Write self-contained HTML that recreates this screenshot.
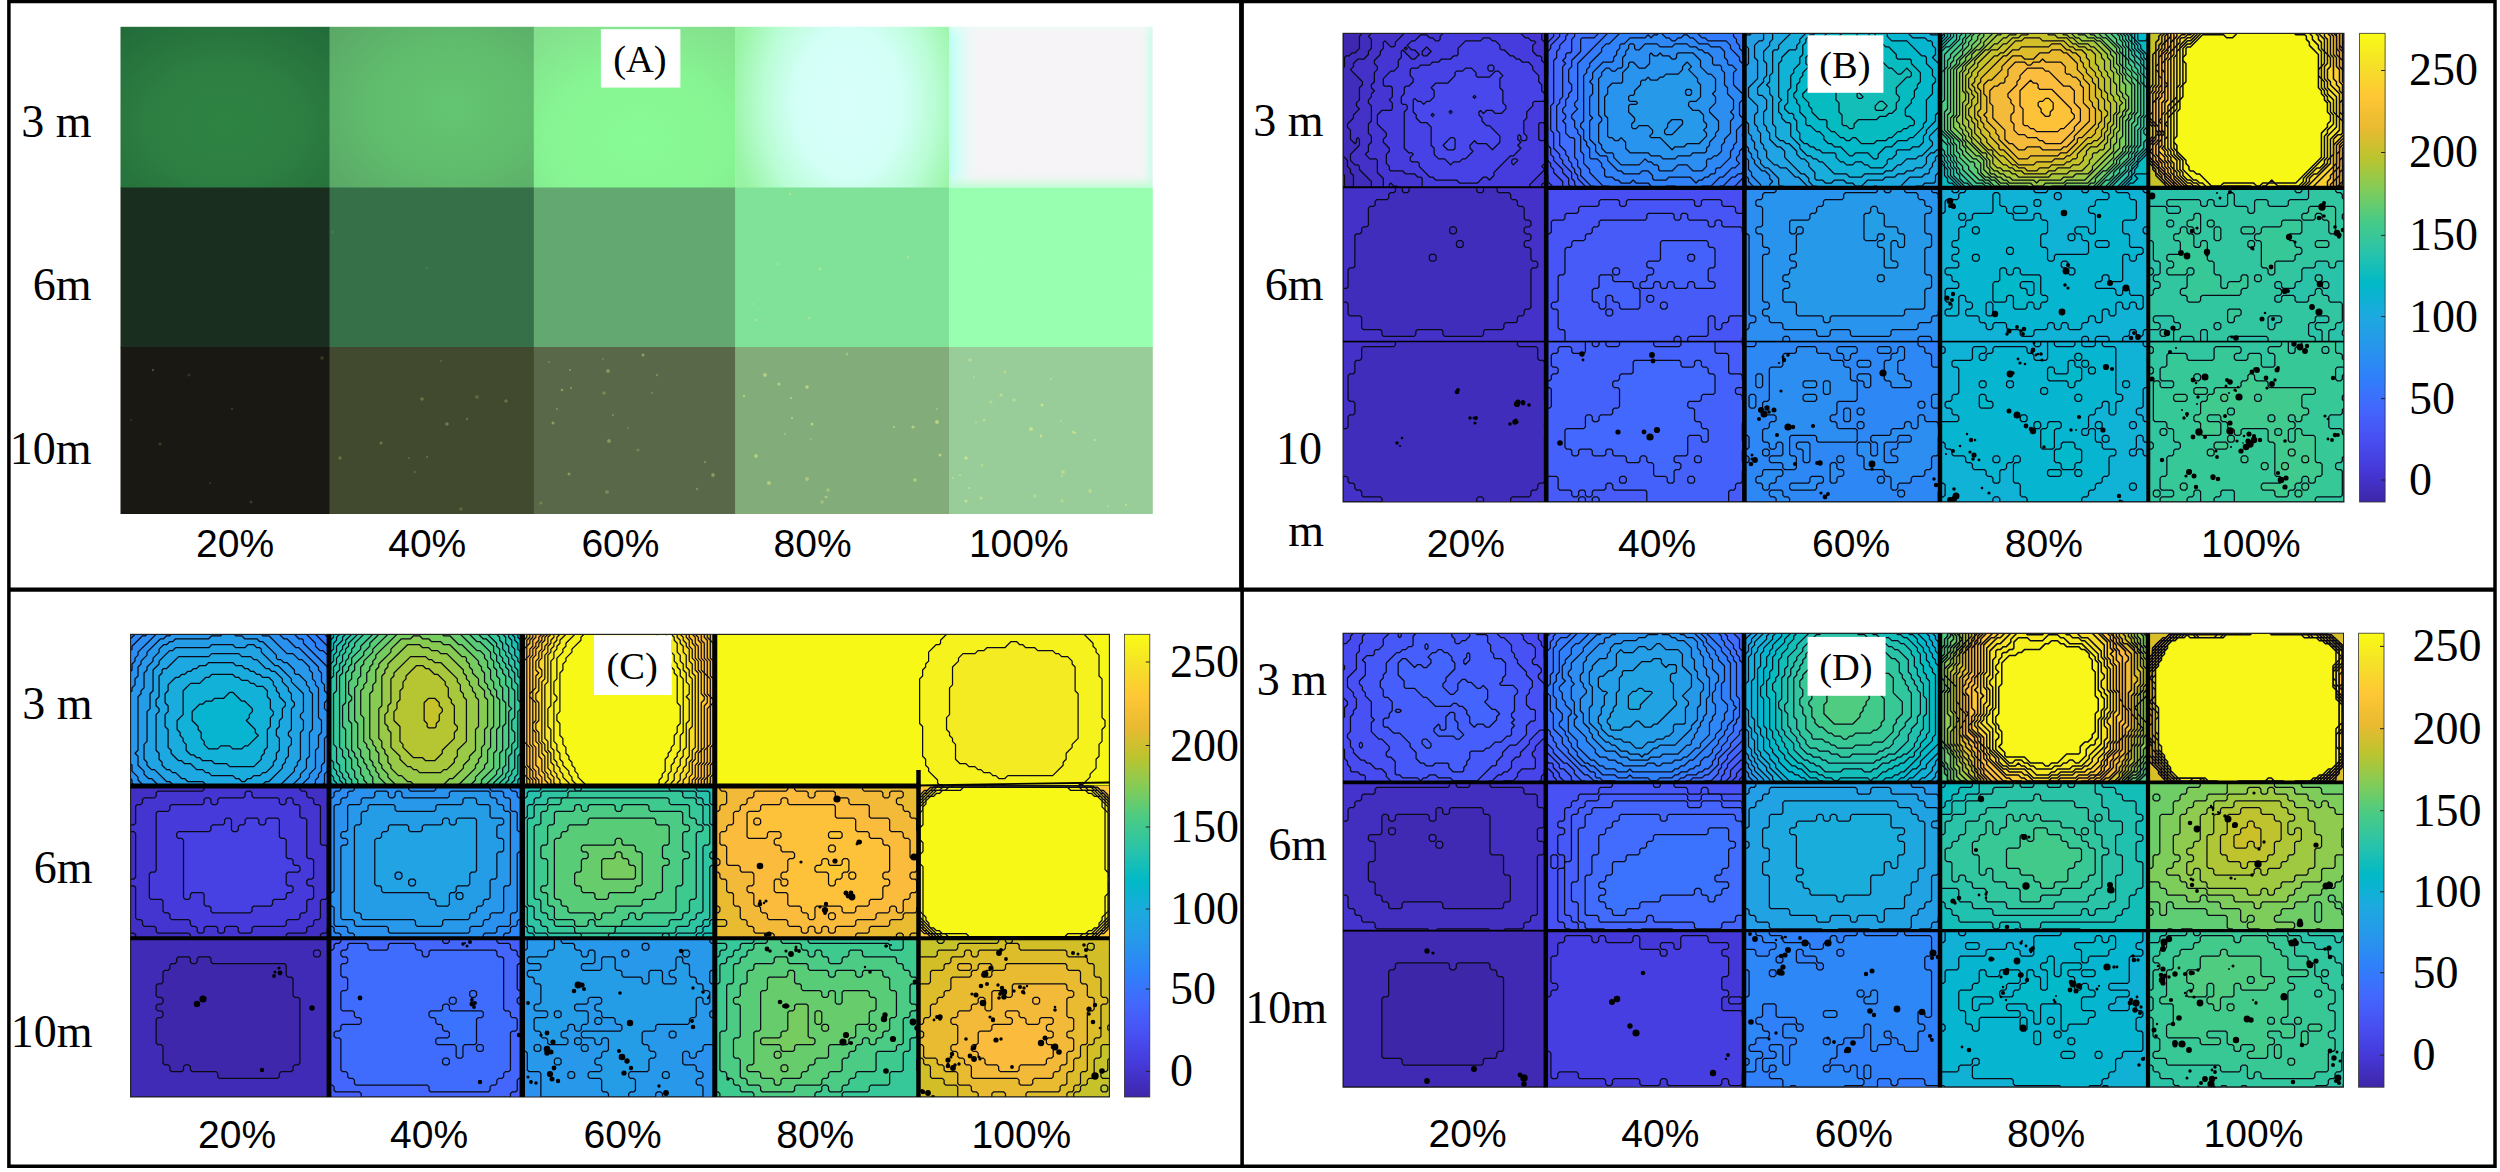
<!DOCTYPE html><html><head><meta charset="utf-8"><title>Figure</title><style>html,body{margin:0;padding:0;background:#fff}svg{display:block}</style></head><body><svg width="2500" height="1172" viewBox="0 0 2500 1172"><style>.se{font-family:"Liberation Serif",serif;font-size:46px;fill:#000}.sa{font-family:"Liberation Sans",sans-serif;font-size:39px;fill:#000}.tg{font-family:"Liberation Serif",serif;font-size:38.5px;fill:#000}path{vector-effect:non-scaling-stroke}</style><rect width="2500" height="1172" fill="#fff"/><defs><radialGradient id="a00" cx="0.5" cy="0.6" r="0.8"><stop offset="0" stop-color="#2e8443"/><stop offset="0.5" stop-color="#2c7d41"/><stop offset="1" stop-color="#216a39"/></radialGradient><radialGradient id="a01" cx="0.6" cy="0.5" r="0.8"><stop offset="0" stop-color="#63c571"/><stop offset="0.5" stop-color="#60bc6d"/><stop offset="1" stop-color="#5aa666"/></radialGradient><radialGradient id="a02" cx="0.52" cy="0.7" r="0.85"><stop offset="0" stop-color="#88fb96"/><stop offset="0.55" stop-color="#86f492"/><stop offset="1" stop-color="#84dd8c"/></radialGradient><radialGradient id="a03" cx="0.53" cy="0.47" r="0.6" gradientTransform="translate(0.53 0.47) scale(0.92 1.7) translate(-0.53 -0.47)"><stop offset="0" stop-color="#d8fffb"/><stop offset="0.45" stop-color="#d3fff7"/><stop offset="0.72" stop-color="#bafdd6"/><stop offset="1" stop-color="#98f4a4"/></radialGradient><linearGradient id="a04l" x1="0" y1="0" x2="1" y2="0"><stop offset="0" stop-color="#bcfff0" stop-opacity="1"/><stop offset="0.05" stop-color="#d0fff8" stop-opacity="0.9"/><stop offset="0.16" stop-color="#f6f4f6" stop-opacity="0"/><stop offset="0.93" stop-color="#f6f4f6" stop-opacity="0"/><stop offset="1" stop-color="#c0ffe8" stop-opacity="0.9"/></linearGradient><linearGradient id="a04b" x1="0" y1="0" x2="0" y2="1"><stop offset="0" stop-color="#e8fff4" stop-opacity="0.5"/><stop offset="0.06" stop-color="#f6f4f6" stop-opacity="0"/><stop offset="0.9" stop-color="#f6f4f6" stop-opacity="0"/><stop offset="1" stop-color="#b8ffd0" stop-opacity="0.9"/></linearGradient><linearGradient id="a14" x1="0" y1="0" x2="0" y2="1"><stop offset="0" stop-color="#98ffb2"/><stop offset="1" stop-color="#96fbac"/></linearGradient></defs><rect x="120.5" y="26.8" width="209.5" height="161.2" fill="url(#a00)"/><rect x="329.5" y="26.8" width="204.8" height="161.2" fill="url(#a01)"/><rect x="533.8" y="26.8" width="201.9" height="161.2" fill="url(#a02)"/><rect x="735.2" y="26.8" width="214.3" height="161.2" fill="url(#a03)"/><rect x="949.0" y="26.8" width="203.8" height="161.2" fill="#f6f4f6"/><rect x="120.5" y="187.5" width="209.5" height="160.0" fill="#1a2e20"/><rect x="329.5" y="187.5" width="204.8" height="160.0" fill="#357048"/><rect x="533.8" y="187.5" width="201.9" height="160.0" fill="#62a870"/><rect x="735.2" y="187.5" width="214.3" height="160.0" fill="#80e298"/><rect x="949.0" y="187.5" width="203.8" height="160.0" fill="#98ffb0"/><rect x="120.5" y="347.0" width="209.5" height="167.0" fill="#1a1812"/><rect x="329.5" y="347.0" width="204.8" height="167.0" fill="#414a2e"/><rect x="533.8" y="347.0" width="201.9" height="167.0" fill="#586848"/><rect x="735.2" y="347.0" width="214.3" height="167.0" fill="#82ac7a"/><rect x="949.0" y="347.0" width="203.8" height="167.0" fill="#98cc98"/><rect x="949.0" y="26.8" width="203.3" height="160.7" fill="url(#a04l)"/><rect x="949.0" y="26.8" width="203.3" height="160.7" fill="url(#a04b)"/><g fill="#e8f28a"><circle cx="189" cy="375" r="1.6" opacity="0.13"/><circle cx="232" cy="409" r="1.0" opacity="0.19"/><circle cx="131" cy="420" r="1.0" opacity="0.14"/><circle cx="210" cy="483" r="1.0" opacity="0.15"/><circle cx="251" cy="502" r="1.5" opacity="0.17"/><circle cx="322" cy="358" r="1.8" opacity="0.16"/><circle cx="153" cy="370" r="1.2" opacity="0.23"/><circle cx="160" cy="444" r="1.6" opacity="0.17"/><circle cx="441" cy="361" r="1.0" opacity="0.18"/><circle cx="467" cy="419" r="1.2" opacity="0.24"/><circle cx="422" cy="399" r="1.8" opacity="0.25"/><circle cx="381" cy="443" r="1.5" opacity="0.28"/><circle cx="477" cy="397" r="2.0" opacity="0.17"/><circle cx="415" cy="472" r="1.1" opacity="0.22"/><circle cx="340" cy="458" r="1.7" opacity="0.24"/><circle cx="506" cy="401" r="1.7" opacity="0.24"/><circle cx="447" cy="424" r="1.8" opacity="0.29"/><circle cx="427" cy="457" r="1.0" opacity="0.26"/><circle cx="461" cy="509" r="1.8" opacity="0.19"/><circle cx="409" cy="458" r="0.9" opacity="0.22"/><circle cx="570" cy="370" r="1.0" opacity="0.35"/><circle cx="562" cy="390" r="1.3" opacity="0.37"/><circle cx="553" cy="423" r="1.5" opacity="0.38"/><circle cx="697" cy="489" r="1.2" opacity="0.28"/><circle cx="607" cy="492" r="2.0" opacity="0.23"/><circle cx="571" cy="388" r="1.2" opacity="0.30"/><circle cx="652" cy="393" r="0.9" opacity="0.28"/><circle cx="609" cy="441" r="1.9" opacity="0.34"/><circle cx="638" cy="450" r="1.6" opacity="0.21"/><circle cx="713" cy="475" r="1.9" opacity="0.36"/><circle cx="613" cy="415" r="1.0" opacity="0.33"/><circle cx="549" cy="362" r="1.1" opacity="0.23"/><circle cx="603" cy="359" r="0.9" opacity="0.23"/><circle cx="557" cy="409" r="0.9" opacity="0.37"/><circle cx="657" cy="375" r="1.2" opacity="0.27"/><circle cx="608" cy="371" r="1.8" opacity="0.40"/><circle cx="628" cy="428" r="1.0" opacity="0.22"/><circle cx="604" cy="393" r="1.8" opacity="0.23"/><circle cx="541" cy="503" r="1.5" opacity="0.23"/><circle cx="643" cy="355" r="1.5" opacity="0.40"/><circle cx="705" cy="462" r="1.2" opacity="0.27"/><circle cx="569" cy="474" r="1.5" opacity="0.36"/><circle cx="807" cy="387" r="1.8" opacity="0.55"/><circle cx="915" cy="480" r="1.8" opacity="0.48"/><circle cx="785" cy="434" r="1.3" opacity="0.28"/><circle cx="744" cy="396" r="1.2" opacity="0.47"/><circle cx="937" cy="422" r="1.9" opacity="0.55"/><circle cx="937" cy="409" r="1.1" opacity="0.34"/><circle cx="779" cy="384" r="1.6" opacity="0.52"/><circle cx="913" cy="427" r="1.6" opacity="0.49"/><circle cx="756" cy="456" r="1.9" opacity="0.49"/><circle cx="894" cy="427" r="1.1" opacity="0.49"/><circle cx="807" cy="479" r="2.0" opacity="0.38"/><circle cx="822" cy="502" r="1.7" opacity="0.32"/><circle cx="765" cy="375" r="1.9" opacity="0.50"/><circle cx="769" cy="483" r="2.0" opacity="0.46"/><circle cx="811" cy="439" r="1.0" opacity="0.28"/><circle cx="940" cy="455" r="1.5" opacity="0.53"/><circle cx="828" cy="490" r="1.8" opacity="0.33"/><circle cx="791" cy="398" r="1.2" opacity="0.44"/><circle cx="792" cy="418" r="1.0" opacity="0.53"/><circle cx="812" cy="424" r="1.5" opacity="0.52"/><circle cx="826" cy="497" r="1.5" opacity="0.42"/><circle cx="847" cy="354" r="1.4" opacity="0.33"/><circle cx="953" cy="478" r="1.1" opacity="0.44"/><circle cx="1095" cy="440" r="1.3" opacity="0.46"/><circle cx="1062" cy="476" r="1.0" opacity="0.47"/><circle cx="1001" cy="395" r="1.7" opacity="0.45"/><circle cx="1063" cy="472" r="1.9" opacity="0.43"/><circle cx="1073" cy="432" r="1.5" opacity="0.51"/><circle cx="1041" cy="436" r="1.4" opacity="0.58"/><circle cx="1090" cy="491" r="1.9" opacity="0.38"/><circle cx="1062" cy="501" r="1.8" opacity="0.34"/><circle cx="976" cy="422" r="1.0" opacity="0.37"/><circle cx="966" cy="458" r="1.8" opacity="0.57"/><circle cx="982" cy="465" r="1.6" opacity="0.34"/><circle cx="1126" cy="505" r="1.1" opacity="0.59"/><circle cx="1031" cy="429" r="2.0" opacity="0.55"/><circle cx="984" cy="420" r="1.5" opacity="0.40"/><circle cx="991" cy="402" r="1.7" opacity="0.31"/><circle cx="1061" cy="421" r="0.9" opacity="0.40"/><circle cx="1075" cy="433" r="1.0" opacity="0.60"/><circle cx="1108" cy="506" r="1.0" opacity="0.38"/><circle cx="960" cy="475" r="1.2" opacity="0.34"/><circle cx="1035" cy="496" r="1.8" opacity="0.38"/><circle cx="981" cy="498" r="1.5" opacity="0.51"/><circle cx="970" cy="360" r="1.7" opacity="0.43"/><circle cx="966" cy="501" r="1.6" opacity="0.54"/><circle cx="969" cy="488" r="1.0" opacity="0.56"/><circle cx="1042" cy="405" r="1.5" opacity="0.58"/><circle cx="1005" cy="372" r="1.5" opacity="0.37"/><circle cx="974" cy="377" r="1.0" opacity="0.36"/><circle cx="1014" cy="400" r="1.7" opacity="0.39"/><circle cx="1051" cy="379" r="1.3" opacity="0.31"/><circle cx="790" cy="194" r="1.4" opacity="0.31"/><circle cx="778" cy="264" r="1.5" opacity="0.22"/><circle cx="908" cy="257" r="1.2" opacity="0.37"/><circle cx="820" cy="269" r="1.4" opacity="0.40"/><circle cx="809" cy="318" r="1.4" opacity="0.33"/><circle cx="822" cy="245" r="0.8" opacity="0.23"/><circle cx="753" cy="304" r="1.0" opacity="0.23"/><circle cx="756" cy="320" r="1.5" opacity="0.33"/><circle cx="1008" cy="228" r="1.0" opacity="0.22"/><circle cx="983" cy="259" r="1.0" opacity="0.29"/><circle cx="1144" cy="275" r="1.0" opacity="0.29"/><circle cx="1013" cy="246" r="0.8" opacity="0.21"/><circle cx="427" cy="268" r="1.0" opacity="0.15"/><circle cx="333" cy="232" r="0.9" opacity="0.14"/></g>
<clipPath id="cpB"><rect x="1343.0" y="33.3" width="1001.0" height="468.7"/></clipPath>
<g clip-path="url(#cpB)" stroke="#0a0a18" stroke-width="1.25" stroke-linejoin="round" vector-effect="non-scaling-stroke" fill-rule="evenodd">
<g transform="translate(1343.0 33.3) scale(1.4941 1.5127)"><rect width="136" height="102" fill="#3f28af" stroke="none"/><path fill="#3f28af" d="M0 0h136v102h-135v-8l-1-1z"/><path fill="#412dbc" d="M11 2l2-2h123v102h-129v-8l-2-2v-2l-2-2v-4l-3-3v-58l1-1v-6l1-1h2l2-2h2l3-3z"/><path fill="#4331c8" d="M17 2l2-2h117v102h-117v-4l-8-8v-2l-1-1h-2l-3-3v-4l6-6v-4l-1-1l-1 1v2l-1 1l-3-3v-6l-2-2v-2l4-4v-2l4-4l-2-2v-2l2-2v-8l2-2v-2l-8-8l2-2v-2l3-3h4l3-3v-2l2-2v-6z"/><path fill="#4536d4" d="M41 0h92v4l3 3v92h-2l-1 1v2h-96l-1-1h-2l-2-2l-1 1v2h-4v-6l-4-4v-8l-1-1h-4l-3-3l2-2v-4l2-2v-4l-2-2v-6l2-2v-10l-2-2v-2l2-2v-2l2-2l-2-2v-2l2-2v-6l2-2v-2l-2-2v-2l4-4v-2l2-2v-4l1-1l4 4h2l1-1v-2z"/><path fill="#463cde" d="M52 1h4l2 2h2l2 2h2l1-1v-2l2-2h52l3 3h2l2 2h2l1 1l-2 2v4l3 3h2l1 1v2l2 2v6l1 1v34l-2-2h-2l-1 1v10l1 1h4v10l-1 1v4l-2 2l2 2l-10 10v2h-72v-6l-1-1h-2l-2-2h-6l-2-2h-8l-1-1v-2l-2-2v-6l2-2v-2l-4-4v-2l2-2v-2l-6-6v-6l3-3h6l1-1v-4l-2-2l2-2v-6l-1-1h-4l-1-1v-4l5-5h2l3-3v-4l2-2v-4l1-1l6 6h2l3-3l-3-3h-2l-3-3l3-3h2zM56 9l-3 3v2l1 1h2l3-3zM41 10l1-1l1 1l-1 1z"/><path fill="#4742e6" d="M94 3h4l2 2h2l3 3v2l1 1h2l4 4h2l2 2h2l2 2h4l3 3v2l4 4v4l2 2v4l2 2v4l-1 1h-6l-1 1v2l-4 4v4l-2 2v8l2 2v2l-1 1h-2l-1-1v-2l-1-1l-1 1v2l2 2l-2 2l2 2l-5 5h-2l-11 11v2l-3 3l-2-2h-2l-4 4h-12l-2-2h-14l-2-2h-2l-7-7v-2l-1-1h-4l-1-1v-2l2-2l-1-1h-2l-3-3v-24l2-2v-2l-1-1h-2l-1-1v-4l2-2v-4l1-1h2l3-3v-2l-2-2v-4l1-1h4l2-2h6l2-2h4l2-2h6l2-2h2l1-1v-4l5-5h10zM135 48l1-1v4l-1-1zM113 84l1-1h2l1 1l-3 3l-1-1z"/><path fill="#4848ec" d="M97 22l1-1h2l1 1v2l-1 1h-2l-1-1zM82 23h4l3 3v2l1 1h8l4-4h2l3 3l-2 2v6l2 2v8l2 2v2l-3 3h-4l-2-2h-4l-2 2l-2-2l-1 1v2l2 2v2l3 3h2l7 7v4l-5 5l-4-4h-6l-2-2l-3 3v2l2 2l-5 5h-2l-2 2h-4l-2 2l-4-4h-4l-3-3v-4l-2-2v-12l-3-3h-4l-3-3v-2l-2-2v-8l1-1l2 2h2l2 2l2-2h2l3-3v-4l-2-2l3-3h8l5-5v-2l1-1h4z"/><path fill="#484ef1" d="M87 42l1-1l1 1l-1 1zM71 52l1-1l1 1l-1 1zM59 54l1-1l1 1l-1 1zM72 69h2l1 1v6l-1 1h-4l-3-3z"/></g>
<g transform="translate(1546.2 33.3) scale(1.4985 1.5127)"><rect width="132" height="102" fill="#484ef1" stroke="none"/><path fill="#4755f6" d="M1 0h131v102h-127l-4-4v-4l-1-1v-92z"/><path fill="#475bf9" d="M5 0h127v102h-121v-4l-6-6v-2l-2-2v-2l-3-3v-76l5-5z"/><path fill="#4561fc" d="M9 0h123v102h-115l-2-2v-4l-4-4v-2l-6-6v-2l-2-2v-4l-2-2v-2l-1-1v-6l1-1v-2l-1-1v-14l1-1v-2l-1-1v-14l1-1v-16l2-2v-2l6-6z"/><path fill="#4368fd" d="M13 2l2-2h117v102h-111l-2-2v-2l-2-2v-4l-6-6v-2l-2-2v-2l-4-4v-10l-2-2v-16l2-2v-28l2-2v-4l2-2v-2l4-4z"/><path fill="#3f6eff" d="M19 0h113v101l-1 1h-104l-6-6v-2l-2-2v-2l-2-2v-2l-2-2v-2l-2-2v-2l-4-4v-8l-2-2v-16l2-2v-2l2-2v-20l2-2l-2-2l2-2v-2l1-1h2l1-1v-8l2-2z"/><path fill="#3975fe" d="M35 0h96l1 1v94l-7 7h-92l-1-1h-2l-7-7v-4l-2-2v-4l-2-2v-12l-1-1h-2l-3-3v-6l-2-2l2-2v-2l-2-2v-2l2-2v-4l2-2v-2l2-2v-4l-2-2v-8l2-2v-4l6-6v-8l1-1h8z"/><path fill="#327cfc" d="M41 0h84v2l2 2v2l2 2v2l2 2v2l1 1v76l-2 2h-2l-2 2h-2l-6 6h-2l-1 1h-72l-1-1h-4l-9-9v-2l-4-4v-6l-2-2v-10l-2-2v-2l-2-2v-4l-2-2v-2l4-4l-2-2v-2l2-2v-24z"/><path fill="#2f82f9" d="M49 0h52l3 3h2l2 2h12l3 3v2l6 6v2l3 3v44l-1 1v2l1 1v6l-3 3v2l-2 2v2l2 2l-3 3h-2l-6 6h-2l-6 6h-6l-1 1h-16l-1-1h-6l-1 1h-8l-3-3h-8l-2-2l-2 2h-6l-2-2h-2l-2-2h-4l-1-1v-4l-2-2v-2l-3-3h-4l-1-1v-6l-2-2v-2l-2-2v-6l-2-2v-2l2-2v-30l2-2v-2l2-2v-2l8-8v-2l3-3h2z"/><path fill="#2d88f6" d="M68 1l2 2l2-2h2l1-1h2l3 3h2l2 2h2l2-2h2l2-2h2l2 2h2l4 4h6l2 2h6l3 3v4l2 2v2l1 1h2l3 3l-2 2v8l6 6v4l-2 2v8l2 2v4l-4 4v8l-2 2v2l-2 2v4l-7 7h-2l-1 1v2l-1 1h-2l-2 2h-2l-2 2h-2l-2 2l-4-4h-14l-2 2h-8l-1-1v-2l-3-3h-4l-2 2h-10l-2-2h-2l-7-7v-2l-1-1h-4l-3-3v-4l-4-4v-12l2-2l-2-2v-12l2-2v-6l-2-2l2-2v-4l7-7h6l1-1v-2l2-2v-2l2-2v-2l1-1h2l4-4h10z"/><path fill="#2c8ef1" d="M55 8l1-1h2l1 1v2l1 1h2l4-4h8l2 2h8l2-2h8l2 2h4l2 2h2l2 2h2l3 3v4l1 1h4l1 1v2l2 2v8l2 2v4l4 4v6l-2 2l2 2v2l-2 2v8l-4 4v2l-2 2v4l-3 3h-2l-2 2h-2l-1 1v4l-3 3h-6l-4-4h-6l-4 4h-8l-1-1v-2l-1-1h-2l-2-2h-2l-2-2l-4 4h-12l-5-5v-2l-1-1h-4l-3-3v-2l-2-2v-12l2-2v-2l-2-2v-24l2-2v-2l3-3h2l2 2h2l2-2h2l1-1v-6l2-2v-2l2-2z"/><path fill="#2994ed" d="M69 14l1-1l2 2h2l2-2l2 2h4l2 2h2l1-1v-2l1-1h10l5 5v4l5 5h2l3 3v8l-2 2l2 2v4l-4 4v2l6 6v6l-2 2v2l-4 4v2l-2 2v2l-1 1h-8l-2 2h-8l-2 2h-8l-2-2h-6l-2-2h-12l-3-3v-4l-3-3l-2 2h-2l-2-2h-2l-1-1v-12l-2-2v-12l2-2v-4l3-3h6l1-1v-6l4-4v-2l1-1h2l4 4h4l3-3z"/><path fill="#2699e9" d="M94 19l3 3l-2 2l6 6v2l2 2v8l-3 3h-4l-1 1v2l3 3h4l3 3v4l2 2v2l-2 2l2 2v2l-5 5h-8l-2 2h-6l-2 2l-8-8h-6l-1-1l2-2v-2l-3-3h-6l-2 2h-2l-1-1v-2l2-2v-2l-4-4v-4l1-1h4l1-1l-1-1h-4l-1-1v-2l1-1h2l1-1v-2l4-4v-2l1-1h2l2-2l2 2h4l2-2h2l2-2h8l3-3v-2zM94 37l-1 1v2l1 1h2l1-1v-2l-1-1zM84 57l-3 3v2l-2 2v2l1 1h4l7-7v-2l-1-1z"/></g>
<g transform="translate(1744.0 33.3) scale(1.5077 1.5127)"><rect width="130" height="102" fill="#2f82f9" stroke="none"/><path fill="#2d88f6" d="M0 0h130v102h-127l-3-3z"/><path fill="#2c8ef1" d="M0 0h130v102h-123l-4-4v-2l-2-2v-2l-1-1z"/><path fill="#2994ed" d="M0 0h130v102h-119v-2l-6-6v-2l-2-2v-6l-2-2v-2l-1-1z"/><path fill="#2699e9" d="M0 0h130v102h-113v-2l2-2l-2-2v-2l-3-3h-2l-5-5v-2l-2-2v-2l-2-2v-2l-2-2v-4l-1-1z"/><path fill="#249fe6" d="M1 2l1-1h2l1-1h125v101l-1 1h-102l-1-1h-2l-1-1v-4l-7-7h-2l-3-3v-2l-2-2v-4l-2-2v-4l-2-2v-2l-2-2v-6l-2-2v-8l-1-1v-2l1-1v-2l-1-1v-8l1-1v-8l-1-1v-4h2l1-1v-10l-2-2z"/><path fill="#20a4e3" d="M13 0h117v91l-3 3v4l-1 1h-6l-2 2h-4l-1 1h-70l-7-7h-2l-6-6h-4l-2-2h-2l-5-5v-4l-2-2v-2l-2-2v-6l-2-2v-2l-2-2v-6l2-2v-4l-6-6v-6l6-6v-12l-2-2v-8l3-3h2l1-1z"/><path fill="#1da9e0" d="M19 0h111v81h-2l-1 1v2l-2 2v2l-2 2v2l-1 1h-2l-2 2h-8l-7 7h-14l-1-1h-2l-1 1h-36l-1-1h-2l-3-3v-2l-3-3h-2l-11-11v-4l-3-3h-2l-5-5v-4l-2-2v-2l-2-2v-8l2-2v-6l-3-3h-2l-1-1v-4l4-4v-2l2-2v-8l-2-2v-6l4-4v-2l2-2z"/><path fill="#18addb" d="M31 0h99v65l-1 1v2l1 1v8h-2l-2 2h-2l-3 3v4l-3 3h-4l-2 2h-4l-2 2h-4l-2 2h-6l-2 2h-10l-4 4h-4l-2-2h-4l-2-2h-6l-2 2h-4l-2-2h-4l-1-1v-4l-4-4v-2l-3-3h-2l-3-3v-2l-5-5h-2l-2-2h-2l-3-3v-6l-2-2v-18l-2-2v-4l-2-2l2-2v-4l2-2v-14l1-1h2l1-1v-2z"/><path fill="#10b2d5" d="M41 0h82l1 1h6v60l-7 7v2l2 2v2l-7 7h-2l-2 2h-6l-4 4h-2l-4 4h-4l-2 2h-12l-2 2h-8l-2-2h-8l-8-8h-2l-2-2h-2l-2-2h-2l-5-5v-2l-6-6v-8l-1-1h-2l-3-3v-2l-2-2v-6l2-2l-2-2v-22l2-2v-2l5-5h4l1-1v-2l2-2v-2z"/><path fill="#06b5cf" d="M44 1h2l1-1h62l3 3h8l2 2h2l1 1v2l2 2v4l-2 2l5 5v14l-1 1v16l-2 2v4l-6 6v2l-2 2v4l-3 3h-4l-2 2h-8l-1 1v2l-3 3h-2l-1 1v2l-3 3h-8l-2-2h-2l-2-2h-4l-2 2h-4l-2-2h-2l-3-3v-2l-1-1h-8l-2-2h-2l-2-2h-2l-2-2h-2l-3-3v-4l-2-2v-6l-2-2v-2l-1-1h-2l-3-3v-2l2-2v-8l2-2v-8l2-2v-2l4-4v-4l2-2v-6l2-2v-2z"/><path fill="#01b9c8" d="M55 0h40v2l3 3h10l10 10h2l1 1v4l4 4v4l2 2v2l-2 2v6l-4 4v14l-2 2v2l-7 7h-2l-2 2h-6l-4 4h-4l-5 5v2l-1 1h-2l-4-4h-8l-2 2h-2l-6-6h-4l-2-2h-2l-3-3v-2l-3-3h-2l-4-4h-2l-1-1v-4l-4-4v-4l-2-2v-2l-2-2v-2l2-2v-4l2-2v-2l2-2v-2l4-4l-2-2v-4l2-2v-6l3-3h4z"/><path fill="#06bcc0" d="M65 0h10v2l1 1h2l2 2h2l1-1v-4h4v4l3 3h2l2 2h2l5 5v2l1 1h8l1 1v2l6 6v6l-2 2v2l-2 2v4l-2 2v2l-4 4v4l1 1h2l3 3v2l-1 1h-2l-2 2h-2l-2 2h-2l-4 4h-2l-2 2h-6l-2 2h-8l-4-4h-2l-2 2h-2l-2-2h-2l-4-4h-2l-3-3v-4l-1-1h-4l-5-5v-2l-2-2v-2l-4-4v-2l4-4v-4l2-2v-6l2-2v-4l-2-2l2-2v-2l7-7h6z"/><path fill="#13beb9" d="M59 14l1-1l1 1v4l-1 1l-1-1zM78 13h8l2 2h2l1 1v2l5 5h2l4 4h2l4-4l3 3v2l-1 1h-2l-7 7v4l2 2v2l-2 2v4l-3 3h-2l-2 2h-4l-2 2h-12l-3 3v2l-1 1h-2l-2-2h-2l-1-1v-6l-2-2v-6l-2-2v-6l-2-2v-10l4-4v-2l1-1h6l2-2h2z"/><path fill="#20c1b1" d="M70 23h6l1 1v2l-2 2v2l-2 2v2l-1 1h-4l-3-3v-4zM75 40l1-1l3 3l-1 1h-2l-1-1zM90 45h2l3 3l-3 3h-4l-1-1v-2z"/></g>
<g transform="translate(1940.0 33.3) scale(1.5094 1.5127)"><rect width="138" height="102" fill="#01b9c8" stroke="none"/><path fill="#06bcc0" d="M3 0h128v4l1 1h4l2-2v90h-8l-1 1l2 2l-3 3h-2l-3 3h-123v-5l1-1v-8l-1-1v-84z"/><path fill="#13beb9" d="M3 0h126v4l4 4v2l4 4v4l1 1v60l-7 7v2l-2 2v2l-2 2v2l-6 6h-110l-3-3h-2l-1-1v-2l-2-2v-6l-3-3v-80l3-3z"/><path fill="#20c1b1" d="M5 0h122v2l2 2v2l2 2v2l4 4v2l2 2v6l1 1v50l-1 1v2l-6 6v2l-4 4v4l-8 8h-106l-8-8v-4l-2-2v-2l-2-2v-2l-1-1v-74l5-5z"/><path fill="#2ac3a9" d="M7 0h118l2 2v4l2 2v2l4 4v2l2 2v4l2 2v4l1 1v32l-1 1v6l1 1v2l-1 1v4l-6 6v2l-4 4v2l-2 2v2l-8 8h-102l-8-8v-4l-2-2v-2l-2-2v-2l-3-3v-70l7-7z"/><path fill="#31c6a0" d="M9 0h114l2 2v2l2 2v4l2 2v2l4 4v2l2 2v6l2 2v12l1 1v12l-1 1v6l-2 2v2l2 2v2l-2 2v4l-6 6v2l-4 4v2l-12 12h-96l-8-8v-4l-2-2v-2l-2-2v-2l-2-2v-2l-2-2v-4l-1-1v-60l9-9z"/><path fill="#37c897" d="M11 0h110l2 2v2l2 2v4l2 2v2l2 2v2l4 4v4l2 2v6l2 2v18l-2 2v6l-2 2v10l-2 2v2l-2 2v2l-6 6v2l-12 12h-90l-3-3h-2l-3-3v-2l-2-2v-2l-2-2v-2l-2-2v-2l-2-2v-6l-4-4v-2l-1-1v-38l1-1v-16l3-3h2l5-5z"/><path fill="#40ca8d" d="M13 2l2-2h104l2 2v2l2 2v2l2 2v6l4 4v2l2 2v2l2 2v4l2 2v20l-2 2v6l-2 2v10l-2 2v2l-2 2v2l-8 8v2l-10 10h-80l-1-1h-6l-9-9v-2l-2-2v-2l-2-2v-2l-2-2v-6l-2-2v-2l-4-4v-2l-1-1v-20l1-1v-16l2-2v-10l10-10z"/><path fill="#4dcb82" d="M17 0h100l2 2v2l2 2v2l2 2v6l2 2v2l2 2v2l4 4v4l2 2v20l-2 2v4l-2 2v12l-2 2v2l-2 2v2l-10 10v2l-3 3h-2l-5 5h-72l-1-1h-2l-2-2h-4l-9-9v-2l-4-4v-2l-2-2v-6l-2-2v-2l-6-6v-18l2-2v-20l2-2v-4l2-2v-2l8-8v-2l2-2z"/><path fill="#5bcc77" d="M21 0h92l4 4v2l4 4v4l2 2v6l4 4v2l4 4v20l-2 2v4l-2 2v14l-2 2v2l-6 6v2l-16 16h-68l-3-3h-2l-2-2h-2l-7-7v-2l-6-6v-2l-2-2v-4l-2-2v-2l-6-6v-12l2-2v-26l2-2v-2l2-2v-2l6-6v-2l2-2v-2z"/><path fill="#69cd6a" d="M21 2l2-2h86l10 10v2l2 2v8l2 2v2l4 4v2l2 2v18l-2 2v2l-2 2v16l-2 2v2l-6 6v2l-16 16h-62l-1-1h-2l-4-4h-2l-5-5v-2l-2-2v-2l-1-1h-2l-5-5v-2l-2-2v-4l-8-8v-10l2-2v-28l4-4v-2l4-4v-2l4-4v-2l2-2z"/><path fill="#79cc5e" d="M25 2l2-2h78l3 3h2l7 7v2l2 2v6l2 2v4l2 2v2l4 4v18l-2 2v2l-2 2v16l-2 2v2l-6 6v2l-5 5h-2l-5 5v2l-1 1h-2l-2 2h-16l-1 1h-36l-1-1h-4l-4-4h-2l-2-2h-2l-3-3v-6l-3-3h-2l-5-5v-2l-2-2v-2l-8-8v-8l2-2v-30l4-4v-2l8-8v-2l4-4z"/><path fill="#8acb52" d="M29 0h70l1 1h2l2 2h2l11 11v6l2 2v4l2 2v4l2 2v6l2 2v8l-2 2v2l-2 2v12l-2 2v6l-4 4v2l-17 17h-14l-2 2h-8l-1 1h-14l-1-1h-12l-2-2h-4l-4-4h-2l-5-5v-6l-3-3h-2l-7-7v-2l-2-2v-2l-6-6v-6l2-2v-30l6-6v-2l10-10v-2l2-2z"/><path fill="#9ac946" d="M35 0h56l1 1h4l2 2h4l2 2h2l7 7v2l2 2v6l2 2v2l2 2v10l2 2v2l2 2v6l-2 2v2l-2 2v8l-2 2v6l-2 2v4l-19 19h-12l-2 2h-12l-2 2h-6l-2-2h-14l-2-2h-2l-2-2h-2l-2-2h-2l-1-1v-2l-2-2v-4l-14-14v-2l-2-2v-2l-2-2v-2l-2-2v-2l2-2v-28l2-2v-2l6-6v-2l3-3h2l3-3v-2z"/><path fill="#a9c73a" d="M38 1h2l1-1h46l3 3h2l2 2h8l9 9v2l2 2v6l2 2v6l2 2v6l2 2v2l2 2l-2 2v4l-2 2v8l-2 2v4l-2 2v6l-12 12v2l-3 3h-8l-2 2h-6l-2 2h-14l-2 2l-2-2h-14l-2-2h-2l-2-2h-2l-2-2h-2l-3-3v-4l-2-2v-2l-1-1h-2l-7-7v-2l-2-2v-2l-2-2v-2l-2-2v-14l2-2v-4l-2-2v-12l2-2v-2z"/><path fill="#b8c431" d="M46 1h4l1-1h30l1 1h2l2 2h2l4 4h6l2 2h2l5 5v2l2 2v6l2 2v2l2 2v10l2 2v2l2 2v6l-2 2v6l-2 2v4l-2 2v4l-2 2v2l-1 1h-2l-2 2h-2l-1 1v2l-2 2v2l-5 5h-8l-2 2h-10l-2 2h-20l-2-2h-2l-2-2h-4l-2-2h-2l-3-3v-4l-14-14v-4l-2-2v-4l-2-2v-8l2-2v-6l-2-2v-10l2-2v-2l4-4v-2l7-7h2l4-4h2l4-4h2z"/><path fill="#c6c22a" d="M54 1h4l1-1h12l1 1h4l2 2h6l4 4h2l2 2h4l2 2h2l3 3v6l2 2v2l2 2v2l2 2v8l2 2v4l2 2v12l-2 2v4l-2 2v4l-5 5h-4l-3 3v2l-2 2v2l-3 3h-4l-2 2h-8l-2 2h-4l-2 2h-14l-2-2h-4l-2-2h-2l-2-2h-2l-7-7v-2l-1-1h-2l-5-5v-2l-4-4v-6l-2-2v-2l-2-2v-4l2-2v-4l2-2l-2-2v-2l-2-2v-6l2-2v-2l4-4v-2l9-9h4l4-4h2l4-4h4z"/><path fill="#d3bf27" d="M56 3h10l2 2h14l4 4h2l2 2h4l3 3v2l2 2v4l4 4v2l2 2v6l2 2v4l2 2v6l2 2v2l-2 2v6l-2 2v4l-3 3h-2l-2 2h-2l-7 7v2l-1 1h-2l-2 2h-2l-2 2h-8l-2 2h-6l-2 2h-6l-2-2h-4l-2-2h-2l-6-6h-2l-9-9v-2l-4-4v-2l-2-2v-4l-2-2v-8l2-2v-6l-2-2v-2l-2-2l2-2v-2l2-2v-2l11-11h2l2-2h2l8-8h4z"/><path fill="#dfbc2a" d="M74 7h6l4 4h2l2 2h2l3 3v2l2 2v2l2 2v2l4 4v2l2 2v8l2 2v6l2 2v6l-2 2v2l-2 2v2l-3 3h-2l-12 12h-2l-2 2h-6l-2 2h-10l-2 2h-10l-10-10h-2l-1-1v-2l-6-6v-2l-4-4v-2l-2-2v-2l-2-2v-2l2-2v-12l-2-2v-2l2-2v-2l15-15h2l4-4h4l2-2h18z"/><path fill="#eabb30" d="M74 11h6l2 2h2l7 7v4l4 4v2l4 4v10l2 2v2l2 2v10l-9 9h-2l-1 1v2l-7 7h-4l-2 2h-18l-2 2h-6l-13-13v-2l-2-2v-2l-6-6v-2l-2-2l2-2v-10l-2-2v-6l3-3h2l7-7v-2l7-7h6l2 2h6l4-4h6z"/><path fill="#f4ba39" d="M68 17l2 2h10l3 3v4l1 1h2l2 2h2l3 3v2l2 2v10l4 4v8l-10 10v2l-5 5h-2l-2 2h-12l-2-2h-8l-2 2h-4l-4-4h-2l-3-3v-6l-8-8v-8l-2-2v-8l3-3h2l2-2h2l1-1v-2l2-2v-4l5-5h6l2 2h2l2-2h4z"/><path fill="#fcbc3d" d="M58 23h10l2 2h2l10 10h4l3 3v8l4 4v8l-4 4v2l-9 9h-10l-2-2h-2l-2-2h-6l-2-2h-4l-3-3v-4l-2-2v-4l2-2v-4l-2-2v-2l-2-2v-2l6-6v-2l2-2v-2z"/><path fill="#fec239" d="M60 31l2 2h2l1 1v2l1 1h8l13 13v2l2 2v2l-7 7h-2l-2 2h-14l-2-2h-2l-2-2h-2l-1-1v-10l-2-2v-10z"/><path fill="#fec835" d="M70 43h2l3 3v4l-2 2v2l-1 1h-2l-3-3v-2l-2-2v-2l1-1h2z"/></g>
<g transform="translate(2148.3 33.3) scale(1.5054 1.5127)" stroke-width="1.50"><rect width="130" height="102" fill="#c6c22a" stroke="none"/><path fill="#d3bf27" d="M7 2l2-2h121v101l-1 1h-116l-8-8v-2l-2-2v-2l-3-3v-12l1-1v-2l2-2v-6l-3-3v-20l1-1v-2l2-2v-20l2-2v-6l2-2z"/><path fill="#dfbc2a" d="M9 2l2-2h118v6l1 1v90l-1 1v2l-2 2h-114l-2-2v-2l-6-6v-2l-2-2v-2l-2-2v-2l-1-1v-6l1-1v-2l2-2v-10l-2-2v-18l2-2v-2l2-2v-22l2-2v-2l2-2z"/><path fill="#eabb30" d="M11 2l2-2h116v10l1 1v76l-1 1v10l-2 2v2h-112l-6-6v-2l-2-2v-2l-4-4v-2l-2-2v-8l2-2v-2l2-2v-6l-2-2v-2l-2-2v-2l2-2v-12l2-2v-2l2-2v-8l-2-2v-2l2-2v-8l2-2v-2l2-2z"/><path fill="#f4ba39" d="M13 0h114v8l2 2v2l1 1v66l-1 1v10l-2 2v8l-2 2h-108l-6-6v-2l-4-4v-2l-4-4v-4l-2-2l2-2v-4l2-2v-2l2-2l-2-2v-4l-2-2v-12l2-2v-4l2-2v-2l2-2v-4l-2-2v-12l2-2v-2l2-2v-4l2-2z"/><path fill="#fcbc3d" d="M15 0h112v10l2 2v8l1 1v54l-1 1v6l-2 2v10l-2 2v6h-108v-2l-6-6v-2l-4-4v-2l-2-2v-2l-2-2v-6l4-4v-8l-2-2v-16l2-2v-2l2-2v-24l4-4v-6l2-2z"/><path fill="#fec239" d="M15 0h110v10l2 2v4l2 2v6l1 1v48l-3 3v12l-2 2v6l-2 2v4h-104l-2-2v-2l-6-6v-2l-2-2v-2l-2-2v-2l-2-2v-6l2-2v-4l2-2l-2-2v-20l2-2v-2l2-2v-12l-2-2v-4l2-2v-4l2-2v-2l2-2z"/><path fill="#fec835" d="M17 0h106l2 2v12l2 2v6l2 2v8l1 1v14l-1 1v4l1 1v18l-3 3v4l-2 2v10l-2 2v6l-2 2v2h-100l-6-6v-2l-2-2v-2l-2-2v-2l-4-4v-10l2-2v-10l-2-2l2-2v-10l2-2v-8l2-2l-2-2v-14l2-2v-2l2-2v-6l2-2z"/><path fill="#fccf30" d="M19 0h102l2 2v12l2 2v6l2 2v8l2 2v20l1 1v14l-5 5v12l-2 2v4l-2 2v2l-2 2v4h-96l-6-6v-2l-2-2v-2l-2-2v-2l-2-2v-2l-4-4v-2l2-2v-6l2-2l-2-2v-10l2-2v-6l2-2v-26l2-2v-4l2-2v-6l2-2z"/><path fill="#f9d62d" d="M22 1h2l1-1h94l2 2v12l2 2v14l2 2v2l2 2v2l2 2v4l-2 2v6l2 2v4l1 1v8l-7 7v14l-14 14h-82l-1-1h-2l-7-7v-4l-2-2v-2l-2-2v-2l-2-2v-2l-2-2l2-2v-20l2-2v-4l2-2v-30l2-2v-4l2-2v-4z"/><path fill="#f7dd2a" d="M26 1h2l1-1h88v2l2 2v10l2 2v6l-2 2v6l2 2v2l6 6v16l2 2v8l-1 1h-2l-3 3v10l-2 2v4l-16 16h-76l-1-1h-2l-7-7v-2l-2-2v-4l-2-2v-2l-2-2v-2l-2-2v-6l2-2v-6l-2-2l2-2v-6l2-2v-4l2-2v-28l2-2v-6l2-2v-2l1-1h2z"/><path fill="#f5e427" d="M31 0h82l4 4v8l2 2v6l-2 2v8l2 2v4l6 6v12l2 2v8l-6 6v12l-2 2v2l-7 7h-2l-3 3v2l-4 4h-70l-1-1h-2l-2-2h-2l-5-5v-2l-2-2v-6l-4-4v-2l-2-2v-20l2-2v-4l2-2v-4l2-2v-30l2-2v-2l5-5h2z"/><path fill="#f5eb23" d="M33 0h78l2 2v2l2 2v4l2 2v8l-2 2v8l2 2v4l2 2v2l4 4v8l2 2v8l-6 6v14l-2 2v2l-3 3h-2l-7 7v2l-4 4h-66l-3-3h-2l-2-2h-2l-3-3v-2l-2-2v-6l-4-4v-2l-2-2v-22l2-2v-4l2-2v-10l2-2v-24l5-5h2z"/><path fill="#f6f21e" d="M35 0h72l2 2v2l4 4v2l2 2v10l-2 2v4l2 2v6l2 2v2l2 2v2l2 2v6l2 2v6l-4 4v2l-2 2v14l-14 14v2l-3 3h-14l-2-2h-4l-2 2h-2l-1 1h-6l-1-1h-18l-1 1h-10l-3-3h-2l-2-2h-2l-7-7v-6l-4-4v-2l-2-2v-24l2-2v-4l2-2v-8l2-2v-24l3-3h2z"/><path fill="#f8f817" d="M36 1h14l2 2h4l3-3h38l1 1h6l1 1v2l2 2v2l6 6v22l2 2v2l2 2v2l2 2v6l2 2v4l-2 2v2l-4 4v16l-17 17h-14l-2-2l-2 2h-4l-2 2h-2l-2-2h-20l-2 2h-6l-8-8h-2l-2-2h-2l-1-1v-2l-2-2v-2l-6-6v-4l-2-2v-2l2-2v-16l2-2v-6l2-2v-8l2-2v-12l-2-2v-2l2-2v-4l1-1h2z"/></g>
<g transform="translate(1343.0 187.6) scale(1.6933 1.7100)"><rect width="120" height="90" fill="#412dbc" stroke="none"/><path fill="#412dbc" d="M0 0h120v90h-120zM52 39l-1 1v2l1 1h2l1-1v-2l-1-1zM64 23l-1 1v2l1 1h2l1-1v-2l-1-1zM68 31l-1 1v2l1 1h2l1-1v-2l-1-1z"/><path fill="#4331c8" d="M0 0h31v2l-1 1h-2l-1 1v2l-1 1h-6l-1 1v2l-1 1h-2l-1 1v10l-1 1h-2l-1 1v2l-1 1h-2l-1 1v18l-1 1h-2l-1 1v10l-1 1h-2zM35 0h4v2l-1 1h-2l-1-1zM79 0h4v2l-1 1h-2l-1-1zM91 0h29v90h-120v-23h2l1 1v6l1 1h6l1 1v6l1 1h10l1 1v2l1 1h18l1-1v-2l1-1h14l1 1v2l1 1h22l1-1v-2l1-1h10l1-1v-2l1-1h6l1-1v-2l1-1h2l1-1v-2l1-1h2l1-1v-22l1-1h2l1-1v-2l-1-1h-2l-1-1v-6l-1-1h-2l-1-1v-2l1-1h2l1-1v-2l-1-1h-2l-1-1v-2l1-1h2l1-1v-2l-1-1h-2l-1-1v-6l-1-1h-2l-1-1v-2l-1-1h-2l-1-1v-2l-1-1h-6l-1-1z"/></g>
<g transform="translate(1546.2 187.6) scale(1.7052 1.7100)"><rect width="116" height="90" fill="#484ef1" stroke="none"/><path fill="#4755f6" d="M31 8l1-1h10l1 1v2l1 1h2l1-1v-2l1-1h38l1 1v2l1 1h2l1-1v-2l1-1h10l1 1v2l1 1h6l1 1v2l1 1h4v72l-1 1v2h-115v-63h2l1-1v-6l1-1h6l1-1v-2l1-1h6l1-1v-2l1-1h10l1-1z"/><path fill="#475bf9" d="M59 16l1-1h14l1 1v2l1 1h2l1-1v-2l1-1h2l1 1v2l1 1h10l1 1v2l1 1h2l1-1v-2l1-1h2l1 1v2l1 1h10l1 1v2l1 1v48h-8l-1 1v2l-1 1h-2l-1 1v2l-1 1h-2l-1-1v-6l-1-1h-2l-1 1v10l-1 1h-10l-1 1v2h-4v-2l-1-1h-2l-1 1v2h-64v-6l-1-1h-2l-1-1v-10l-1-1h-2l-1-1v-2l1-1h2l1-1v-14l1-1h2l1-1v-14l1-1h2l1-1v-2l1-1h6l1-1v-2l1-1h2l1-1v-2l1-1h2l1-1v-2l1-1h26l1-1z"/><path fill="#4561fc" d="M67 32l1-1h26l1 1v2l1 1h2l1 1v10l-1 1h-2l-1 1v6l1 1h2l1 1v2l-1 1h-10l-1-1v-2l-1-1h-2l-1 1v2l-1 1h-6l-1-1v-2l-1-1h-2l-1 1v2l-1 1h-2l-1-1v-2l-1-1h-2l-1 1v2l-1 1h-6l-1-1v-2l1-1h2l1-1v-2l1-1h2l1-1v-2l-1-1h-2l-1-1v-2l1-1h6l1-1zM84 39l-1 1v2l1 1h2l1-1v-2l-1-1zM39 48l1-1h2l1 1v2l-1 1h-2l-1-1zM31 52l1-1h6l1 1v2l1 1h10l1 1v2l1 1h2l1 1v10l-1 1h-10l-1-1v-2l-1-1h-2l-1-1v-2l-1-1h-2l-1 1v6l-1 1h-2l-1-1v-2l-1-1h-2l-1-1v-6l1-1h2l1-1zM59 64l1-1h2l1 1v2l-1 1h-2l-1-1zM67 68l1-1h2l1 1v2l-1 1h-2l-1-1zM35 72l1-1h2l1 1v2l-1 1h-2l-1-1z"/></g>
<g transform="translate(1744.0 187.6) scale(1.6897 1.7100)"><rect width="116" height="90" fill="#2d88f6" stroke="none"/><path fill="#2c8ef1" d="M0 0h116v90h-5v-2l-1-1h-6l-1 1v2h-76v-2l-1-1h-2l-1 1v2h-23v-7h2l1-1v-2l1-1h2l1-1v-2l-1-1h-2l-1-1v-46l-1-1h-2z"/><path fill="#2994ed" d="M19 0h92v2l1 1h2l1 1v2l1 1v64l-1 1v2l-1 1h-2l-1 1v2l-1 1h-6l-1 1v2l-1 1h-14l-1 1v2l-1 1h-22l-1-1v-2l-1-1h-10l-1 1v2l-1 1h-6l-1-1v-2l-1-1h-18l-1-1v-2l-1-1h-6l-1-1v-2l-1-1h-2l-1-1v-2l1-1h2l1-1v-2l-1-1h-2l-1-1v-26l1-1h2l1-1v-2l-1-1h-2l-1-1v-6l-1-1h-2l-1-1v-2l1-1h2l1-1v-10l-1-1h-2l-1-1v-2l1-1h2l1-1v-2l1-1h6l1-1z"/><path fill="#2699e9" d="M79 0h4v2l1 1h2l1-1v-2h8v2l1 1h6l1 1v2l1 1h2l1 1v2l1 1h2l1 1v2l-1 1h-2l-1 1v10l1 1h2l1 1v6l-1 1h-2l-1 1v14l1 1h2l1 1v6l-1 1h-2l-1 1v10l-1 1h-10l-1 1v2l-1 1h-42l-1 1v2l-1 1h-2l-1-1v-2l-1-1h-14l-1-1v-6l-1-1h-6l-1-1v-6l1-1h2l1-1v-2l-1-1h-2l-1-1v-2l1-1h2l1-1v-2l1-1h2l1-1v-2l-1-1h-2l-1-1v-2l1-1h2l1-1v-10l1-1h2l1-1v-2l-1-1h-2l-1 1v2l-1 1h-2l-1-1v-6l1-1h10l1-1v-2l1-1h2l1-1v-2l1-1h2l1-1v-2l1-1h10l1-1v-2l1-1h18l1-1z"/><path fill="#249fe6" d="M75 12l1-1h2l1 1v2l1 1h2l1 1v6l1 1h6l1 1v2l1 1h2l1 1v6l-1 1h-2l-1-1v-2l-1-1h-2l-1 1v10l1 1h2l1 1v2l-1 1h-6l-1-1v-10l-1-1h-2l-1-1v-2l1-1h2l1-1v-2l-1-1h-2l-1 1v2l-1 1h-6l-1-1v-14l1-1h2l1-1zM79 52l1-1h2l1 1v2l-1 1h-2l-1-1z"/></g>
<g transform="translate(1940.0 187.6) scale(1.7074 1.7100)"><rect width="122" height="90" fill="#18addb" stroke="none"/><path fill="#10b2d5" d="M7 0h4v2l-1 1h-2l-1-1zM15 0h40v2l1 1h6l1-1v-2h20v2l1 1h2l1-1v-2h32v2l1 1h2v20h-2l-1 1v2l1 1h2v56h-2l-1 1v2l-1 1h-2l-1-1v-2l-1-1h-2l-1 1v2l-1 1h-2l-1 1v2h-8v-2l-1-1h-6l-1 1v2h-4v-2l-1-1h-2l-1 1v2h-83v-75h2l1-1v-6l1-1h6l1-1v-2l1-1h2l1-1zM68 3l-1 1v2l1 1h2l1-1v-2l-1-1z"/><path fill="#06b5cf" d="M95 0h8v2l1 1h6l1 1v2l1 1h2l1 1v10l-1 1h-6l-1 1v6l1 1h2l1 1v6l1 1h6l1 1v2l-1 1h-2l-1 1v2l-1 1h-2l-1-1v-2l-1-1h-2l-1 1v14l-1 1h-6l-1-1v-2l-1-1h-2l-1 1v2l-1 1h-2l-1 1v2l1 1h10l1 1v2l1 1h2l1-1v-2l1-1h2l1 1v2l1 1h6l1 1v6l-1 1h-2l-1-1v-2l-1-1h-2l-1 1v2l-1 1h-2l-1-1v-2l-1-1h-2l-1 1v6l-1 1h-2l-1-1v-2l-1-1h-2l-1 1v6l-1 1h-2l-1-1v-2l-1-1h-2l-1 1v2l-1 1h-2l-1 1v2l-1 1h-6l-1-1v-2l-1-1h-2l-1 1v2l-1 1h-2l-1-1v-2l-1-1h-2l-1 1v2l-1 1h-6l-1 1v2l-1 1h-6l-1-1v-2l-1-1h-6l-1-1v-2l-1-1h-6l-1 1v2l-1 1h-2l-1-1v-2l-1-1h-2l-1-1v-2l-1-1h-6l-1-1v-2l1-1h2l1-1v-2l-1-1h-2l-1-1v-2l-1-1h-2l-1 1v10l-1 1h-6l-1-1v-2l1-1h2l1-1v-2l-1-1h-2l-1-1v-6l1-1h6l1-1v-2l-1-1h-2l-1-1v-2l-1-1h-2l-1-1v-2l1-1h6l1-1v-2l-1-1h-2l-1-1v-2l1-1h2l1-1v-2l-1-1h-2l-1-1v-2l1-1h2l1-1v-6l1-1h2l1-1v-2l1-1h2l1-1v-2l1-1h10l1-1v-10l1-1h2l1 1v6l1 1h2l1 1v2l1 1h2l1 1v2l1 1h10l1-1v-2l1-1h2l1 1v2l1 1h2l1 1v6l-1 1h-2l-1 1v6l1 1h2l1 1v6l1 1h2l1-1v-2l1-1h18l1-1v-6l-1-1h-2l-1-1v-2l-1-1h-2l-1-1v-2l1-1h6l1 1v2l1 1h2l1-1v-10l-1-1h-2l-1-1v-2l1-1h2l1-1v-2l1-1h6l1-1v-2l-1-1h-2l-1-1zM28 67l-1 1v6l1 1h2l1-1v-6l-1-1zM72 43l-1 1v2l1 1h2l1 1v2l1 1h2l1-1v-2l-1-1h-2l-1-1v-2l-1-1zM92 31l-1 1v2l1 1h6l1-1v-2l-1-1zM55 8l1-1h2l1 1v2l-1 1h-2l-1-1zM43 12l1-1h6l1 1v2l-1 1h-6l-1-1zM11 16l1-1h2l1 1v2l-1 1h-2l-1-1zM75 28l1-1h2l1 1v2l-1 1h-2l-1-1z"/><path fill="#01b9c8" d="M19 24l1-1h2l1 1v2l-1 1h-2l-1-1zM39 36l1-1h2l1 1v2l-1 1h-2l-1-1zM19 40l1-1h2l1 1v2l-1 1h-2l-1-1zM35 48l1-1h2l1 1v2l1 1h2l1-1v-2l1-1h2l1 1v2l1 1h10l1 1v10l1 1h2l1 1v2l-1 1h-2l-1 1v2l-1 1h-2l-1-1v-2l-1-1h-2l-1 1v2l-1 1h-6l-1-1v-6l-1-1h-2l-1 1v2l-1 1h-6l-1-1v-10l1-1h2l1-1zM48 55l-1 1v2l1 1h2l1 1v2l1 1h2l1-1v-6l-1-1z"/></g><g fill="#000" stroke="none"><circle cx="1995" cy="314" r="3.2"/><circle cx="2024" cy="329" r="2.3"/><circle cx="2017" cy="327" r="1.9"/><circle cx="2021" cy="331" r="1.7"/><circle cx="2023" cy="334" r="1.9"/><circle cx="2064" cy="213" r="3.3"/><circle cx="2110" cy="283" r="3.0"/><circle cx="2138" cy="337" r="2.9"/><circle cx="2131" cy="338" r="2.3"/><circle cx="2134" cy="333" r="1.9"/><circle cx="1947" cy="298" r="2.6"/><circle cx="1953" cy="294" r="2.2"/><circle cx="1950" cy="304" r="1.8"/><circle cx="2009" cy="331" r="2.5"/><circle cx="2007" cy="334" r="1.7"/><circle cx="2066" cy="271" r="3.5"/><circle cx="2068" cy="265" r="2.0"/><circle cx="2126" cy="288" r="3.6"/><circle cx="2065" cy="285" r="1.8"/><circle cx="2068" cy="288" r="1.6"/><circle cx="1950" cy="201" r="3.3"/><circle cx="1954" cy="207" r="1.9"/><circle cx="1953" cy="206" r="2.7"/><circle cx="1950" cy="206" r="2.0"/><circle cx="2099" cy="216" r="2.3"/><circle cx="2062" cy="312" r="3.4"/><circle cx="1952" cy="300" r="2.0"/></g>
<g transform="translate(2148.3 187.6) scale(1.6871 1.7100)"><rect width="116" height="90" fill="#2ac3a9" stroke="none"/><path fill="#2ac3a9" d="M0 0h116v83l-1 1v2l1 1v3h-116z"/><path fill="#31c6a0" d="M87 0h4v2l-1 1h-2l-1-1zM95 0h16v2l1 1h2l1 1v2l1 1v8l-1 1v2l1 1v24h-4l-1 1v2l-1 1h-2l-1-1v-2l-1-1h-6l-1 1v2l-1 1h-6l-1 1v6l-1 1h-2l-1 1v2l-1 1h-6l-1-1v-2l-1-1h-2l-1 1v2l1 1h2l1 1v2l-1 1h-2l-1 1v2l1 1h2l1-1v-2l1-1h6l1 1v2l1 1h6l1-1v-2l1-1h2l1-1v-2l1-1h2l1 1v2l1 1h2l1 1v2l1 1h6l1 1v10l-1 1h-2l-1 1v2l-1 1h-2l-1 1v6h-4v-6l-1-1h-2l-1-1v-2l1-1h6l1-1v-2l-1-1h-6l-1 1v2l-1 1h-2l-1 1v6l1 1h2l1 1v2h-28v-2l-1-1h-22l-1 1v2h-12v-6l-1-1h-2l-1 1v6h-4v-2l-1-1h-6l-1 1v2h-4v-6l1-1h2l1-1v-2l-1-1h-2l-1-1v-2l-1-1h-10l-1 1v2l1 1h2l1 1v2l-1 1h-6v-20h2l1-1v-2l1-1h2l1-1v-2l-1-1h-2l-1-1v-2l1-1h2l1-1v-6l-1-1h-2l-1-1v-10l-1-1h-2v-20h10l1 1v2l1 1h6l1-1v-2l-1-1h-6l-1-1v-2l1-1h18l1 1v2l1 1h2l1-1v-2l1-1h2l1 1v2l1 1h6l1-1v-6l1-1h2l1 1v6l1 1h6l1 1v2l1 1h2l1-1v-6l1-1h6l1 1v2l1 1h10l1-1v-2l1-1h10l1-1zM12 19l-1 1v2l1 1h2l1-1v-2l-1-1zM40 79l-1 1v2l1 1h2l1-1v-2l-1-1zM72 75l-1 1v6l1 1h2l1-1v-2l1-1h2l1-1v-2l-1-1zM0 47h2l1 1v2l-1 1h-2zM99 52l1-1h2l1 1v2l-1 1h-2l-1-1zM103 56l1-1h2l1 1v2l-1 1h-2l-1-1zM7 84l1-1h2l1 1v2l-1 1h-2l-1-1z"/><path fill="#37c897" d="M95 12l1-1h14l1 1v14l-1 1h-2l-1-1v-6l-1-1h-2l-1-1v-2l-1-1h-2l-1 1v2l-1 1h-6l-1-1v-2l1-1h2l1-1zM27 16l1-1h2l1 1v10l-1 1h-2l-1-1v-2l-1-1h-2l-1-1v-2l1-1h2l1-1zM35 20l1-1h2l1 1v2l-1 1h-2l-1-1zM79 20l1-1h10l1 1v6l-1 1h-6l-1 1v2l1 1h2l1 1v2l1 1h2l1 1v2l-1 1h-2l-1 1v2l-1 1h-10l-1 1v6l-1 1h-2l-1-1v-2l-1-1h-2l-1-1v-14l-1-1h-2l-1-1v-2l1-1h2l1-1v-2l1-1h10l1-1zM19 24l1-1h2l1 1v2l1 1h2l1 1v6l1 1h2l1-1v-2l1-1h2l1 1v10l1 1h2l1 1v6l1 1h2l1 1v6l1 1h2l1-1v-2l1-1h6l1-1v-2l1-1h2l1 1v6l-1 1h-2l-1 1v2l-1 1h-22l-1 1v2l-1 1h-6l-1-1v-2l-1-1h-2l-1-1v-2l1-1h2l1-1v-6l1-1h2l1-1v-2l-1-1h-2l-1 1v2l-1 1h-10l-1-1v-2l1-1h2l1-1v-2l-1-1h-2l-1-1v-2l1-1h6l1-1v-6l-1-1h-2l-1-1v-2l1-1h2l1-1zM39 24l1-1h2l1 1v6l-1 1h-2l-1-1zM55 24l1-1h6l1 1v2l-1 1h-6l-1-1zM59 32l1-1h2l1 1v2l-1 1h-2l-1-1zM99 32l1-1h6l1 1v2l-1 1h-6l-1-1zM63 52l1-1h2l1 1v2l-1 1h-2l-1-1zM47 72l1-1h6l1 1v2l-1 1h-2l-1 1v2l-1 1h-2l-1-1z"/></g><g fill="#000" stroke="none"><circle cx="2271" cy="267" r="2.4"/><circle cx="2285" cy="291" r="3.1"/><circle cx="2288" cy="291" r="2.0"/><circle cx="2230" cy="192" r="2.0"/><circle cx="2234" cy="189" r="1.3"/><circle cx="2220" cy="198" r="1.5"/><circle cx="2217" cy="193" r="1.0"/><circle cx="2273" cy="319" r="2.0"/><circle cx="2207" cy="252" r="3.2"/><circle cx="2207" cy="255" r="1.6"/><circle cx="2192" cy="231" r="2.3"/><circle cx="2197" cy="228" r="1.6"/><circle cx="2252" cy="248" r="1.9"/><circle cx="2253" cy="249" r="1.5"/><circle cx="2289" cy="237" r="3.2"/><circle cx="2295" cy="242" r="1.6"/><circle cx="2322" cy="207" r="3.7"/><circle cx="2324" cy="203" r="2.0"/><circle cx="2319" cy="312" r="3.6"/><circle cx="2312" cy="307" r="2.9"/><circle cx="2152" cy="196" r="3.4"/><circle cx="2167" cy="333" r="3.2"/><circle cx="2173" cy="328" r="2.6"/><circle cx="2187" cy="256" r="3.4"/><circle cx="2181" cy="253" r="2.9"/><circle cx="2319" cy="218" r="2.3"/><circle cx="2320" cy="218" r="1.4"/><circle cx="2324" cy="216" r="1.7"/><circle cx="2236" cy="338" r="2.8"/><circle cx="2232" cy="337" r="1.6"/><circle cx="2337" cy="233" r="3.2"/><circle cx="2339" cy="235" r="2.6"/><circle cx="2335" cy="227" r="1.8"/><circle cx="2343" cy="230" r="2.3"/><circle cx="2339" cy="237" r="1.8"/><circle cx="2262" cy="319" r="2.5"/><circle cx="2265" cy="313" r="1.3"/><circle cx="2262" cy="319" r="2.1"/><circle cx="2320" cy="284" r="3.3"/></g>
<g transform="translate(1343.0 341.5) scale(1.6933 1.7074)"><rect width="120" height="94" fill="#412dbc" stroke="none"/><path fill="#4331c8" d="M0 0h31v2l-1 1h-18l-1 1v6l-1 1h-2l-1 1v6l-1 1h-2l-1 1v14l1 1h2l1 1v6l-1 1h-2l-1 1v6l-1 1h-2zM103 0h17v35l-1-1v-22l-1-1h-2l-1-1v-6l-1-1h-10l-1-1zM119 48l1-1v4l-1-1zM119 56l1-1v39h-21v-2l1-1h10l1-1v-2l1-1h2l1-1v-2l1-1h2l1-1zM0 79h2l1 1v2l1 1h2l1 1v2l1 1h2l1 1v2l1 1h10l1 1v2h-23zM79 92l1-1h2l1 1v2h-4z"/></g><g fill="#000" stroke="none"><circle cx="1397" cy="443" r="1.7"/><circle cx="1400" cy="446" r="1.0"/><circle cx="1402" cy="438" r="1.3"/><circle cx="1523" cy="403" r="2.4"/><circle cx="1523" cy="402" r="2.0"/><circle cx="1519" cy="402" r="1.6"/><circle cx="1529" cy="405" r="1.8"/><circle cx="1517" cy="404" r="3.1"/><circle cx="1518" cy="402" r="2.5"/><circle cx="1457" cy="392" r="2.3"/><circle cx="1458" cy="390" r="1.9"/><circle cx="1476" cy="418" r="1.9"/><circle cx="1475" cy="423" r="1.5"/><circle cx="1470" cy="418" r="1.7"/><circle cx="1474" cy="418" r="1.5"/><circle cx="1515" cy="422" r="2.7"/><circle cx="1510" cy="424" r="1.8"/><circle cx="1517" cy="422" r="1.7"/><circle cx="1516" cy="420" r="1.4"/></g>
<g transform="translate(1546.2 341.5) scale(1.7052 1.7074)"><rect width="116" height="94" fill="#475bf9" stroke="none"/><path fill="#475bf9" d="M0 0h115v2l1 1v91h-116z"/><path fill="#4561fc" d="M23 0h4v2l1 1h2l1-1v-2h4v2l1 1h6l1-1v-2h20v2l1 1h14l1-1v-2h20v6l1 1h6l1 1v10l1 1h6l1 1v2l1 1v4h-4l-1 1v2l1 1h2l1 1v2l1 1v12l-1 1v10l1 1v4l-1 1v6l1 1v4l-1 1v6l-1 1h-2l-1 1v2l-1 1h-2l-1 1v6h-48v-6l-1-1h-18l-1-1v-2l-1-1h-2l-1 1v2l-1 1h-6l-1 1v2l-1 1h-2l-1-1v-2l-1-1h-2l-1 1v2l-1 1h-2l-1-1v-2l-1-1h-6l-1-1v-6l-1-1h-6v-40h2l1-1v-10l-1-1h-2v-4h2l1-1v-2l1-1h2l1-1v-2l-1-1h-2l-1-1v-6l1-1h2l1-1v-2l1-1h6l1 1v2l1 1h6l1-1zM44 79l-1 1v2l1 1h2l1-1v-2l-1-1zM19 92l1-1h2l1 1v2h-4zM27 92l1-1h2l1 1v2h-4z"/><path fill="#4368fd" d="M51 12l1-1h26l1 1v2l1 1h6l1-1v-2l1-1h2l1 1v2l1 1h2l1 1v2l1 1h2l1 1v10l-1 1h-6l-1 1v2l-1 1h-6l-1 1v2l1 1h2l1 1v6l1 1h2l1 1v2l1 1h2l1 1v6l-1 1h-2l-1-1v-2l-1-1h-6l-1 1v10l-1 1h-6l-1 1v2l1 1h2l1 1v2l-1 1h-2l-1 1v6l-1 1h-2l-1-1v-2l-1-1h-6l-1-1v-6l-1-1h-2l-1-1v-2l-1-1h-2l-1 1v2l-1 1h-6l-1-1v-2l-1-1h-6l-1-1v-2l-1-1h-2l-1 1v2l-1 1h-6l-1-1v-2l-1-1h-6l-1 1v2l-1 1h-2l-1-1v-2l-1-1h-2l-1-1v-10l1-1h10l1-1v-6l1-1h2l1 1v2l1 1h2l1-1v-2l1-1h6l1-1v-2l1-1h2l1-1v-10l-1-1h-2l-1-1v-2l1-1h2l1-1v-2l1-1h6l1-1zM87 68l1-1h2l1 1v2l-1 1h-2l-1-1zM83 80l1-1h2l1 1v2l-1 1h-2l-1-1z"/></g><g fill="#000" stroke="none"><circle cx="1582" cy="354" r="2.7"/><circle cx="1583" cy="360" r="1.4"/><circle cx="1560" cy="443" r="2.8"/><circle cx="1652" cy="355" r="2.9"/><circle cx="1653" cy="361" r="2.4"/><circle cx="1618" cy="432" r="2.6"/><circle cx="1650" cy="437" r="3.6"/><circle cx="1644" cy="432" r="2.4"/><circle cx="1657" cy="430" r="3.1"/></g>
<g transform="translate(1744.0 341.5) scale(1.6897 1.7074)"><rect width="116" height="94" fill="#2f82f9" stroke="none"/><path fill="#2d88f6" d="M7 0h96v2l1 1h2l1 1v2l1 1h2l1 1v6l1 1h4v72l-1 1v6h-115v-23h2l1-1v-2l-1-1h-2v-4h2l1-1v-6l-1-1h-2v-52h6l1-1z"/><path fill="#2c8ef1" d="M31 4l1-1h10l1 1v2l1 1h6l1 1v2l1 1h6l1 1v2l1 1h2l1 1v6l1 1h2l1 1v10l-1 1h-10l-1 1v6l-1 1h-2l-1 1v2l1 1h2l1 1v2l1 1h10l1 1v6l-1 1h-22l-1-1v-2l-1-1h-14l-1 1v10l1 1h2l1 1v6l-1 1h-6l-1-1v-2l-1-1h-6l-1-1v-2l1-1h6l1-1v-6l-1-1h-2l-1 1v2l-1 1h-2l-1-1v-2l-1-1h-2l-1-1v-6l1-1h2l1-1v-2l1-1h2l1-1v-2l-1-1h-6l-1-1v-6l1-1h2l1-1v-18l1-1h6l1-1v-6l1-1h6l1-1zM55 4l1-1h10l1 1v2l-1 1h-2l-1 1v2l-1 1h-2l-1-1v-2l-1-1h-2l-1-1zM79 4l1-1h6l1 1v2l-1 1h-6l-1-1zM91 4l1-1h2l1 1v6l-1 1h-2l-1 1v6l1 1h2l1 1v2l1 1h2l1 1v2l-1 1h-10l-1-1v-2l-1-1h-2l-1-1v-10l1-1h2l1-1v-2l1-1h2l1-1zM67 12l1-1h6l1 1v2l-1 1h-6l-1-1zM7 20l1-1h2l1 1v6l-1 1h-2l-1-1zM67 20l1-1h6l1 1v6l-1 1h-2l-1-1v-2l-1-1h-2l-1-1zM3 32l1-1h2l1 1v6l-1 1h-2l-1-1zM111 32l1-1h4v8h-4l-1-1zM103 36l1-1h2l1 1v2l-1 1h-2l-1-1zM59 40l1-1h2l1 1v6l-1 1h-2l-1-1zM67 40l1-1h2l1 1v2l-1 1h-2l-1-1zM103 44l1-1h2l1 1v2l1 1h6l1 1v2l1 1v4l-1 1v10l-1 1h-2l-1 1v6l-1 1h-2l-1 1v2l-1 1h-6l-1 1v2l-1 1h-6l-1 1v2l-1 1h-2l-1-1v-6l-1-1h-2l-1-1v-2l-1-1h-10l-1-1v-6l-1-1h-2l-1-1v-6l1-1h6l1 1v6l1 1h2l1-1v-6l-1-1h-2l-1-1v-2l1-1h10l1-1v-2l1-1h6l1-1v-2l1-1h2l1 1v2l1 1h2l1-1zM92 55l-1 1v2l-1 1h-6l-1 1v10l1 1h6l1-1v-2l-1-1h-2l-1-1v-2l1-1h2l1-1v-2l1-1h6l1-1v-2l-1-1zM67 48l1-1h2l1 1v2l-1 1h-2l-1-1zM31 60l1-1h6l1 1v10l-1 1h-2l-1-1v-6l-1-1h-2l-1-1zM11 64l1-1h2l1 1v2l-1 1h-2l-1-1zM55 68l1-1h2l1 1v2l-1 1h-2l-1-1zM51 72l1-1h2l1 1v2l1 1h2l1 1v2l-1 1h-2l-1 1v2l-1 1h-2l-1-1zM11 76l1-1h10l1 1v2l-1 1h-2l-1 1v2l-1 1h-2l-1 1v2l-1 1h-2l-1-1v-2l-1-1h-2l-1-1v-2l1-1h2l1-1zM39 80l1-1h6l1 1v2l-1 1h-2l-1 1v2l-1 1h-14l-1-1v-2l1-1h10l1-1zM79 80l1-1h2l1 1v2l-1 1h-2l-1-1zM15 88l1-1h6l1 1v2l1 1h2l1 1v2h-8v-2l-1-1h-2l-1-1zM91 88l1-1h2l1 1v2l-1 1h-2l-1-1z"/><path fill="#2994ed" d="M35 24l1-1h6l1 1v2l-1 1h-6l-1-1zM47 24l1-1h2l1 1v6l-1 1h-2l-1-1zM35 32l1-1h6l1 1v2l-1 1h-6l-1-1z"/></g><g fill="#000" stroke="none"><circle cx="1774" cy="410" r="2.5"/><circle cx="1769" cy="412" r="1.8"/><circle cx="1788" cy="427" r="3.6"/><circle cx="1793" cy="427" r="2.2"/><circle cx="1883" cy="373" r="3.6"/><circle cx="1777" cy="435" r="2.0"/><circle cx="1825" cy="497" r="2.4"/><circle cx="1821" cy="493" r="1.6"/><circle cx="1828" cy="494" r="1.9"/><circle cx="1820" cy="463" r="2.7"/><circle cx="1817" cy="463" r="1.9"/><circle cx="1764" cy="414" r="3.5"/><circle cx="1767" cy="408" r="2.7"/><circle cx="1759" cy="419" r="2.0"/><circle cx="1761" cy="410" r="3.0"/><circle cx="1784" cy="360" r="2.2"/><circle cx="1783" cy="357" r="1.5"/><circle cx="1788" cy="355" r="1.8"/><circle cx="1779" cy="363" r="1.1"/><circle cx="1936" cy="485" r="2.2"/><circle cx="1934" cy="479" r="1.7"/><circle cx="1939" cy="486" r="1.6"/><circle cx="1795" cy="464" r="2.0"/><circle cx="1755" cy="460" r="2.9"/><circle cx="1752" cy="455" r="1.5"/><circle cx="1751" cy="464" r="2.3"/><circle cx="1752" cy="459" r="1.6"/><circle cx="1813" cy="426" r="2.1"/><circle cx="1781" cy="391" r="1.6"/><circle cx="1872" cy="464" r="3.4"/><circle cx="1872" cy="469" r="1.7"/></g>
<g transform="translate(1940.0 341.5) scale(1.7074 1.7074)"><rect width="122" height="94" fill="#18addb" stroke="none"/><path fill="#10b2d5" d="M0 0h119v2l1 1h2v24h-2l-1 1v10l-1 1h-2l-1 1v2l1 1h2l1 1v2l1 1h2v12h-2l-1-1v-2l-1-1h-2l-1 1v6l-1 1h-2l-1 1v2l1 1h2l1-1v-2l1-1h2l1 1v2l1 1h2v27h-87v-2l-1-1h-2l-1 1v2h-31v-3h2l1-1v-6l-1-1h-2v-76h2l1-1v-2l-1-1h-2zM112 47l-1 1v2l1 1h2l1-1v-2l-1-1z"/><path fill="#06b5cf" d="M55 0h4v2l-1 1h-2l-1-1zM63 0h4v2l1 1h10l1-1v-2h4v2l1 1h6l1-1v-2h4v2l1 1h6l1 1v26l1 1h2l1 1v2l-1 1h-2l-1 1v6l-1 1h-2l-1-1v-6l-1-1h-2l-1 1v2l-1 1h-2l-1 1v2l-1 1h-2l-1 1v6l-1 1h-2l-1 1v2l1 1h2l1-1v-2l1-1h2l1 1v6l1 1h2l1 1v2l1 1h6l1 1v2l-1 1h-2l-1 1v10l-1 1h-2l-1 1v2l-1 1h-2l-1 1v2l-1 1h-2l-1 1v2l-1 1h-2l-1 1v2h-32v-2l-1-1h-2l-1-1v-6l-1-1h-2l-1-1v-10l1-1h2l1-1v-2l-1-1h-2l-1 1v2l-1 1h-2l-1 1v2l-1 1h-2l-1 1v6l-1 1h-2l-1-1v-2l-1-1h-2l-1-1v-2l-1-1h-6l-1-1v-2l-1-1h-2l-1-1v-2l-1-1h-6l-1-1v-2l-1-1h-2l-1-1v-2l-1-1h-2v-12h10l1-1v-2l-1-1h-2l-1-1v-2l-1-1h-2l-1-1v-2l1-1h2l1-1v-2l1-1h2l1-1v-14l-1-1h-2l-1-1v-2l1-1h10l1-1v-6l1-1h6l1 1v2l-1 1h-2l-1 1v2l1 1h2l1-1v-2l1-1h2l1-1v-2l1-1h18l1 1v2l1 1h2l1 1v2l1 1h6l1-1zM32 67l-1 1v2l1 1h2l1-1v-2l-1-1zM40 23l-1 1v2l1 1h2l1-1v-2l-1-1zM107 24l1-1h2l1 1v2l-1 1h-2l-1-1zM91 48l1-1h2l1 1v2l-1 1h-2l-1-1zM95 56l1-1h2l1 1v2l-1 1h-2l-1-1zM111 84l1-1h2l1 1v2l-1 1h-2l-1-1z"/><path fill="#01b9c8" d="M79 8l1-1h2l1 1v2l-1 1h-2l-1-1zM75 12l1-1h2l1 1v2l1 1h2l1 1v6l-1 1h-2l-1 1v2l-1 1h-2l-1-1v-2l-1-1h-10l-1-1v-6l1-1h2l1 1v2l1 1h6l1-1zM83 12l1-1h2l1 1v2l-1 1h-2l-1-1zM87 16l1-1h2l1 1v2l-1 1h-2l-1-1zM23 24l1-1h2l1 1v2l-1 1h-2l-1-1zM59 28l1-1h2l1 1v2l-1 1h-2l-1-1zM23 32l1-1h2l1 1v2l1 1h2l1 1v2l-1 1h-6l-1-1zM79 32l1-1h2l1 1v2l-1 1h-2l-1-1zM47 44l1-1h2l1 1v2l-1 1h-2l-1-1zM55 48l1-1h2l1 1v2l-1 1h-2l-1-1zM63 48l1-1h6l1 1v2l-1 1h-2l-1 1v10l-1 1h-6l-1-1v-10l1-1h2l1-1zM71 60l1-1h6l1 1v2l1 1h2l1 1v6l-1 1h-2l-1 1v2l-1 1h-6l-1-1v-2l-1-1h-2l-1-1v-6l1-1h2l1-1zM63 76l1-1h6l1 1v2l-1 1h-6l-1-1zM79 76l1-1h2l1 1v2l-1 1h-2l-1-1z"/></g><g fill="#000" stroke="none"><circle cx="2010" cy="374" r="3.4"/><circle cx="2013" cy="373" r="1.7"/><circle cx="2033" cy="431" r="3.2"/><circle cx="2031" cy="429" r="2.3"/><circle cx="2034" cy="431" r="1.7"/><circle cx="2026" cy="426" r="2.4"/><circle cx="2044" cy="447" r="1.7"/><circle cx="1974" cy="455" r="2.6"/><circle cx="1979" cy="460" r="1.4"/><circle cx="1973" cy="459" r="1.8"/><circle cx="1970" cy="452" r="1.6"/><circle cx="1971" cy="440" r="2.2"/><circle cx="1975" cy="440" r="1.3"/><circle cx="1967" cy="434" r="1.2"/><circle cx="2009" cy="411" r="2.5"/><circle cx="2017" cy="415" r="3.5"/><circle cx="1956" cy="496" r="3.5"/><circle cx="1954" cy="489" r="1.8"/><circle cx="1950" cy="500" r="2.9"/><circle cx="1954" cy="499" r="3.0"/><circle cx="2106" cy="367" r="3.1"/><circle cx="2112" cy="369" r="2.0"/><circle cx="2041" cy="354" r="1.8"/><circle cx="2036" cy="355" r="1.4"/><circle cx="2042" cy="360" r="1.6"/><circle cx="1953" cy="451" r="2.0"/><circle cx="1960" cy="446" r="1.3"/><circle cx="1946" cy="454" r="1.1"/><circle cx="2033" cy="350" r="2.4"/><circle cx="2032" cy="352" r="1.7"/><circle cx="2038" cy="354" r="1.2"/><circle cx="2034" cy="343" r="1.4"/><circle cx="2071" cy="430" r="1.7"/><circle cx="2076" cy="430" r="1.0"/><circle cx="2119" cy="496" r="2.2"/><circle cx="2122" cy="502" r="1.8"/><circle cx="2120" cy="501" r="1.5"/><circle cx="2103" cy="430" r="2.6"/><circle cx="2020" cy="363" r="1.6"/><circle cx="2018" cy="359" r="1.4"/><circle cx="2025" cy="364" r="1.3"/><circle cx="1989" cy="493" r="1.6"/><circle cx="1982" cy="488" r="1.3"/><circle cx="2079" cy="417" r="2.0"/><circle cx="2080" cy="417" r="1.1"/></g>
<g transform="translate(2148.3 341.5) scale(1.6871 1.7074)"><rect width="116" height="94" fill="#31c6a0" stroke="none"/><path fill="#31c6a0" d="M0 0h116v94h-116v-31h2l1-1v-2l-1-1h-2v-52h2l1-1v-2l-1-1h-2z"/><path fill="#37c897" d="M79 0h4v6l1 1h2l1-1v-2l1-1h2l1-1v-2h20v6l1 1h2l1 1v2l1 1v4h-4l-1 1v6l1 1h2l1-1v-2l1-1v12l-1 1v2l1 1v4l-1 1v2l-1 1h-6l-1 1v6l1 1h6l1 1v2l1 1v12l-1 1v2l-1 1h-2l-1 1v2l1 1h2l1 1v14l-1 1h-14l-1 1v2h-48v-6l-1-1h-6l-1 1v2l-1 1h-2l-1 1v2h-8v-6l-1-1h-2l-1 1v2l-1 1h-2l-1 1v2h-16v-2l1-1h6l1-1v-2l-1-1h-6l-1-1v-6l1-1h2l1-1v-10l1-1h2l1-1v-2l1-1h2l1-1v-2l-1-1h-2l-1-1v-6l-1-1h-2l-1-1v-2l-1-1h-6l-1-1v-22l1-1h2l1 1v2l1 1h6l1-1v-2l-1-1h-6l-1-1v-6l1-1h2l1-1v-6l1-1h10l1 1v2l1 1h14l1-1v-6l1-1h14l1 1v2l-1 1h-2l-1 1v2l1 1h6l1-1v-2l1-1h6l1 1v6l1 1h6l1-1v-6l-1-1h-2l-1-1v-2l1-1h6l1-1zM104 3l-1 1v2l1 1h2l1-1v-2l-1-1zM28 19l-1 1v2l1 1h2l1-1v-2l-1-1zM0 15h2l1 1v2l-1 1h-2zM7 52l1-1h2l1 1v2l-1 1h-2l-1-1zM3 88l1-1h2l1 1v2l-1 1h-2l-1-1z"/><path fill="#40ca8d" d="M59 20l1-1h2l1 1v2l1 1h6l1 1v2l1 1h26l1 1v2l-1 1h-6l-1 1v6l1 1h2l1 1v2l-1 1h-2l-1 1v2l-1 1h-2l-1-1v-2l-1-1h-2l-1 1v2l1 1h2l1 1v2l-1 1h-2l-1 1v6l1 1h2l1-1v-6l1-1h2l1 1v2l1 1h6l1 1v14l1 1h2l1 1v6l-1 1h-2l-1 1v2l-1 1h-2l-1-1v-2l-1-1h-2l-1 1v2l-1 1h-2l-1 1v2l-1 1h-2l-1 1v2l-1 1h-6l-1-1v-2l-1-1h-6l-1-1v-2l1-1h10l1-1v-2l-1-1h-2l-1-1v-18l-1-1h-2l-1-1v-6l-1-1h-14l-1 1v2l-1 1h-2l-1-1v-2l-1-1h-2l-1-1v-2l-1-1h-2l-1-1v-2l-1-1h-6l-1 1v2l1 1h6l1 1v6l-1 1h-10l-1-1v-6l-1-1h-2l-1-1v-2l1-1h2l1-1v-6l1-1h2l1-1v-2l1-1h2l1-1v-2l1-1h14l1-1v-2l1-1h2l1-1zM64 31l-1 1v2l1 1h2l1-1v-2l-1-1zM72 43l-1 1v2l1 1h2l1-1v-2l-1-1zM76 51l-1 1v2l1 1h2l1-1v-2l-1-1zM48 39l-1 1v2l1 1h2l1-1v-2l-1-1zM27 28l1-1h6l1 1v2l-1 1h-6l-1-1zM15 32l1-1h6l1 1v2l-1 1h-6l-1-1zM47 56l1-1h2l1 1v2l-1 1h-2l-1-1zM39 60l1-1h6l1 1v2l-1 1h-6l-1-1zM35 64l1-1h2l1 1v2l-1 1h-2l-1-1zM55 68l1-1h2l1 1v2l-1 1h-2l-1-1zM67 72l1-1h2l1 1v2l-1 1h-2l-1-1zM19 84l1-1h2l1 1v2l-1 1h-2l-1-1zM91 84l1-1h2l1 1v2l-1 1h-2l-1-1zM87 88l1-1h2l1 1v2l-1 1h-2l-1-1z"/><path fill="#4dcb82" d="M43 32l1-1h2l1 1v2l-1 1h-2l-1-1zM83 64l1-1h2l1 1v2l-1 1h-2l-1-1zM91 68l1-1h2l1 1v2l-1 1h-2l-1-1zM79 72l1-1h2l1 1v2l-1 1h-2l-1-1z"/></g><g fill="#000" stroke="none"><circle cx="2235" cy="390" r="1.6"/><circle cx="2236" cy="391" r="1.0"/><circle cx="2229" cy="393" r="1.0"/><circle cx="2238" cy="387" r="1.2"/><circle cx="2325" cy="416" r="1.6"/><circle cx="2328" cy="419" r="1.3"/><circle cx="2272" cy="384" r="2.9"/><circle cx="2275" cy="380" r="1.7"/><circle cx="2266" cy="378" r="2.4"/><circle cx="2267" cy="388" r="1.6"/><circle cx="2198" cy="397" r="1.7"/><circle cx="2197" cy="404" r="1.0"/><circle cx="2254" cy="440" r="3.3"/><circle cx="2254" cy="436" r="2.1"/><circle cx="2249" cy="434" r="2.6"/><circle cx="2260" cy="440" r="2.2"/><circle cx="2193" cy="380" r="2.4"/><circle cx="2196" cy="383" r="1.3"/><circle cx="2237" cy="441" r="1.6"/><circle cx="2244" cy="436" r="1.3"/><circle cx="2231" cy="447" r="1.0"/><circle cx="2243" cy="443" r="0.8"/><circle cx="2230" cy="382" r="2.8"/><circle cx="2226" cy="386" r="1.5"/><circle cx="2227" cy="380" r="2.0"/><circle cx="2152" cy="379" r="2.6"/><circle cx="2335" cy="435" r="2.3"/><circle cx="2328" cy="439" r="1.4"/><circle cx="2332" cy="440" r="1.9"/><circle cx="2338" cy="435" r="1.9"/><circle cx="2187" cy="414" r="2.0"/><circle cx="2184" cy="418" r="1.7"/><circle cx="2187" cy="416" r="1.1"/><circle cx="2182" cy="410" r="1.0"/><circle cx="2170" cy="352" r="2.1"/><circle cx="2176" cy="348" r="1.1"/><circle cx="2257" cy="370" r="2.9"/><circle cx="2255" cy="369" r="1.8"/><circle cx="2252" cy="372" r="2.4"/><circle cx="2217" cy="457" r="1.9"/><circle cx="2216" cy="451" r="1.5"/><circle cx="2162" cy="460" r="2.2"/><circle cx="2230" cy="431" r="3.7"/><circle cx="2230" cy="423" r="2.6"/><circle cx="2225" cy="416" r="2.0"/><circle cx="2285" cy="441" r="1.8"/><circle cx="2196" cy="487" r="2.2"/><circle cx="2239" cy="397" r="3.6"/><circle cx="2250" cy="444" r="3.7"/><circle cx="2281" cy="480" r="3.3"/><circle cx="2278" cy="473" r="2.1"/><circle cx="2285" cy="487" r="2.6"/><circle cx="2286" cy="478" r="2.6"/><circle cx="2205" cy="377" r="3.5"/><circle cx="2333" cy="378" r="2.2"/><circle cx="2189" cy="472" r="3.0"/><circle cx="2194" cy="476" r="2.5"/><circle cx="2190" cy="471" r="1.7"/><circle cx="2186" cy="476" r="1.6"/><circle cx="2246" cy="447" r="3.3"/><circle cx="2248" cy="441" r="2.6"/><circle cx="2241" cy="451" r="2.6"/><circle cx="2199" cy="432" r="3.7"/><circle cx="2193" cy="437" r="2.4"/><circle cx="2205" cy="437" r="2.0"/><circle cx="2277" cy="370" r="2.5"/><circle cx="2278" cy="368" r="1.9"/><circle cx="2300" cy="347" r="3.4"/><circle cx="2294" cy="344" r="2.7"/><circle cx="2305" cy="351" r="2.9"/><circle cx="2307" cy="346" r="2.2"/><circle cx="2213" cy="477" r="2.7"/><circle cx="2218" cy="479" r="2.3"/><circle cx="2213" cy="478" r="2.1"/></g>
</g>
<rect x="1343.0" y="33.3" width="1001.0" height="468.7" fill="none" stroke="#222" stroke-width="1"/>
<line x1="1546.2" y1="33.3" x2="1546.2" y2="502.0" stroke="#000" stroke-width="4.6" stroke-linecap="butt"/>
<line x1="1744.4" y1="33.3" x2="1744.4" y2="502.0" stroke="#000" stroke-width="4.6" stroke-linecap="butt"/>
<line x1="1940.0" y1="33.3" x2="1940.0" y2="502.0" stroke="#000" stroke-width="4.4" stroke-linecap="butt"/>
<line x1="2148.3" y1="33.3" x2="2148.3" y2="502.0" stroke="#000" stroke-width="4.0" stroke-linecap="butt"/>
<line x1="1546.2" y1="187.9" x2="2344.0" y2="187.9" stroke="#000" stroke-width="4.2" stroke-linecap="butt"/>
<line x1="1343.0" y1="187.0" x2="1546.2" y2="187.0" stroke="#000" stroke-width="1.6" stroke-linecap="butt"/>
<line x1="1343.0" y1="341.5" x2="2344.0" y2="341.5" stroke="#000" stroke-width="1.6" stroke-linecap="butt"/>
<linearGradient id="cbB" x1="0" y1="0" x2="0" y2="1"><stop offset="0.0000" stop-color="#f9fb15"/><stop offset="0.0667" stop-color="#f5e128"/><stop offset="0.1333" stop-color="#fec735"/><stop offset="0.2000" stop-color="#eaba31"/><stop offset="0.2667" stop-color="#bbc42f"/><stop offset="0.3333" stop-color="#81cc59"/><stop offset="0.4000" stop-color="#48cb86"/><stop offset="0.4667" stop-color="#29c3aa"/><stop offset="0.5333" stop-color="#01b9c7"/><stop offset="0.6000" stop-color="#1caadf"/><stop offset="0.6667" stop-color="#2797eb"/><stop offset="0.7333" stop-color="#2f80fa"/><stop offset="0.8000" stop-color="#4367fd"/><stop offset="0.8667" stop-color="#484ff2"/><stop offset="0.9333" stop-color="#4538d7"/><stop offset="1.0000" stop-color="#3e26a8"/></linearGradient><rect x="2359.6" y="33.3" width="25.5" height="468.7" fill="url(#cbB)" stroke="#333" stroke-width="0.8"/>
<line x1="2381.1" y1="70.5" x2="2385.1" y2="70.5" stroke="#222" stroke-width="1"/><line x1="2381.1" y1="152.5" x2="2385.1" y2="152.5" stroke="#222" stroke-width="1"/><line x1="2381.1" y1="235.4" x2="2385.1" y2="235.4" stroke="#222" stroke-width="1"/><line x1="2381.1" y1="316.6" x2="2385.1" y2="316.6" stroke="#222" stroke-width="1"/><line x1="2381.1" y1="398.6" x2="2385.1" y2="398.6" stroke="#222" stroke-width="1"/><line x1="2381.1" y1="480.0" x2="2385.1" y2="480.0" stroke="#222" stroke-width="1"/>
<clipPath id="cpC"><rect x="130.5" y="634.3" width="979.0" height="462.7"/></clipPath>
<g clip-path="url(#cpC)" stroke="#0a0a18" stroke-width="1.25" stroke-linejoin="round" vector-effect="non-scaling-stroke" fill-rule="evenodd">
<g transform="translate(130.5 634.3) scale(1.5038 1.4873)"><rect width="132" height="102" fill="#3a73fe" stroke="none"/><path fill="#347afd" d="M0 0h129l3 3v99h-132z"/><path fill="#2f81fa" d="M0 0h123l9 9v93h-132z"/><path fill="#2e87f7" d="M3 0h114l6 6v2l3 3h2l4 4v86l-1 1h-131v-99z"/><path fill="#2d8df2" d="M8 1h2l1-1h98l3 3h2l1 1v2l16 16v6l1 1v58l-1 1v4l-2 2v6l-2 2h-127v-91l1-1v-2z"/><path fill="#2a92ee" d="M17 0h82l3 3h2l6 6h2l13 13v2l2 2v6l2 2v4l2 2v4l-2 2v4l2 2v16l-2 2v16l-2 2v4l-2 2v2l-2 2v2l-2 2h-118l-2-2v-2l-1-1v-72l1-1v-4l2-2v-2l2-2v-2z"/><path fill="#2798ea" d="M24 1h2l1-1h60l1 1h4l12 12h4l4 4h2l5 5v2l2 2v4l2 2v2l2 2v20l2 2v8l-2 2v8l-2 2v12l-4 4v2l-6 6h-104l-4-4v-2l-4-4v-4l-1-1v-48l1-1v-2l2-2v-4l2-2v-6l2-2v-2l4-4v-2l9-9h2z"/><path fill="#249de6" d="M54 1h6l1-1h8l1 1h4l2 2h8l2 2h2l9 9v2l1 1h2l2 2h2l5 5v2l1 1h2l5 5v2l2 2v2l2 2v24l-2 2v16l-2 2v6l-4 4v2l-6 6h-88l-5-5h-2l-3-3v-2l-4-4v-6l-2-2l2-2v-36l2-2v-2l2-2v-10l2-2v-2l4-4v-2l4-4v-2l3-3h2l2-2h2l2-2h22z"/><path fill="#21a3e4" d="M54 7h14l2 2h6l2-2h4l2 2h2l1 1v2l9 9h2l9 9v2l8 8v12l-2 2v2l2 2v6l-2 2v18l-2 2v2l-2 2v2l-9 9h-2l-1 1h-68l-3-3h-2l-8-8h-2l-3-3v-2l-2-2v-10l2-2v-20l2-2v-10l2-2v-14l4-4v-2l7-7h2l2-2h22z"/><path fill="#1ea8e1" d="M54 13h18l2 2h6l2 2h2l6 6h2l2 2h2l5 5v2l4 4v2l2 2v4l2 2v2l-2 2v14l-2 2v2l2 2v4l-2 2v6l-2 2v2l-2 2v2l-9 9h-2l-2 2h-6l-1 1h-26l-1-1h-4l-2-2h-10l-2-2h-2l-4-4h-2l-2-2h-2l-3-3v-2l-2-2v-4l-2-2v-24l2-2v-2l-2-2v-4l2-2v-14l2-2v-2l1-1h2l8-8h20z"/><path fill="#19acdc" d="M52 19h16l2 2h4l2 2h2l2 2h2l2 2h2l2 2h4l3 3v2l2 2v2l2 2v2l4 4v2l-2 2v6l-2 2v4l-2 2v4l2 2v8l-2 2v4l-2 2v2l-5 5h-2l-2 2h-4l-2 2h-2l-2 2h-2l-2-2h-2l-2-2h-14l-2-2h-2l-2-2h-4l-4-4h-4l-2-2h-2l-5-5v-2l-2-2v-12l-2-2v-8l2-2v-4l-2-2v-6l2-2v-4l5-5h2l2-2h2l2-2h2l2-2h2l2-2h4z"/><path fill="#12b1d7" d="M54 27h14l2 2h2l2 2h4l2 2h2l2 2h4l3 3v4l2 2v6l2 2v2l-2 2v6l-2 2v12l-2 2v2l-2 2v2l-5 5h-16l-2-2h-8l-2-2h-6l-2-2h-2l-2-2h-2l-3-3v-4l-2-2v-2l-2-2v-2l-2-2v-6l4-4v-16l5-5h6l4-4h2z"/><path fill="#08b5d0" d="M66 39h2l6 6h2l5 5v2l-2 2v2l-2 2l6 6v2l2 2l-7 7h-2l-2 2h-6l-2-2h-6l-2 2h-6l-3-3v-2l-2-2v-4l-2-2v-2l-4-4v-6l5-5h2l2-2h4l2-2h6z"/></g>
<g transform="translate(329.0 634.3) scale(1.5102 1.4873)"><rect width="128" height="102" fill="#01b8c9" stroke="none"/><path fill="#04bbc2" d="M1 0h126l1 1v101h-128v-101z"/><path fill="#10beba" d="M3 0h122v2l2 2v4l1 1v93h-128v-93l1-1v-4l2-2z"/><path fill="#1ec0b2" d="M5 2l2-2h114l2 2v2l2 2v4l2 2v4l1 1v84l-1 1h-124l-2-2v-2l-1-1v-82l1-1v-2l2-2v-4l2-2z"/><path fill="#28c3aa" d="M9 2l2-2h108v2l2 2v4l2 2v4l2 2v2l2 2v4l1 1v62l-1 1v8l-2 2v4h-120v-2l-2-2v-2l-2-2v-4l-1-1v-64l1-1v-4l2-2v-4l2-2v-4l4-4z"/><path fill="#30c5a2" d="M15 0h100l2 2v4l2 2v4l2 2v2l2 2v4l2 2v4l2 2v6l1 1v26l-1 1v16l-2 2v12l-2 2v2l-2 2v2h-112v-2l-2-2v-2l-2-2v-2l-2-2v-4l-2-2v-54l2-2v-6l2-2v-4l2-2v-2l2-2v-2l2-2v-2z"/><path fill="#36c899" d="M19 0h92l2 2v2l2 2v4l2 2v2l2 2v4l2 2v2l2 2v6l2 2v10l2 2v4l-2 2v24l-2 2v12l-2 2v2l-2 2v2l-2 2v2h-104l-2-2v-2l-2-2v-2l-2-2v-4l-2-2v-10l-2-2v-34l2-2v-12l2-2v-4l2-2v-4l2-2v-2l2-2v-2z"/><path fill="#3eca8f" d="M23 0h82l6 6v2l2 2v4l2 2v2l2 2v2l2 2v4l2 2v6l2 2v18l-2 2v6l2 2v6l-2 2v6l-2 2v10l-2 2v2l-4 4v2h-96l-2-2v-2l-2-2v-2l-2-2v-8l-2-2v-4l-2-2v-48l2-2v-4l2-2v-2l2-2v-2l2-2v-2l2-2v-2z"/><path fill="#4bcb84" d="M29 0h70l3 3h2l5 5v4l2 2v4l2 2v2l2 2v2l2 2v6l2 2v12l2 2l-2 2v24l-2 2v10l-2 2v4l-6 6v2h-88l-2-2v-2l-2-2v-4l-2-2v-6l-2-2v-4l-2-2v-12l-2-2v-14l2-2v-20l2-2v-2l2-2v-4l6-6v-2z"/><path fill="#59cc78" d="M33 0h60l5 5h2l7 7v4l2 2v4l2 2v4l2 2v4l2 2v8l2 2v14l-2 2v16l-2 2v10l-2 2v2l-8 8h-78v-2l-2-2v-2l-2-2v-4l-2-2v-4l-2-2v-2l-2-2v-18l-2-2v-12l2-2v-2l-2-2v-8l2-2v-4l2-2v-4l6-6v-2l4-4v-2z"/><path fill="#67cd6c" d="M39 0h48l11 11h2l3 3v2l2 2v4l2 2v6l2 2v4l2 2v4l2 2v18l-2 2v14l-2 2v10l-8 8v2l-2 2h-68l-2-2v-4l-2-2v-2l-2-2v-2l-2-2v-2l-2-2v-4l-2-2v-16l-2-2v-22l2-2v-4l2-2v-6l2-2v-2l6-6v-2z"/><path fill="#77cc60" d="M45 0h30l1 1h4l6 6h2l11 11v2l2 2v2l2 2v6l2 2v2l2 2v2l2 2v20l-2 2v12l-2 2v8l-2 2v2l-6 6v2l-4 4h-54l-6-6v-2l-2-2v-2l-2-2v-2l-2-2v-6l-2-2v-2l-2-2v-16l-2-2v-16l2-2v-2l2-2v-6l2-2v-2l2-2v-2l2-2v-2z"/><path fill="#88cb53" d="M56 1h4l2 2h4l2 2h6l2 2h4l8 8h2l1 1v2l2 2v2l2 2v2l4 4v4l4 4v4l2 2v18l-2 2v10l-2 2v6l-2 2v2l-2 2v2l-11 11h-2l-1 1h-36l-1-1h-2l-5-5v-2l-4-4v-2l-2-2v-6l-2-2v-2l-2-2v-2l-2-2v-30l2-2v-4l2-2v-8l2-2v-2l8-8v-2l7-7h6z"/><path fill="#98ca47" d="M52 7h8l2 2h4l2 2h4l2 2h4l11 11v2l2 2v2l2 2v2l2 2v2l2 2v2l2 2v18l-2 2v14l-4 4v2l-4 4v2l-7 7h-2l-4 4h-20l-2-2h-2l-4-4h-2l-5-5v-2l-2-2v-4l-2-2v-2l-2-2v-4l-2-2v-20l2-2v-20l2-2v-2l2-2v-2z"/><path fill="#a7c73c" d="M54 15h10l2 2h2l2 2h4l11 11v2l2 2v4l2 2v2l2 2v28l-6 6v4l-2 2v2l-5 5h-2l-2 2h-14l-2-2h-2l-2-2h-2l-5-5v-2l-6-6v-10l-2-2v-2l-2-2v-6l2-2v-4l2-2v-16l2-2v-2z"/><path fill="#b6c532" d="M58 21h4l2 2h2l4 4h2l5 5v2l2 2v6l2 2v2l2 2v12l2 2v2l-2 2v4l-8 8v2l-5 5h-6l-2-2h-6l-7-7v-2l-2-2v-10l-4-4v-6l2-2v-4l2-2v-6l2-2v-4l2-2v-2z"/><path fill="#c5c22a" d="M66 43h4l3 3v2l2 2v2l-2 2v4l-2 2v2l-1 1h-4l-1-1v-2l-2-2v-12z"/></g>
<g transform="translate(522.3 634.3) scale(1.5039 1.4873)"><rect width="128" height="102" fill="#debd2a" stroke="none"/><path fill="#debd2a" d="M3 0h122v4l2 2v12l1 1v66l-1 1v8l-2 2v4l-2 2h-118l-2-2v-4l-2-2v-8l-1-1v-74l1-1v-6l2-2z"/><path fill="#e9bb30" d="M5 0h118v2l2 2v12l2 2v12l1 1v36l-1 1v18l-2 2v6l-2 2v6h-118v-4l-2-2v-6l-2-2v-16l-1-1v-52l1-1v-8l2-2v-4l2-2z"/><path fill="#f3ba39" d="M7 0h114v2l2 2v12l2 2v10l2 2v44l-2 2v10l-2 2v8l-2 2v4h-114v-4l-2-2v-6l-2-2v-14l-2-2v-54l2-2v-8l2-2v-2l2-2z"/><path fill="#fbbc3d" d="M9 0h110v4l2 2v10l2 2v10l2 2v12l2 2v2l-2 2v26l-2 2v10l-2 2v8l-2 2v4h-110v-4l-2-2v-4l-2-2v-14l-2-2v-58l2-2v-4l2-2v-4l2-2z"/><path fill="#fec13a" d="M11 2l2-2h102l2 2v2l2 2v10l2 2v8l2 2v12l2 2v6l-2 2v26l-2 2v8l-2 2v8l-2 2v4h-106v-4l-2-2v-4l-2-2v-14l-2-2v-58l2-2v-4l2-2v-2l2-2z"/><path fill="#fec835" d="M13 2l2-2h98l2 2v4l2 2v8l2 2v6l2 2v14l2 2v4l-2 2v28l-2 2v8l-2 2v8l-2 2v4h-102v-6l-2-2v-4l-2-2v-12l-2-2v-30l-2-2v-2l2-2v-22l2-2v-4l2-2v-2l2-2z"/><path fill="#fccf31" d="M15 2l2-2h94v2l2 2v2l2 2v8l2 2v6l2 2v14l2 2v2l-2 2v32l-2 2v6l-2 2v8l-2 2v2l-2 2h-94v-2l-2-2v-4l-2-2v-8l-2-2v-8l-2-2v-6l-2-2v-4l2-2v-12l-2-2v-6l2-2v-8l2-2l-2-2v-6l2-2v-4l2-2v-4l2-2z"/><path fill="#fad62d" d="M17 2l2-2h90v2l2 2v4l2 2v6l2 2v6l2 2v52l-2 2v4l-2 2v8l-2 2v4l-2 2h-90v-4l-2-2v-2l-2-2v-10l-2-2v-6l-2-2v-6l-2-2v-4l2-2v-12l-2-2v-4l2-2v-8l2-2v-4l-2-2v-4l2-2v-4l2-2v-2l2-2z"/><path fill="#f7dd2a" d="M21 0h84l2 2v2l2 2v2l2 2v8l2 2v6l2 2v48l-2 2v6l-2 2v6l-2 2v2l-2 2v2l-2 2h-82l-2-2v-4l-2-2v-2l-2-2v-10l-2-2v-4l-2-2v-40l2-2v-16l2-2v-4l2-2v-2l2-2z"/><path fill="#f5e427" d="M23 2l2-2h78v2l2 2v2l2 2v4l2 2v8l2 2v4l2 2v32l-2 2v18l-2 2v4l-2 2v2l-2 2v4l-2 2v2h-76l-2-2v-2l-2-2v-2l-2-2v-4l-2-2v-6l-2-2v-6l-2-2v-36l2-2v-18l2-2v-2l2-2v-2l2-2z"/><path fill="#f5eb23" d="M29 0h70l2 2v2l2 2v6l2 2v4l2 2v4l2 2v6l2 2v6l-2 2l2 2v14l-2 2v16l-2 2v4l-2 2v4l-2 2v2l-2 2v4l-2 2v2h-68v-2l-4-4v-2l-2-2v-2l-2-2v-2l-2-2v-6l-2-2v-12l-2-2v-12l2-2v-30l2-2v-4l2-2v-2l2-2v-2z"/><path fill="#f6f21e" d="M35 0h60l4 4v8l2 2v4l2 2v2l2 2v4l2 2v36l-2 2v10l-2 2v2l-2 2v2l-2 2v4l-2 2v4l-2 2v2h-58l-4-4v-2l-2-2v-2l-4-4v-2l-2-2v-4l-2-2v-4l-2-2v-26l2-2v-2l-2-2v-8l2-2v-14l4-4v-2l2-2v-2z"/><path fill="#f8f817" d="M39 2l2-2h48l6 6v2l2 2v8l2 2v2l2 2v2l2 2v18l2 2v12l-2 2v4l-2 2v6l-2 2v2l-2 2v2l-2 2v8l-2 2v2l-2 2v2l-1 1h-2l-1 1h-42l-1-1h-2l-5-5v-2l-2-2v-2l-2-2v-2l-2-2v-2l-2-2v-4l-2-2v-4l-2-2v-8l-2-2v-4l2-2v-26l2-2v-4l2-2v-2l4-4v-2l6-6z"/></g>
<g transform="translate(714.8 634.3) scale(1.4951 1.4873)"><rect width="264" height="102" fill="#f5eb23" stroke="none"/><path fill="#f6f21e" d="M0 0h264v102h-264zM198 5l-4 4h-12l-2 2h-4l-2 2h-8l-3 3v2l-4 4v12l-2 2v18l-2 2v8l2 2v2l2 2v2l2 2v10l3 3h4l2 2h4l2 2h2l2 2h4l2 2h2l2 2h4l2-2h30l7-7v-2l2-2v-4l4-4v-2l4-4v-30l-2-2v-16l-2-2v-2l-3-3h-4l-2-2h-2l-2-2h-10l-2-2h-6l-2-2h-2l-2-2z"/><path fill="#f8f817" d="M0 0h155l-4 4v2l-1 1h-2l-5 5v6l-2 2v2l-2 2v4l-2 2v30l2 2v20l2 2v4l2 2v2l6 6v2l1 1h2l1 1h-153zM247 0h17v102h-21l1-1h2l5-5v-2l4-4v-6l2-2v-8l2-2v-8l2-2v-4l-2-2v-26l-2-2v-14l-2-2v-2l-2-2v-2z"/></g>
<g transform="translate(130.5 786.0) scale(1.7112 1.6911)"><rect width="116" height="90" fill="#4230c4" stroke="none"/><path fill="#4230c4" d="M0 0h116v83l-1 1v2l-1 1h-2l-1 1v2h-108v-2l-1-1h-2z"/><path fill="#4434d0" d="M43 0h56v2l1 1h2l1 1v2l1 1h2l1 1v2l1 1h2l1 1v22l1 1h2l1 1v30l-1 1h-2l-1 1v10l-1 1h-2l-1 1v2l-1 1h-2l-1 1v2l-1 1h-10l-1 1v2h-56v-2l-1-1h-18l-1-1v-2l-1-1h-6l-1-1v-2l-1-1h-2l-1-1v-18l-1-1h-2v-4h2l1-1v-26l-1-1h-2v-4h2l1-1v-10l1-1h2l1-1v-2l1-1h6l1-1v-2l1-1h26l1-1z"/><path fill="#463adb" d="M67 4l1-1h2l1 1v2l1 1h14l1 1v2l1 1h2l1-1v-2l1-1h2l1 1v2l1 1h2l1 1v6l1 1h2l1 1v22l1 1h2l1 1v10l-1 1h-2l-1 1v2l1 1h2l1 1v6l-1 1h-2l-1 1v6l-1 1h-2l-1 1v2l-1 1h-6l-1 1v2l-1 1h-18l-1 1v2l-1 1h-6l-1-1v-2l-1-1h-6l-1 1v2l-1 1h-2l-1-1v-2l-1-1h-6l-1 1v2l-1 1h-2l-1-1v-2l-1-1h-2l-1-1v-2l-1-1h-10l-1-1v-2l-1-1h-2l-1-1v-6l-1-1h-6l-1-1v-14l1-1h2l1-1v-34l1-1h6l1-1v-2l1-1h18l1-1v-2l1-1h2l1 1v2l1 1h2l1-1v-2l1-1h14l1-1z"/><path fill="#4740e3" d="M55 20l1-1h2l1 1v6l1 1h2l1-1v-2l1-1h2l1-1v-2l1-1h6l1 1v2l1 1h2l1-1v-2l1-1h6l1 1v10l1 1h2l1 1v10l1 1h2l1 1v2l1 1h2l1 1v2l-1 1h-6l-1 1v6l1 1h2l1 1v2l-1 1h-2l-1 1v2l-1 1h-6l-1 1v2l-1 1h-10l-1 1v2l-1 1h-22l-1-1v-2l-1-1h-2l-1-1v-6l-1-1h-6l-1 1v2l-1 1h-2l-1-1v-34l-1-1h-2l-1-1v-2l1-1h18l1-1v-2l1-1h6l1-1z"/></g>
<g transform="translate(329.0 786.0) scale(1.6956 1.6911)"><rect width="114" height="90" fill="#2e87f7" stroke="none"/><path fill="#2d8df2" d="M7 0h100v2l1 1h2l1 1v2l1 1h2v72h-2l-1 1v2l-1 1h-2l-1 1v2l-1 1h-2l-1 1v2h-96v-2l-1-1h-2l-1-1v-2l-1-1h-2v-76h2l1-1v-2l1-1h2l1-1z"/><path fill="#2a92ee" d="M15 0h32v2l1 1h14l1-1v-2h32v2l1 1h6l1 1v2l1 1h2l1 1v6l1 1h2l1 1v10l1 1h2v12h-2l-1 1v34l-1 1h-2l-1 1v6l-1 1h-6l-1 1v2l-1 1h-6l-1 1v2h-76v-2l-1-1h-2l-1-1v-2l-1-1h-6l-1-1v-10l-1-1h-2v-8h2l1-1v-50l1-1h2l1-1v-2l1-1h2l1-1v-2l1-1h2l1-1z"/><path fill="#2798ea" d="M27 4l1-1h6l1 1v2l1 1h2l1-1v-2l1-1h2l1 1v2l1 1h26l1-1v-2l1-1h22l1 1v2l1 1h2l1 1v2l1 1h2l1 1v2l1 1h2l1 1v42l-1 1h-2l-1 1v14l-1 1h-6l-1 1v2l-1 1h-2l-1 1v2l-1 1h-6l-1 1v2l-1 1h-46l-1-1v-2l-1-1h-18l-1-1v-2l-1-1h-6l-1-1v-42l1-1h2l1-1v-2l-1-1h-2l-1-1v-2l1-1h2l1-1v-14l1-1h6l1-1v-2l1-1h6l1-1z"/><path fill="#249de6" d="M79 8l1-1h6l1 1v2l1 1h6l1 1v6l1 1h6l1 1v2l-1 1h-2l-1 1v6l1 1h2l1 1v6l-1 1h-2l-1 1v14l-1 1h-2l-1 1v10l-1 1h-2l-1 1v2l-1 1h-2l-1 1v2l-1 1h-2l-1 1v2l-1 1h-14l-1 1v2l-1 1h-14l-1-1v-2l-1-1h-30l-1-1v-2l-1-1h-2l-1-1v-50l1-1h2l1-1v-6l1-1h2l1-1v-2l1-1h14l1 1v2l1 1h22l1-1v-2l1-1h14l1-1z"/><path fill="#21a3e4" d="M67 20l1-1h2l1 1v2l1 1h2l1-1v-2l1-1h10l1 1v30l-1 1h-2l-1 1v6l-1 1h-6l-1 1v2l-1 1h-2l-1 1v6l-1 1h-6l-1-1v-2l-1-1h-2l-1-1v-2l-1-1h-26l-1-1v-2l-1-1h-2l-1-1v-26l1-1h2l1-1v-2l1-1h2l1-1v-2l1-1h10l1 1v2l1 1h6l1-1v-2l1-1h10l1-1zM40 51l-1 1v2l1 1h2l1-1v-2l-1-1zM48 55l-1 1v2l1 1h2l1-1v-2l-1-1zM75 64l1-1h2l1 1v2l-1 1h-2l-1-1z"/></g>
<g transform="translate(522.3 786.0) scale(1.6886 1.6911)"><rect width="114" height="90" fill="#1ec0b2" stroke="none"/><path fill="#1ec0b2" d="M0 0h114v87h-6l-1 1v2h-107z"/><path fill="#28c3aa" d="M11 0h92v2l1 1h6l1 1v6l1 1h2v68h-2l-1 1v2l-1 1h-2l-1 1v2l-1 1h-2l-1 1v2h-96v-2l-1-1h-2l-1-1v-2l-1-1h-2v-76h2l1-1v-2l1-1h6l1-1z"/><path fill="#30c5a2" d="M27 0h4v2l1 1h2l1-1v-2h52v2l1 1h14l1 1v2l1 1h2l1 1v2l1 1h2l1 1v10l1 1h2v16h-2l-1 1v2l1 1h2v4h-2l-1 1v30l-1 1h-2l-1 1v2l-1 1h-2l-1 1v2l-1 1h-10l-1 1v2h-4v-2l-1-1h-2l-1 1v2h-68v-2l-1-1h-6l-1-1v-2l-1-1h-2l-1-1v-10l-1-1h-2v-52h2l1-1v-6l1-1h2l1-1v-2l1-1h2l1-1v-2l1-1h14l1-1z"/><path fill="#36c899" d="M27 4l1-1h66l1 1v2l1 1h6l1 1v2l1 1h2l1 1v10l1 1h2l1 1v10l-1 1h-2l-1 1v38l-1 1h-2l-1 1v2l-1 1h-2l-1 1v2l-1 1h-6l-1 1v2l-1 1h-38l-1 1v2h-16v-2l-1-1h-18l-1-1v-2l-1-1h-2l-1-1v-2l-1-1h-2l-1-1v-6l-1-1h-2l-1-1v-50l1-1h2l1-1v-6l1-1h6l1-1v-2l1-1h10l1-1z"/><path fill="#3eca8f" d="M23 8l1-1h62l1 1v2l1 1h10l1 1v6l1 1h2l1 1v2l1 1h2l1 1v2l-1 1h-2l-1 1v38l-1 1h-2l-1 1v6l-1 1h-2l-1 1v2l-1 1h-6l-1 1v2l-1 1h-30l-1 1v2l-1 1h-22l-1-1v-2l-1-1h-10l-1-1v-2l-1-1h-2l-1-1v-2l-1-1h-2l-1-1v-6l-1-1h-2l-1-1v-42l1-1h2l1-1v-6l1-1h2l1-1v-2l1-1h6l1-1z"/><path fill="#4bcb84" d="M31 12l1-1h2l1 1v2l1 1h2l1-1v-2l1-1h14l1 1v2l1 1h2l1-1v-2l1-1h14l1 1v2l1 1h18l1 1v6l1 1h2l1 1v2l-1 1h-2l-1 1v10l1 1h2l1 1v2l-1 1h-2l-1 1v14l-1 1h-2l-1 1v14l-1 1h-18l-1 1v2l-1 1h-2l-1-1v-2l-1-1h-2l-1 1v2l-1 1h-2l-1 1v2l-1 1h-14l-1-1v-2l-1-1h-2l-1 1v2l-1 1h-6l-1-1v-2l-1-1h-10l-1-1v-6l-1-1h-2l-1-1v-6l-1-1h-2l-1-1v-2l1-1h2l1-1v-14l-1-1h-2l-1-1v-6l1-1h2l1-1v-10l1-1h2l1-1v-6l1-1h10l1-1z"/><path fill="#59cc78" d="M39 20l1-1h38l1 1v2l1 1h6l1 1v10l-1 1h-2l-1 1v6l1 1h2l1 1v2l-1 1h-2l-1 1v14l-1 1h-2l-1 1v2l-1 1h-6l-1 1v2l-1 1h-14l-1 1v2l-1 1h-6l-1 1v2l-1 1h-2l-1-1v-2l-1-1h-14l-1-1v-2l-1-1h-2l-1-1v-2l-1-1h-2l-1-1v-34l1-1h2l1-1v-2l1-1h2l1-1v-2l1-1h10l1-1z"/><path fill="#67cd6c" d="M55 32l1-1h2l1 1v2l1 1h6l1 1v2l1 1h2l1 1v18l-1 1h-2l-1 1v2l-1 1h-14l-1 1v2l-1 1h-6l-1-1v-2l-1-1h-6l-1-1v-2l-1-1h-2l-1-1v-6l1-1h2l1-1v-6l1-1h2l1-1v-2l-1-1h-2l-1-1v-2l1-1h18l1-1z"/><path fill="#77cc60" d="M55 40l1-1h2l1 1v2l1 1h2l1 1v2l1 1h2l1 1v6l-1 1h-18l-1-1v-10l1-1h6l1-1z"/></g>
<g transform="translate(714.8 786.0) scale(1.6975 1.6911)"><rect width="120" height="90" fill="#debd2a" stroke="none"/><path fill="#e9bb30" d="M0 0h120v87h-4l-1 1v2h-4v-2l-1-1h-2l-1 1v2h-107v-7h6l1-1v-2l-1-1h-6v-4h2l1-1v-2l-1-1h-2z"/><path fill="#f3ba39" d="M3 0h84v2l1 1h10l1 1v2l1 1h2l1-1v-2l1-1h6l1 1v2l-1 1h-2l-1 1v2l1 1h2l1 1v2l1 1h2l1 1v2l1 1h2l1 1v6l1 1v12l-1 1v2l1 1v28l-1 1v2l-1 1h-6l-1 1v2l-1 1h-6l-1 1v2l-1 1h-10l-1 1v2l-1 1h-6l-1 1v2h-48v-2l-1-1h-10l-1-1v-2l-1-1h-2l-1-1v-2l-1-1h-2l-1-1v-6l-1-1h-2l-1-1v-6l-1-1h-2l-1-1v-6l-1-1h-2l-1-1v-2l-1-1h-2v-4h2l1-1v-2l-1-1h-2v-28h2l1-1v-2l1-1h2l1-1v-6l-1-1h-2l-1-1z"/><path fill="#fbbc3d" d="M43 0h4v2l1 1h6l1 1v2l1 1h2l1-1v-2l1-1h10l1 1v2l1 1h6l1 1v2l1 1h10l1 1v6l1 1h10l1 1v6l1 1h6l1 1v2l1 1h2l1 1v10l1 1h2l1 1v6l-1 1h-2l-1 1v2l1 1h2l1 1v6l-1 1h-2l-1 1v2l-1 1h-2l-1 1v6l-1 1h-2l-1-1v-2l-1-1h-2l-1 1v2l-1 1h-6l-1 1v2l-1 1h-10l-1 1v2l-1 1h-10l-1 1v2l-1 1h-2l-1-1v-2l-1-1h-2l-1 1v2l-1 1h-2l-1-1v-2l-1-1h-2l-1 1v2l-1 1h-2l-1-1v-2l-1-1h-6l-1-1v-2l-1-1h-10l-1-1v-2l-1-1h-2l-1-1v-2l-1-1h-2l-1-1v-6l-1-1h-2l-1-1v-2l1-1h2l1-1v-6l-1-1h-6l-1-1v-2l-1-1h-6l-1-1v-10l-1-1h-2l-1-1v-6l1-1h2l1-1v-2l1-1h2l1-1v-6l1-1h2l1-1v-2l1-1h2l1-1v-2l1-1h2l1-1v-2l1-1h18l1-1z"/><path fill="#fec13a" d="M39 8l1-1h2l1 1v2l1 1h26l1 1v6l1 1h10l1 1v6l1 1h6l1 1v2l1 1h6l1 1v2l1 1h2l1 1v14l-1 1h-2l-1 1v2l1 1h2l1 1v2l-1 1h-2l-1 1v6l-1 1h-6l-1 1v2l-1 1h-6l-1 1v2l-1 1h-6l-1-1v-2l-1-1h-14l-1 1v6l-1 1h-2l-1-1v-2l-1-1h-2l-1-1v-2l-1-1h-6l-1-1v-6l-1-1h-6l-1-1v-6l1-1h2l1 1v2l1 1h2l1-1v-2l-1-1h-2l-1-1v-2l1-1h2l1-1v-6l1-1h2l1-1v-2l-1-1h-6l-1-1v-2l-1-1h-2l-1-1v-2l1-1h2l1-1v-2l-1-1h-6l-1 1v2l-1 1h-10l-1-1v-14l1-1h6l1-1v-2l1-1h10l1-1zM24 19l-1 1v2l1 1h2l1-1v-2l-1-1zM67 76l1-1h2l1 1v2l-1 1h-2l-1-1z"/><path fill="#fec835" d="M67 28l1-1h6l1 1v2l-1 1h-6l-1-1zM67 36l1-1h2l1 1v2l-1 1h-2l-1-1zM63 44l1-1h2l1 1v2l1 1h6l1-1v-2l1-1h2l1 1v6l-1 1h-2l-1 1v2l-1 1h-2l-1 1v2l-1 1h-2l-1-1v-6l-1-1h-6l-1-1v-2l1-1h2l1-1zM79 52l1-1h2l1 1v2l-1 1h-2l-1-1z"/></g><g fill="#000" stroke="none"><circle cx="825" cy="910" r="3.1"/><circle cx="825" cy="913" r="1.9"/><circle cx="826" cy="904" r="2.2"/><circle cx="820" cy="907" r="1.6"/><circle cx="837" cy="799" r="3.6"/><circle cx="801" cy="862" r="1.6"/><circle cx="760" cy="904" r="2.3"/><circle cx="760" cy="901" r="1.5"/><circle cx="764" cy="903" r="1.2"/><circle cx="766" cy="901" r="1.6"/><circle cx="859" cy="842" r="2.6"/><circle cx="860" cy="842" r="2.0"/><circle cx="857" cy="844" r="1.4"/><circle cx="852" cy="897" r="3.4"/><circle cx="851" cy="893" r="2.4"/><circle cx="846" cy="893" r="2.5"/><circle cx="848" cy="896" r="2.4"/><circle cx="760" cy="866" r="3.3"/><circle cx="914" cy="857" r="3.5"/><circle cx="769" cy="934" r="2.6"/><circle cx="766" cy="935" r="2.1"/><circle cx="835" cy="861" r="2.6"/></g>
<g transform="translate(918.5 786.0) scale(1.4922 1.4922)"><rect width="128" height="102" fill="#fec835" stroke="none"/><path fill="#fccf31" d="M8 1h2l1-1h106l1 1h2l2 2h2l3 3v2l1 1v84l-1 1v2l-3 3h-2l-2 2h-2l-1 1h-106l-1-1h-2l-2-2h-2l-3-3v-2l-1-1v-84l1-1v-2l3-3h2z"/><path fill="#fad62d" d="M8 1h4l1-1h102l1 1h4l7 7v2l1 1v80l-1 1v2l-7 7h-4l-1 1h-102l-1-1h-2l-2-2h-2l-5-5v-2l-1-1v-80l1-1v-2z"/><path fill="#f7dd2a" d="M10 1h6l1-1h94l1 1h6l4 4h2l1 1v2l2 2v2l1 1v76l-1 1v2l-2 2v2l-1 1h-2l-4 4h-6l-1 1h-94l-1-1h-4l-2-2h-2l-2-2h-2l-1-1v-2l-2-2v-2l-1-1v-76l1-1v-2l2-2v-2l1-1h2z"/><path fill="#f5e427" d="M12 1h10l1-1h84l1 1h8l2 2h2l5 5v2l2 2v4l1 1v66l-1 1v6l-2 2v2l-5 5h-2l-2 2h-10l-1 1h-82l-1-1h-8l-2-2h-4l-5-5v-2l-2-2v-4l-1-1v-68l1-1v-4l2-2v-2l5-5h2z"/><path fill="#f5eb23" d="M16 1h28l1-1h4l1 1h62l2 2h4l7 7v2l2 2v46l1 1v4l-1 1v22l-2 2v2l-7 7h-4l-2 2h-96l-2-2h-4l-7-7v-2l-2-2v-34l-1-1v-6l1-1v-10l-1-1v-6l1-1v-14l2-2v-2l7-7h4z"/><path fill="#f6f21e" d="M20 1h88l2 2h6l4 4h2l1 1v2l2 2v4l2 2v66l-2 2v4l-9 9h-6l-2 2h-88l-2-2h-6l-9-9v-4l-2-2v-66l2-2v-4l2-2v-2l1-1h2l4-4h6z"/><path fill="#f8f817" d="M30 1h70l2 2h10l2 2h2l2 2h2l3 3v4l2 2v40l2 2v14l-2 2v12l-2 2v2l-2 2v2l-1 1h-2l-2 2h-2l-2 2h-12l-2 2h-64l-2-2h-16l-2-2h-2l-2-2h-2l-1-1v-2l-2-2v-2l-2-2v-32l-2-2v-6l2-2v-6l-2-2v-8l2-2v-12l2-2v-2l3-3h2l2-2h2l2-2h12z"/></g>
<g transform="translate(130.5 938.2) scale(1.7112 1.6894)"><rect width="116" height="94" fill="#3e27aa" stroke="none"/><path fill="#402bb7" d="M0 0h116v94h-116zM28 11l-1 1v2l-1 1h-2l-1 1v2l-1 1h-2l-1 1v6l-1 1h-2l-1 1v6l1 1h2l1 1v2l-1 1h-2l-1 1v2l1 1h2l1 1v2l-1 1h-2l-1 1v14l1 1h2l1 1v10l1 1h2l1 1v2l1 1h6l1-1v-2l1-1h2l1 1v2l1 1h14l1 1v2l1 1h34l1-1v-2l1-1h6l1-1v-2l1-1h2l1-1v-38l-1-1h-2l-1-1v-10l-1-1h-2l-1-1v-6l-1-1h-42l-1-1v-2l-1-1h-6l-1 1v2l-1 1h-2l-1-1v-2l-1-1z"/><path fill="#4230c4" d="M107 8l1-1h2l1 1v2l-1 1h-2l-1-1z"/></g><g fill="#000" stroke="none"><circle cx="312" cy="1008" r="2.7"/><circle cx="280" cy="973" r="2.4"/><circle cx="275" cy="972" r="1.6"/><circle cx="279" cy="968" r="1.6"/><circle cx="274" cy="976" r="1.9"/><circle cx="262" cy="1070" r="2.2"/><circle cx="203" cy="999" r="3.6"/><circle cx="197" cy="1004" r="3.2"/></g>
<g transform="translate(329.0 938.2) scale(1.6956 1.6894)"><rect width="114" height="94" fill="#465ffb" stroke="none"/><path fill="#4466fd" d="M7 0h60v2l1 1h2l1-1v-2h28v2l1 1h6l1 1v2l1 1h2l1 1v2l1 1h2v4h-2l-1 1v14l1 1h2v4h-2l-1 1v2l1 1h2v44h-2l-1 1v6l-1 1h-2l-1 1v2h-88v-2l-1-1h-14l-1-1v-2l-1-1h-2v-80h2l1-1v-2l1-1h2l1-1z"/><path fill="#406cfe" d="M11 4l1-1h10l1 1v2l1 1h10l1-1v-2l1-1h14l1 1v2l1 1h2l1 1v2l1 1h2l1-1v-2l1-1h38l1 1v2l1 1h2l1 1v30l1 1h2l1 1v2l1 1h2l1 1v6l-1 1h-2l-1 1v22l-1 1h-2l-1 1v2l-1 1h-2l-1 1v2l-1 1h-2l-1 1v2l-1 1h-34l-1-1v-2l-1-1h-42l-1-1v-2l-1-1h-2l-1-1v-2l-1-1h-2l-1-1v-18l-1-1h-2l-1-1v-2l1-1h2l1-1v-2l1-1h10l1-1v-2l-1-1h-2l-1-1v-2l-1-1h-6l-1-1v-10l1-1h2l1-1v-6l-1-1h-2l-1-1v-6l1-1h2l1-1v-2l-1-1h-2l-1-1v-2l1-1h2l1-1z"/><path fill="#3a73fe" d="M83 32l1-1h2l1 1v2l-1 1h-2l-1-1zM71 36l1-1h2l1 1v2l-1 1h-2l-1-1zM67 40l1-1h2l1 1v2l1 1h18l1 1v2l-1 1h-2l-1 1v14l-1 1h-6l-1 1v6l-1 1h-2l-1-1v-6l-1-1h-10l-1-1v-2l1-1h6l1-1v-2l-1-1h-2l-1-1v-2l-1-1h-2l-1-1v-2l-1-1h-2l-1-1v-2l1-1h6l1-1zM87 64l1-1h2l1 1v2l-1 1h-2l-1-1zM67 72l1-1h2l1 1v2l-1 1h-2l-1-1z"/></g><g fill="#000" stroke="none"><circle cx="360" cy="998" r="2.4"/><circle cx="519" cy="1035" r="2.2"/><circle cx="470" cy="942" r="2.0"/><circle cx="465" cy="943" r="1.0"/><circle cx="467" cy="946" r="1.5"/><circle cx="463" cy="944" r="1.7"/><circle cx="472" cy="1004" r="2.5"/><circle cx="472" cy="1000" r="1.9"/><circle cx="474" cy="1007" r="1.9"/><circle cx="475" cy="1003" r="1.9"/><circle cx="480" cy="1082" r="2.2"/></g>
<g transform="translate(522.3 938.2) scale(1.6886 1.6894)"><rect width="114" height="94" fill="#2a92ee" stroke="none"/><path fill="#2798ea" d="M3 0h108v2l1 1h2v60h-6l-1 1v2l-1 1h-2l-1 1v2l-1 1h-2l-1-1v-2l-1-1h-2l-1 1v6l1 1h6l1 1v2l1 1h2l1 1v2l-1 1h-2l-1 1v2l1 1h2l1 1v6h-24v-2l-1-1h-2l-1 1v2h-68v-14l-1-1h-6l-1-1v-10l-1-1h-2v-60h2l1-1zM60 7l-1 1v2l1 1h2l1-1v-2l-1-1zM72 3l-1 1v2l1 1h2l1-1v-2l-1-1z"/><path fill="#249de6" d="M19 0h4v2l1 1h6l1 1v2l1 1h2l1 1v2l1 1h2l1-1v-2l1-1h2l1 1v6l-1 1h-6l-1 1v2l1 1h10l1-1v-6l1-1h6l1 1v6l1 1h2l1 1v2l1 1h10l1 1v2l1 1h2l1-1v-6l1-1h6l1 1v6l1 1h6l1-1v-2l-1-1h-2l-1-1v-2l1-1h2l1-1v-6l1-1h2l1 1v2l1 1h2l1 1v6l1 1h2l1 1v2l1 1h2l1 1v2l1 1h2l1 1v6l-1 1h-2l-1-1v-2l-1-1h-2l-1 1v10l-1 1h-2l-1 1v2l-1 1h-18l-1 1v2l-1 1h-6l-1 1v6l1 1h2l1 1v2l1 1h2l1 1v2l-1 1h-2l-1 1v6l-1 1h-10l-1 1v2l1 1h2l1 1v6l-1 1h-2l-1 1v2h-12v-2l-1-1h-2l-1-1v-6l-1-1h-6l-1-1v-2l1-1h6l1-1v-2l-1-1h-2l-1-1v-2l1-1h2l1-1v-2l1-1h2l1-1v-6l-1-1h-2l-1 1v2l-1 1h-2l-1-1v-2l-1-1h-6l-1-1v-2l1-1h22l1-1v-2l-1-1h-2l-1-1v-2l-1-1h-6l-1-1v-2l-1-1h-2l-1-1v-2l1-1h2l1-1v-2l-1-1h-6l-1 1v2l-1 1h-6l-1 1v2l1 1h6l1 1v6l-1 1h-2l-1 1v2l-1 1h-2l-1-1v-2l-1-1h-2l-1 1v2l-1 1h-2l-1 1v2l1 1h2l1 1v2l-1 1h-10l-1-1v-2l-1-1h-2l-1-1v-2l-1-1h-2l-1-1v-6l1-1h6l1-1v-2l-1-1h-6l-1-1v-2l1-1h2l1-1v-10l-1-1h-2l-1-1v-2l-1-1h-2l-1-1v-2l1-1h6l1-1v-2l-1-1h-6l-1-1v-2l1-1h10l1-1v-2l1-1h2l1-1zM20 43l-1 1v2l1 1h2l1-1v-2l-1-1zM95 8l1-1h2l1 1v2l-1 1h-2l-1-1zM111 20l1-1h2v8h-2l-1-1zM111 44l1-1h2v4h-2l-1-1zM43 48l1-1h2l1 1v2l-1 1h-2l-1-1zM87 56l1-1h2l1 1v2l-1 1h-2l-1-1zM31 60l1-1h2l1 1v2l-1 1h-2l-1-1zM7 64l1-1h2l1 1v2l-1 1h-2l-1-1zM35 64l1-1h2l1 1v2l-1 1h-2l-1-1zM19 72l1-1h2l1 1v2l-1 1h-2l-1-1zM27 80l1-1h2l1 1v2l-1 1h-2l-1-1zM83 80l1-1h2l1 1v2l-1 1h-2l-1-1z"/></g><g fill="#000" stroke="none"><circle cx="531" cy="1082" r="1.9"/><circle cx="536" cy="1083" r="1.7"/><circle cx="528" cy="1077" r="1.5"/><circle cx="620" cy="993" r="1.8"/><circle cx="558" cy="1081" r="2.2"/><circle cx="630" cy="1023" r="3.2"/><circle cx="666" cy="1093" r="2.9"/><circle cx="659" cy="1086" r="1.7"/><circle cx="622" cy="1057" r="3.3"/><circle cx="627" cy="1061" r="2.7"/><circle cx="619" cy="1051" r="2.0"/><circle cx="550" cy="1074" r="3.1"/><circle cx="554" cy="1068" r="2.4"/><circle cx="552" cy="1079" r="2.5"/><circle cx="681" cy="951" r="2.2"/><circle cx="693" cy="988" r="1.7"/><circle cx="528" cy="1003" r="1.9"/><circle cx="547" cy="1049" r="3.3"/><circle cx="547" cy="1053" r="2.7"/><circle cx="553" cy="1042" r="2.6"/><circle cx="551" cy="1052" r="2.5"/><circle cx="624" cy="1073" r="2.6"/><circle cx="631" cy="1068" r="2.2"/><circle cx="693" cy="1027" r="2.3"/><circle cx="692" cy="1021" r="2.0"/><circle cx="703" cy="992" r="1.8"/><circle cx="708" cy="998" r="1.2"/><circle cx="709" cy="996" r="0.9"/><circle cx="547" cy="1033" r="2.4"/><circle cx="541" cy="1035" r="1.6"/><circle cx="578" cy="985" r="3.4"/><circle cx="574" cy="991" r="2.3"/><circle cx="584" cy="989" r="2.0"/><circle cx="582" cy="985" r="2.6"/></g>
<g transform="translate(714.8 938.2) scale(1.6975 1.6894)"><rect width="120" height="94" fill="#36c899" stroke="none"/><path fill="#36c899" d="M0 0h120v71l-1 1v6l1 1v15h-120v-83h2l1-1v-2l1-1h2l1-1v-2l-1-1h-6z"/><path fill="#3eca8f" d="M23 0h32v2l1 1h46l1 1v2l1 1h6l1-1v-6h9v27l-1 1v2l1 1v20l-1 1v6l-1 1h-2l-1 1v6l-1 1h-2l-1 1v10l-1 1h-6l-1 1v6l-1 1h-10l-1 1v2l-1 1h-14l-1 1v2h-72v-2l-1-1h-2v-64h2l1-1v-10l1-1h2l1-1v-2l1-1h2l1-1v-2l1-1h2l1-1v-2l1-1h6l1-1z"/><path fill="#4bcb84" d="M31 0h8v2l1 1h10l1 1v2l1 1h2l1 1v2l1 1h2l1-1v-2l1-1h2l1 1v2l1 1h2l1 1v2l1 1h6l1-1v-2l1-1h2l1-1v-2l1-1h6l1 1v2l1 1h18l1 1v2l1 1h2l1 1v2l1 1h2l1 1v2l1 1h2l1 1v2l-1 1h-2l-1 1v10l1 1h2l1 1v2l-1 1h-2l-1 1v2l-1 1h-2l-1 1v14l-1 1h-2l-1 1v2l-1 1h-10l-1 1v10l-1 1h-10l-1 1v2l-1 1h-2l-1 1v2l-1 1h-2l-1 1v2l-1 1h-6l-1-1v-2l-1-1h-2l-1 1v2l-1 1h-2l-1 1v2h-36v-2l-1-1h-6l-1-1v-2l-1-1h-2l-1-1v-2l-1-1h-2l-1-1v-2l-1-1h-2l-1-1v-22l1-1h2l1-1v-26l1-1h2l1-1v-10l1-1h2l1-1v-2l1-1h2l1-1v-2l1-1h2l1-1v-2l1-1h6l1-1z"/><path fill="#59cc78" d="M35 12l1-1h6l1 1v2l1 1h10l1 1v2l1 1h10l1 1v2l1 1h2l1-1v-2l1-1h10l1 1v2l1 1h2l1-1v-2l1-1h10l1 1v2l1 1h2l1 1v6l1 1h2l1 1v14l-1 1h-2l-1 1v6l-1 1h-2l-1 1v2l-1 1h-2l-1 1v2l-1 1h-2l-1-1v-2l-1-1h-2l-1 1v2l-1 1h-2l-1 1v2l-1 1h-2l-1 1v2l-1 1h-2l-1 1v6l-1 1h-6l-1 1v2l-1 1h-2l-1 1v2l-1 1h-14l-1 1v2l-1 1h-18l-1-1v-2l-1-1h-6l-1-1v-2l-1-1h-2l-1-1v-10l-1-1h-2l-1-1v-10l1-1h2l1-1v-18l-1-1h-2l-1-1v-2l1-1h2l1-1v-6l1-1h2l1-1v-6l1-1h2l1-1v-2l1-1h10l1-1z"/><path fill="#67cd6c" d="M43 20l1-1h2l1 1v6l1 1h2l1 1v2l1 1h10l1 1v2l1 1h2l1-1v-2l1-1h2l1 1v6l1 1h2l1-1v-6l1-1h14l1 1v2l1 1h2l1 1v6l-1 1h-2l-1 1v6l-1 1h-6l-1 1v6l-1 1h-2l-1 1v2l-1 1h-10l-1 1v6l-1 1h-6l-1 1v2l-1 1h-2l-1 1v2l-1 1h-2l-1 1v2l-1 1h-10l-1 1v2l-1 1h-2l-1-1v-2l-1-1h-6l-1-1v-2l-1-1h-6l-1-1v-2l1-1h2l1-1v-18l1-1h2l1-1v-22l1-1h2l1-1v-6l1-1h10l1-1zM91 52l1-1h2l1 1v2l-1 1h-2l-1-1z"/><path fill="#77cc60" d="M47 40l1-1h6l1 1v18l1 1h2l1 1v2l-1 1h-10l-1 1v2l-1 1h-6l-1-1v-2l-1-1h-10l-1-1v-2l1-1h10l1-1v-2l1-1h2l1-1v-10l1-1h2l1-1zM59 44l1-1h2l1 1v6l-1 1h-2l-1-1zM63 52l1-1h2l1 1v2l-1 1h-2l-1-1zM35 68l1-1h2l1 1v2l-1 1h-2l-1-1zM39 76l1-1h2l1 1v2l-1 1h-2l-1-1z"/></g><g fill="#000" stroke="none"><circle cx="799" cy="951" r="1.9"/><circle cx="796" cy="947" r="1.5"/><circle cx="791" cy="954" r="2.9"/><circle cx="786" cy="951" r="1.6"/><circle cx="796" cy="950" r="1.9"/><circle cx="913" cy="1022" r="3.4"/><circle cx="917" cy="1028" r="2.7"/><circle cx="767" cy="949" r="2.4"/><circle cx="770" cy="951" r="1.8"/><circle cx="851" cy="1043" r="2.1"/><circle cx="886" cy="1071" r="2.8"/><circle cx="843" cy="1042" r="3.6"/><circle cx="846" cy="1035" r="3.1"/><circle cx="893" cy="1039" r="3.1"/><circle cx="728" cy="1079" r="1.7"/><circle cx="884" cy="1019" r="3.2"/><circle cx="885" cy="1015" r="2.7"/><circle cx="886" cy="946" r="1.8"/><circle cx="887" cy="946" r="1.0"/><circle cx="889" cy="940" r="1.1"/><circle cx="891" cy="945" r="1.0"/><circle cx="915" cy="982" r="2.4"/><circle cx="870" cy="972" r="1.8"/><circle cx="865" cy="967" r="1.2"/><circle cx="786" cy="1006" r="2.8"/><circle cx="780" cy="1002" r="2.3"/><circle cx="784" cy="1006" r="2.0"/><circle cx="788" cy="1006" r="1.6"/></g>
<g transform="translate(918.5 938.2) scale(1.7054 1.6894)"><rect width="112" height="94" fill="#b6c532" stroke="none"/><path fill="#c5c22a" d="M0 0h11v2l1 1h2l1-1v-2h97v71l-1 1v6l-1 1h-2l-1 1v2l1 1h4v11h-112zM108 87l-1 1v2l1 1h2l1-1v-2l-1-1z"/><path fill="#d2bf27" d="M47 0h4v2l1 1h2l1-1v-2h57v51l-1 1v2l1 1v8h-4l-1 1v6l-1 1h-2l-1 1v10l-1 1h-2l-1 1v2l-1 1h-2l-1 1v2l-1 1h-2l-1 1v2h-91v-83h10l1-1v-2l1-1h10l1-1v-2l1-1h22l1-1zM100 3l-1 1v2l1 1h2l1-1v-2l-1-1z"/><path fill="#debd2a" d="M51 4l1-1h6l1 1v2l1 1h26l1 1v2l1 1h10l1 1v2l1 1h2l1 1v6l1 1h2l1 1v10l1 1h2l1 1v2l-1 1h-2l-1 1v18l-1 1h-2l-1 1v2l-1 1h-2l-1 1v14l-1 1h-2l-1 1v6l-1 1h-2l-1 1v2l-1 1h-2l-1 1v2h-64v-6l-1-1h-6l-1-1v-2l-1-1h-6l-1-1v-6l-1-1h-2l-1-1v-2l-1-1h-2v-44h6l1-1v-6l1-1h6l1-1v-2l1-1h2l1-1v-2l1-1h6l1-1v-2l1-1h2l1 1v2l1 1h2l1-1v-2l1-1h14l1-1z"/><path fill="#e9bb30" d="M23 16l1-1h6l1 1v2l-1 1h-6l-1-1zM35 16l1-1h6l1 1v2l-1 1h-2l-1 1v2l1 1h2l1-1v-2l1-1h6l1-1v-2l1-1h34l1 1v2l1 1h6l1 1v6l1 1h2l1 1v6l1 1h2l1 1v6l-1 1h-2l-1 1v18l-1 1h-2l-1 1v6l-1 1h-2l-1 1v6l-1 1h-2l-1 1v6l-1 1h-2l-1 1v2l-1 1h-18l-1 1v2h-12v-2l-1-1h-6l-1 1v2h-8v-2l-1-1h-2l-1-1v-2l-1-1h-6l-1-1v-6l-1-1h-6l-1-1v-2l-1-1h-2l-1-1v-2l-1-1h-6l-1-1v-6l-1-1h-2v-4h2l1-1v-2l-1-1h-2v-4h2l1-1v-2l1-1h2l1-1v-6l1-1h2l1-1v-2l1-1h2l1-1v-2l1-1h2l1-1v-6l1-1h10l1-1v-2l1-1h2l1-1z"/><path fill="#f3ba39" d="M55 28l1-1h30l1 1v2l1 1h2l1 1v2l-1 1h-2l-1 1v10l1 1h2l1 1v6l-1 1h-2l-1 1v2l1 1h2l1 1v6l-1 1h-2l-1 1v6l-1 1h-2l-1 1v2l-1 1h-2l-1 1v2l-1 1h-10l-1 1v2l-1 1h-6l-1-1v-2l-1-1h-26l-1-1v-6l-1-1h-2l-1-1v-2l-1-1h-2l-1-1v-2l-1-1h-2l-1-1v-2l1-1h2l1-1v-10l-1-1h-2l-1-1v-2l1-1h2l1-1v-2l1-1h6l1-1v-2l1-1h2l1-1v-2l1-1h2l1 1v6l1 1h2l1-1v-10l1-1h6l1 1v2l1 1h2l1-1z"/><path fill="#fbbc3d" d="M67 36l1-1h2l1 1v2l-1 1h-2l-1-1zM51 44l1-1h6l1 1v2l1 1h2l1 1v2l1 1h6l1-1v-2l1-1h6l1 1v2l-1 1h-2l-1 1v2l1 1h2l1 1v2l-1 1h-2l-1 1v2l1 1h2l1 1v6l-1 1h-2l-1 1v2l-1 1h-14l-1 1v2l-1 1h-10l-1-1v-2l-1-1h-6l-1-1v-2l-1-1h-2l-1-1v-2l-1-1h-2l-1-1v-2l1-1h2l1-1v-6l1-1h6l1-1v-2l1-1h10l1-1v-2l-1-1h-2l-1-1z"/></g><g fill="#000" stroke="none"><circle cx="1093" cy="1022" r="2.3"/><circle cx="1100" cy="1028" r="1.3"/><circle cx="1023" cy="992" r="2.1"/><circle cx="1024" cy="988" r="1.7"/><circle cx="1027" cy="986" r="1.2"/><circle cx="1024" cy="993" r="1.5"/><circle cx="1073" cy="953" r="2.0"/><circle cx="1078" cy="954" r="1.5"/><circle cx="1089" cy="1009" r="2.6"/><circle cx="1095" cy="1005" r="2.2"/><circle cx="1089" cy="1014" r="1.8"/><circle cx="1055" cy="1010" r="1.8"/><circle cx="1055" cy="1007" r="1.3"/><circle cx="985" cy="974" r="3.4"/><circle cx="991" cy="968" r="2.6"/><circle cx="984" cy="975" r="2.8"/><circle cx="1086" cy="950" r="2.1"/><circle cx="1084" cy="945" r="1.8"/><circle cx="1086" cy="956" r="1.6"/><circle cx="981" cy="986" r="2.3"/><circle cx="976" cy="995" r="2.5"/><circle cx="972" cy="994" r="1.6"/><circle cx="940" cy="1017" r="2.7"/><circle cx="937" cy="1017" r="1.9"/><circle cx="934" cy="1020" r="1.4"/><circle cx="940" cy="1019" r="1.8"/><circle cx="1095" cy="1076" r="3.7"/><circle cx="1102" cy="1071" r="2.8"/><circle cx="987" cy="984" r="2.0"/><circle cx="1004" cy="992" r="3.2"/><circle cx="998" cy="985" r="1.7"/><circle cx="1002" cy="988" r="2.2"/><circle cx="999" cy="998" r="1.8"/><circle cx="993" cy="1020" r="2.2"/><circle cx="990" cy="1017" r="1.6"/><circle cx="993" cy="1019" r="1.8"/><circle cx="1041" cy="1043" r="3.2"/><circle cx="1045" cy="1038" r="2.5"/><circle cx="1012" cy="1067" r="1.9"/><circle cx="966" cy="1039" r="1.8"/><circle cx="1055" cy="1047" r="3.4"/><circle cx="1053" cy="1047" r="2.3"/><circle cx="1059" cy="1052" r="2.8"/><circle cx="974" cy="1059" r="2.9"/><circle cx="970" cy="1056" r="2.4"/><circle cx="980" cy="1059" r="1.6"/><circle cx="979" cy="1057" r="1.5"/><circle cx="953" cy="1068" r="2.9"/><circle cx="948" cy="1066" r="2.3"/><circle cx="955" cy="1065" r="1.8"/><circle cx="959" cy="1064" r="1.7"/><circle cx="1004" cy="997" r="2.6"/><circle cx="1001" cy="992" r="1.8"/><circle cx="1000" cy="994" r="1.9"/><circle cx="1003" cy="997" r="1.7"/><circle cx="983" cy="1003" r="3.3"/><circle cx="974" cy="1048" r="2.3"/><circle cx="975" cy="1046" r="1.7"/><circle cx="972" cy="1049" r="1.3"/><circle cx="948" cy="1060" r="2.6"/><circle cx="951" cy="1057" r="1.5"/><circle cx="952" cy="1054" r="2.2"/><circle cx="948" cy="1064" r="1.4"/><circle cx="928" cy="1093" r="2.9"/><circle cx="923" cy="1092" r="2.3"/><circle cx="922" cy="1091" r="2.0"/><circle cx="933" cy="1097" r="2.1"/><circle cx="996" cy="1040" r="2.6"/><circle cx="1001" cy="1039" r="1.7"/><circle cx="1020" cy="987" r="2.1"/><circle cx="1014" cy="991" r="1.7"/><circle cx="999" cy="953" r="2.9"/><circle cx="1001" cy="950" r="1.9"/><circle cx="1006" cy="959" r="1.9"/></g>
</g>
<rect x="130.5" y="634.3" width="979.0" height="462.7" fill="none" stroke="#222" stroke-width="1"/>
<line x1="329.0" y1="634.3" x2="329.0" y2="1097.0" stroke="#000" stroke-width="4.8" stroke-linecap="butt"/>
<line x1="522.3" y1="634.3" x2="522.3" y2="1097.0" stroke="#000" stroke-width="5.4" stroke-linecap="butt"/>
<line x1="714.8" y1="634.3" x2="714.8" y2="1097.0" stroke="#000" stroke-width="5.0" stroke-linecap="butt"/>
<line x1="918.5" y1="770.0" x2="918.5" y2="1097.0" stroke="#000" stroke-width="4.5" stroke-linecap="butt"/>
<line x1="130.5" y1="786.0" x2="920.5" y2="786.0" stroke="#000" stroke-width="5.0" stroke-linecap="butt"/>
<line x1="918.5" y1="785.5" x2="1109.5" y2="782.5" stroke="#000" stroke-width="1.8" stroke-linecap="butt"/>
<line x1="130.5" y1="938.2" x2="1109.5" y2="938.2" stroke="#000" stroke-width="4.0" stroke-linecap="butt"/>
<linearGradient id="cbC" x1="0" y1="0" x2="0" y2="1"><stop offset="0.0000" stop-color="#f9fb15"/><stop offset="0.0667" stop-color="#f5e128"/><stop offset="0.1333" stop-color="#fec735"/><stop offset="0.2000" stop-color="#eaba31"/><stop offset="0.2667" stop-color="#bbc42f"/><stop offset="0.3333" stop-color="#81cc59"/><stop offset="0.4000" stop-color="#48cb86"/><stop offset="0.4667" stop-color="#29c3aa"/><stop offset="0.5333" stop-color="#01b9c7"/><stop offset="0.6000" stop-color="#1caadf"/><stop offset="0.6667" stop-color="#2797eb"/><stop offset="0.7333" stop-color="#2f80fa"/><stop offset="0.8000" stop-color="#4367fd"/><stop offset="0.8667" stop-color="#484ff2"/><stop offset="0.9333" stop-color="#4538d7"/><stop offset="1.0000" stop-color="#3e26a8"/></linearGradient><rect x="1124.4" y="634.3" width="25.4" height="462.7" fill="url(#cbC)" stroke="#333" stroke-width="0.8"/>
<line x1="1145.8" y1="662.0" x2="1149.8" y2="662.0" stroke="#222" stroke-width="1"/><line x1="1145.8" y1="745.5" x2="1149.8" y2="745.5" stroke="#222" stroke-width="1"/><line x1="1145.8" y1="827.0" x2="1149.8" y2="827.0" stroke="#222" stroke-width="1"/><line x1="1145.8" y1="909.0" x2="1149.8" y2="909.0" stroke="#222" stroke-width="1"/><line x1="1145.8" y1="989.0" x2="1149.8" y2="989.0" stroke="#222" stroke-width="1"/><line x1="1145.8" y1="1071.4" x2="1149.8" y2="1071.4" stroke="#222" stroke-width="1"/>
<clipPath id="cpD"><rect x="1343.0" y="633.2" width="1000.5" height="454.0"/></clipPath>
<g clip-path="url(#cpD)" stroke="#0a0a18" stroke-width="1.25" stroke-linejoin="round" vector-effect="non-scaling-stroke" fill-rule="evenodd">
<g transform="translate(1343.0 633.2) scale(1.4912 1.4920)"><rect width="136" height="100" fill="#473ee1" stroke="none"/><path fill="#4745e9" d="M0 0h136v91l-1 1v2l-2 2v2l-2 2h-131z"/><path fill="#484bef" d="M5 2l2-2h124v4l2 2v2l2 2v6l1 1v54h-2l-5 5v2l-2 2v2l2 2v6l-1 1h-8l-3 3v2l-3 3h-6l-1 1h-92v-4l-1-1h-2l-2-2h-4l-1-1v-2l-2-2v-2l-2-2v-6l-1-1v-20l1-1v-6l2-2v-2l-3-3v-18l1-1v-2l-1-1v-14h2l3-3z"/><path fill="#4852f4" d="M13 2l2-2h104l2 2v2l3 3h2l3 3v6l-2 2v2l1 1h2l3 3v2l-2 2v2l5 5v4l-1 1v18l1 1v6h-4l-7 7v2l-6 6v2l-1 1h-2l-3 3v4l-3 3h-2l-2 2h-2l-4 4h-2l-1 1h-64l-4-4v-2l-3-3h-4l-4-4h-2l-2-2h-2l-5-5v-2l-2-2v-4l-2-2v-2l2-2v-10l2-2v-2l2-2v-6l-2-2v-2l-4-4v-6l6-6v-10l2-2v-4l2-2z"/><path fill="#4758f8" d="M31 0h6v2l1 1l1-1v-2h64l3 3h2l5 5v4l2 2v2l2 2v2l6 6v2l4 4v4l-2 2v2l-2 2v6l3 3h2l1 1v6l-1 1h-2l-3 3v6l-7 7h-4l-5 5v2l-4 4v2l-1 1h-2l-10 10h-16l-2-2h-8l-2-2h-4l-2 2h-2l-2 2l-2-2h-10l-2-2h-2l-1-1v-8l-3-3h-2l-1-1v-2l2-2v-2l-5-5h-2l-5-5v-6l2-2l-2-2v-10l-4-4v-2l-2-2v-2l-2-2v-2l4-4v-8l-2-2l3-3h4l1-1v-2l1-1h2l3-3v-4zM11 74l1-1l1 1v2l-1 1l-1-1z"/><path fill="#465efb" d="M47 2l2-2h24v2l2 2v2l1 1h2l2-2h2l3-3v-2h4l1 1h6l1 1v4l2 2v4l2 2v2l1 1h4l3 3v8l-2 2v2l-2 2l1 1h8l3 3v2l-2 2v10l-2 2v2l2 2l-2 2l2 2l-2 2v4l-1 1h-2l-4 4h-4l-4 4h-2l-2 2h-8l-1 1v4l-2 2v2l-2 2v2l-1 1h-6l-3-3v-2l-1-1h-8l-2 2h-4l-2-2h-2l-3-3v-4l-4-4v-2l-7-7h-4l-4-4h-2l-1-1v-4l1-1h2l1-1v-2l2-2v-6l-3-3h-2l-1-1v-4l-2-2v-4l2-2v-2l2-2v-6l7-7h2l2-2h2l2-2h2l1-1zM36 51l-1 1l1 1h2l1-1l-1-1z"/><path fill="#4465fd" d="M55 8l1-1l1 1v2l-1 1l-1-1zM64 11h2l2 2h2l3 3v2l2 2v4l-6 6v2l-2 2v2l5 5h2l3-3v-4l3-3h2l2 2h2l4 4h2l2-2l3 3v6l-2 2l5 5h2l3 3l-2 2v2l-5 5h-2l-2-2h-4l-2 2l-3-3v-4l-2-2v-2l-3-3h-2l-2-2h-2l-2 2h-10l-6-6h-2l-6-6h-6l-1-1v-4l-4-4v-8l3-3h2l6 6l2-2h2l2 2h2l3-3v-2l-2-2l3-3h2zM83 14l1-1l1 1v4l-3 3l-1-1v-2l2-2zM72 53h2l1 1v4l2 2v4l4 4l-3 3h-2l-2-2h-10l-3-3v-2l3-3l1 1v2l1 1h2l1-1v-8zM53 72l1-1h2l3 3v2l-1 1h-2l-3-3z"/></g>
<g transform="translate(1545.8 633.2) scale(1.5015 1.4920)"><rect width="132" height="100" fill="#484bef" stroke="none"/><path fill="#4852f4" d="M0 0h132v95l-3 3v2h-128v-4l-1-1z"/><path fill="#4758f8" d="M0 0h132v91h-2l-3 3v2l-4 4h-116v-2l-2-2v-2l-3-3h-2z"/><path fill="#465efb" d="M0 0h132v85h-2l-7 7v4l-4 4h-106l-4-4v-2l-4-4v-2l-1-1h-2l-2-2z"/><path fill="#4465fd" d="M0 0h132v77l-11 11v2l-2 2v2l-2 2v2l-2 2h-96l-2-2v-2l-5-5h-2l-1-1v-2l-9-9z"/><path fill="#416cfe" d="M1 2l2-2h122l4 4v6l2 2v4l1 1v54l-11 11v2l-4 4v2l-2 2v2l-5 5h-4l-1 1h-78l-1-1h-2l-5-5v-2l-5-5h-2l-7-7v-2l-4-4v-2l-1-1v-64l1-1z"/><path fill="#3b73fe" d="M5 2l2-2h112l2 2v2l4 4v2l2 2v2l2 2v2l2 2v10l1 1v2l-1 1v4l1 1v2l-1 1v2l1 1v10l-1 1v8l-2 2v2l-6 6v2l-8 8v4l-7 7h-2l-2 2h-6l-2 2h-2l-1 1h-58l-1-1h-2l-4-4h-2l-19-19v-2l-2-2v-2l-2-2v-2l-2-2v-6l-1-1v-32l1-1v-12l2-2v-4l2-2z"/><path fill="#347afd" d="M17 0h98l2 2v2l2 2v2l4 4v2l2 2v2l2 2v22l2 2v12l-2 2v2l-2 2v4l-4 4v2l-4 4v2l-4 4v2l-2 2v2l-3 3h-2l-2 2h-2l-2 2h-6l-2 2h-2l-2 2h-2l-1 1h-18l-1-1l-1 1h-18l-1-1h-8l-2-2h-2l-1-1v-2l-1-1h-2l-4-4h-2l-9-9v-2l-4-4v-4l-6-6v-10l-2-2v-10l-2-2v-4l2-2v-6l2-2v-16l2-2v-2l3-3h4z"/><path fill="#2f80fa" d="M21 0h86l10 10v2l4 4v2l2 2v24l2 2v2l2 2l-2 2v6l-4 4v2l-2 2v2l-4 4v2l-4 4v2l-3 3h-2l-3 3v2l-1 1h-2l-2 2h-2l-2 2h-4l-2 2h-2l-2 2h-8l-2 2h-4l-2-2h-10l-2-2l-2 2h-6l-2-2h-8l-6-6h-2l-2-2h-2l-5-5v-2l-4-4v-2l-2-2v-2l-2-2v-2l-4-4v-2l2-2v-4l-4-4v-6l-2-2v-8l2-2v-4l2-2v-14z"/><path fill="#2e87f7" d="M29 0h74l4 4v2l6 6v2l2 2v2l4 4v10l-2 2v10l4 4v4l-2 2v4l-2 2v4l-4 4v2l-15 15h-2l-4 4h-2l-2 2h-2l-2 2h-26l-2-2l-2 2h-6l-2-2h-6l-2-2h-2l-4-4h-2l-9-9v-4l-6-6v-10l2-2v-2l-4-4v-2l-2-2v-4l-2-2v-2l4-4l-2-2v-8l2-2v-2l4-4v-4l3-3h2z"/><path fill="#2d8df2" d="M34 1h2l1-1h62l6 6v2l2 2v2l2 2v2l2 2v6l4 4v4l-2 2v4l-2 2v6l2 2v6l-2 2v2l-2 2v8l-6 6v2l-1 1h-2l-6 6h-2l-2 2h-4l-2 2h-6l-2 2h-2l-2-2h-4l-2 2h-14l-2-2h-2l-2-2h-4l-2-2h-4l-3-3v-2l-6-6v-2l-8-8v-4l2-2l-2-2v-8l-2-2v-8l2-2l-2-2v-2l-2-2v-2l2-2v-4l8-8v-2z"/><path fill="#2a93ee" d="M44 1h2l1-1h42l1 1h2l2 2h4l3 3v4l2 2v2l2 2v6l2 2v4l2 2v12l-2 2v10l-2 2v2l-2 2v2l-2 2v2l-2 2v2l-2 2v2l-1 1h-2l-6 6h-10l-2 2h-6l-2 2h-12l-2-2h-4l-4-4h-6l-9-9v-2l-2-2v-2l-4-4v-6l-2-2v-8l4-4v-2l-2-2v-2l-2-2v-4l2-2v-6l2-2v-2l9-9h2l1-1v-2l1-1h2z"/><path fill="#2698ea" d="M68 1h6l1-1h2l1 1h4l2 2h2l2 2h4l5 5v6l2 2v6l2 2v4l4 4v4l-2 2v8l-2 2v8l-4 4v2l-11 11h-10l-2 2h-2l-4 4h-2l-2 2l-2-2h-6l-2-2h-4l-4-4h-2l-2-2h-2l-5-5v-2l-6-6v-10l2-2v-12l-2-2v-8l2-2v-2l5-5h4l1-1v-2l2-2v-2l3-3h4l2-2h8l2-2h4z"/><path fill="#249ee6" d="M74 7h2l4 4h8l3 3v8l6 6v8l-6 6l4 4v2l-2 2v10l-1 1h-6l-1 1v4l-3 3h-2l-2 2h-4l-2 2h-4l-4 4h-4l-4-4h-4l-2-2h-4l-2-2h-2l-5-5v-2l-2-2v-4l2-2v-4l2-2v-6l2-2l-1-1h-2l-3-3v-6l1-1h2l4-4h2l3-3v-8l3-3l2 2h6l4-4h4l2 2h2z"/><path fill="#21a3e3" d="M72 17h4l1 1v2l3 3l2-2h4l1 1v4l-1 1h-2l-1 1v4l2 2v10l2 2v2l-13 13h-2l-2 2h-4l-4-4h-2l-4 4h-4l-2 2h-6l-1-1v-2l-2-2v-2l2-2v-2l2-2v-2l2-2v-8l2-2v-8l2-2v-2l1-1h6l6-6h6z"/><path fill="#1da8e0" d="M62 37h2l2 2h4l1 1l-8 8v2l-1 1h-6l-1-1v-8l3-3h2z"/></g>
<g transform="translate(1744.0 633.2) scale(1.5077 1.4920)"><rect width="130" height="100" fill="#2d8df2" stroke="none"/><path fill="#2a93ee" d="M0 0h130v100h-127l-2-2v-2l-1-1z"/><path fill="#2698ea" d="M0 0h130v100h-123l-4-4v-2l-3-3z"/><path fill="#249ee6" d="M1 0h129v100h-121v-2l-4-4v-2l-2-2v-2l-2-2v-2l-1-1v-82z"/><path fill="#21a3e3" d="M5 0h125v100h-117v-2l-6-6v-2l-2-2v-2l-2-2v-2l-2-2v-10l-1-1v-60l1-1v-4z"/><path fill="#1da8e0" d="M9 0h121v95l-1 1v2l-2 2h-110v-2l-8-8v-2l-2-2v-2l-2-2v-4l-2-2v-10l-2-2v-8l-1-1v-38l1-1v-2l2-2v-4l2-2v-2z"/><path fill="#19addc" d="M13 0h117v89l-1 1v2l-2 2v2l-3 3h-2l-1 1h-100l-2-2v-2l-4-4v-2l-6-6v-2l-2-2v-8l-2-2v-6l-2-2v-10l-2-2v-16l2-2v-16l2-2v-4l2-2v-2z"/><path fill="#11b1d6" d="M15 2l2-2h108l2 2v2l2 2v2l1 1v74l-3 3v2l-2 2v2l-5 5h-2l-3 3h-88l-10-10v-2l-6-6v-2l-2-2v-10l-2-2v-8l-2-2v-24l2-2v-16l2-2v-2l6-6z"/><path fill="#06b5cf" d="M19 2l2-2h100l2 2v2l2 2v2l2 2v2l2 2v2l1 1v60l-1 1v2l-8 8v2l-1 1h-2l-6 6h-2l-3 3h-74l-1-1h-2l-9-9v-2l-4-4v-2l-4-4v-8l-2-2v-4l-2-2v-38l2-2v-8l2-2v-2l6-6z"/><path fill="#01b9c8" d="M25 0h90l6 6v2l2 2v2l2 2v2l2 2v2l2 2v2l1 1v44l-1 1v4l-12 12v2l-3 3h-2l-6 6h-2l-3 3h-58l-3-3h-2l-2-2h-2l-2-2h-2l-7-7v-2l-4-4v-2l-2-2v-4l-2-2v-6l-2-2v-18l-2-2v-6l2-2v-10l2-2v-6l2-2v-2l2-2v-2l6-6z"/><path fill="#06bcc0" d="M31 0h78l1 1h2l3 3v2l4 4v2l2 2v4l2 2v2l2 2v2l2 2v40l-2 2v2l-8 8v2l-11 11h-2l-2 2h-2l-2 2h-4l-3 3h-38l-1-1h-2l-2-2h-4l-6-6h-2l-2-2h-2l-5-5v-2l-4-4v-2l-2-2v-2l-2-2v-4l-2-2v-20l-2-2v-10l2-2v-4l2-2v-8l2-2v-2l6-6v-2z"/><path fill="#13beb8" d="M33 2l2-2h66l1 1h2l2 2h2l7 7v2l2 2v6l2 2v4l2 2v2l2 2v34l-2 2v2l-4 4v2l-4 4v2l-1 1h-2l-4 4h-2l-2 2h-2l-2 2h-2l-2 2h-2l-4 4h-2l-2 2l-2-2h-18l-2 2h-2l-2-2h-4l-2-2h-2l-2-2h-4l-6-6h-2l-7-7v-2l-2-2v-2l-2-2v-2l-2-2v-2l-2-2v-24l-2-2v-4l2-2v-2l2-2v-10l2-2v-2l4-4v-2l4-4z"/><path fill="#21c1b0" d="M43 0h42l1 1h2l2 2h6l2 2h4l2 2h2l5 5v2l2 2v6l2 2v4l2 2v2l2 2v8l2 2v10l-2 2v8l-2 2v2l-2 2v2l-2 2v2l-5 5h-2l-2 2h-2l-2 2h-2l-2 2h-4l-4 4h-2l-2 2h-4l-2-2h-12l-2 2h-10l-4-4h-2l-2-2h-2l-2-2h-2l-7-7v-4l-6-6v-2l-2-2v-12l-2-2v-4l2-2v-14l2-2v-4l2-2v-6l6-6v-2z"/><path fill="#2bc3a8" d="M48 1h2l1-1h24l1 1h4l2 2h2l2 2h2l2 2h4l2 2h2l2 2h2l7 7v8l2 2v2l2 2v2l2 2v2l2 2v14l-2 2v4l-4 4v2l-2 2v4l-9 9h-4l-2 2h-2l-2 2h-2l-2 2h-30l-2-2h-2l-2-2h-4l-2-2h-2l-5-5v-2l-2-2v-2l-4-4v-2l-2-2v-8l-2-2v-4l2-2v-16l2-2v-4l2-2v-2l2-2v-2l4-4v-2z"/><path fill="#32c69f" d="M66 3h6l2 2h6l2 2h2l2 2h2l2 2h2l6 6h2l3 3v6l2 2v2l2 2v2l2 2v2l2 2v16l-4 4v2l-4 4v2l-4 4v2l-3 3h-2l-2 2h-2l-2 2h-16l-2 2h-6l-2-2h-4l-2-2h-6l-2-2h-4l-3-3v-2l-4-4v-2l-2-2v-6l-2-2v-26l2-2v-2l2-2v-2l2-2v-2l2-2v-2l9-9h14z"/><path fill="#38c896" d="M52 9h10l2 2h16l6 6h2l3 3v2l2 2v2l1 1h2l3 3v10l6 6v8l-4 4v2l-2 2v4l-7 7h-6l-2 2h-10l-2 2h-10l-2-2h-2l-2-2h-2l-2-2h-6l-1-1v-2l-4-4v-8l-2-2v-4l-2-2v-4l2-2v-4l-2-2v-4l2-2v-2l4-4v-2l2-2v-6l3-3h2z"/><path fill="#42ca8b" d="M64 15h2l2 2h6l2 2h2l1 1v2l7 7h2l3 3v2l2 2l-2 2v4l2 2v14l-2 2v2l-3 3h-2l-2 2h-10l-2 2h-2l-2 2h-2l-2-2h-4l-2-2h-2l-4-4h-2l-3-3v-2l-2-2v-6l-2-2v-2l2-2v-2l2-2v-12l4-4v-2l2-2v-2l1-1h8z"/><path fill="#50cc80" d="M66 25h2l2 2h2l3 3v2l8 8v4l-2 2v2l-2 2v2l-2 2v2l-5 5h-12l-7-7v-6l2-2v-4l2-2v-8l1-1h2z"/></g>
<g transform="translate(1940.0 633.2) scale(1.5072 1.4920)" stroke-width="1.50"><rect width="138" height="100" fill="#50cc80" stroke="none"/><path fill="#50cc80" d="M5 0h133v89l-1 1v4l-6 6h-126v-4l-2-2v-4l-3-3v-74l1-1v-2l2-2v-4l2-2z"/><path fill="#5ecd74" d="M7 0h131v85l-1 1v4l-2 2v2l-6 6h-122l-2-2v-6l-2-2v-2l-2-2v-8l-1-1v-60l3-3v-4l2-2v-4l2-2z"/><path fill="#6ecd67" d="M7 0h131v81l-1 1v4l-2 2v2l-2 2v2l-3 3h-2l-3 3h-116l-2-2v-6l-2-2v-2l-2-2v-8l-2-2v-2l-1-1v-34l1-1v-8l-1-1v-10l5-5v-4l2-2v-2l2-2v-2z"/><path fill="#7ecc5a" d="M9 0h126l2 2v6l1 1v40l-1 1l1 1v24l-1 1v6l-2 2v2l-2 2v4l-3 3h-2l-3 3v2h-114l-2-2v-6l-2-2v-8l-2-2v-2l-2-2v-2l-2-2v-32l2-2v-6l-2-2v-10l4-4v-2l2-2v-2l4-4v-4z"/><path fill="#8fcb4e" d="M11 0h122l2 2v6l2 2v2l1 1v26l-1 1v20l1 1v8l-1 1v6l-2 2v4l-2 2v4l-2 2v2l-1 1h-2l-3 3v2l-2 2h-106l-1-1h-2l-3-3v-4l-2-2v-8l-2-2v-2l-4-4v-34l2-2v-2l-2-2v-14l4-4v-2l2-2v-2l4-4v-4z"/><path fill="#9fc941" d="M13 0h118v2l2 2v4l2 2v2l2 2v2l1 1v20l-1 1v4l-2 2v14l2 2v8l-2 2v4l-2 2v8l-2 2v2l-2 2v2l-8 8h-102l-6-6v-4l-2-2v-4l-2-2v-2l-2-2v-2l-2-2v-10l2-2v-6l-2-2v-14l2-2l-2-2v-6l-2-2v-4l4-4v-2l2-2v-2l2-2v-2l2-2v-2l2-2l-2-2z"/><path fill="#afc637" d="M15 0h114v2l2 2v2l2 2v4l2 2v2l2 2v4l1 1v8l-1 1v6l-2 2v4l-2 2v10l2 2v10l-2 2v4l-2 2v10l-4 4v2l-6 6v2h-98l-8-8v-4l-2-2v-2l-2-2v-2l-2-2v-2l-2-2v-8l2-2v-10l-2-2v-20l-2-2v-6l4-4v-4l2-2v-2l4-4z"/><path fill="#bec32e" d="M17 0h110v2l2 2v2l2 2v2l2 2v4l2 2v4l2 2v10l-2 2v2l-2 2v6l-2 2v6l2 2v6l2 2l-2 2v2l-2 2v4l-2 2v10l-4 4v2l-6 6v2h-94l-6-6v-2l-2-2v-2l-2-2v-2l-2-2v-2l-2-2v-2l-2-2v-10l2-2v-8l-2-2v-18l-2-2v-6l2-2v-2l2-2v-4l2-2v-2l2-2v-2l2-2z"/><path fill="#ccc028" d="M19 0h106v2l2 2v2l4 4v2l2 2v8l2 2v10l-2 2v4l-2 2v6l-2 2l2 2v8l2 2v2l-2 2v2l-2 2v4l-2 2v8l-2 2v2l-2 2v2l-2 2v2l-4 4h-92v-2l-2-2v-2l-2-2v-2l-2-2v-2l-4-4v-2l-2-2v-2l-2-2v-14l2-2l-2-2v-20l-2-2v-6l2-2v-4l2-2v-6l2-2v-2l2-2v-2l2-2z"/><path fill="#d9be28" d="M21 0h100l2 2v2l6 6v2l2 2v10l2 2v8l-2 2v4l-2 2v14l2 2v6l-2 2v2l-2 2v8l-2 2v4l-2 2v2l-2 2v2l-2 2v2l-3 3h-2l-1 1h-86v-2l-2-2v-2l-2-2v-2l-2-2v-2l-2-2v-2l-4-4v-2l-2-2v-26l-2-2v-18l2-2v-2l2-2v-8l2-2v-2l2-2v-4l2-2z"/><path fill="#e4bb2c" d="M23 0h96v2l2 2v2l1 1h2l5 5v16l2 2v2l-2 2v6l-2 2v12l2 2v8l-2 2v2l-2 2v10l-2 2v2l-2 2v2l-2 2v2l-8 8h-82v-2l-4-4v-2l-2-2v-6l-2-2v-2l-4-4v-2l-2-2v-2l-2-2v-4l2-2v-10l-2-2v-20l2-2v-2l2-2v-12l2-2v-2l2-2v-2l2-2z"/><path fill="#efba35" d="M23 2l2-2h92v2l2 2v2l8 8v24l-2 2v10l2 2v12l-2 2v2l-2 2v10l-4 4v2l-2 2v4l-5 5h-2l-3 3h-76v-2l-4-4v-2l-2-2v-6l-2-2v-2l-2-2v-2l-2-2v-2l-4-4v-8l2-2v-4l-2-2v-22l4-4v-16l2-2v-2l2-2z"/><path fill="#f9ba3d" d="M25 2l2-2h88v2l2 2v2l6 6v2l2 2v2l-2 2v30l2 2v10l-2 2v4l-2 2v8l-2 2v2l-4 4v4l-9 9h-2l-1 1h-68l-6-6v-2l-2-2v-4l-2-2v-6l-2-2v-2l-6-6v-12l2-2l-2-2v-10l-2-2v-4l2-2v-2l2-2v-2l2-2v-16l2-2v-2l2-2z"/><path fill="#febf3b" d="M29 0h84l2 2v4l2 2v2l2 2v2l2 2v32l2 2v10l-2 2v8l-2 2v6l-4 4v2l-2 2v4l-7 7h-2l-2 2h-2l-1 1h-60l-10-10v-2l-2-2v-6l-2-2v-4l-2-2v-2l-4-4v-24l-2-2v-2l2-2v-2l2-2v-2l2-2v-20l2-2v-2z"/><path fill="#fec537" d="M31 0h80l2 2v2l2 2v4l2 2v6l2 2v24l2 2v12l-2 2v12l-2 2v4l-6 6v4l-2 2v2l-3 3h-2l-2 2h-2l-2 2h-4l-1 1h-48l-1-1h-2l-11-11v-2l-2-2v-4l-2-2v-4l-2-2v-2l-6-6v-2l2-2v-4l2-2v-2l-2-2v-14l2-2v-4l2-2v-20l2-2v-2z"/><path fill="#fdcc32" d="M35 0h72l6 6v4l2 2l-2 2l2 2v4l2 2v16l2 2v14l-2 2v16l-2 2v4l-4 4v2l-2 2v2l-2 2v2l-3 3h-4l-2 2h-6l-2 2h-12l-1 1h-22l-1-1h-6l-2-2h-2l-13-13v-2l-2-2v-4l-2-2v-4l-6-6v-4l2-2v-2l2-2v-14l-2-2l2-2v-8l2-2v-18z"/><path fill="#fbd32e" d="M39 0h66l6 6v10l2 2v2l2 2v16l2 2v12l-2 2v18l-2 2v4l-4 4v2l-2 2v2l-5 5h-2l-2 2h-6l-2 2h-10l-2 2h-6l-1 1h-10l-1-1h-2l-2-2h-2l-2-2h-8l-11-11v-2l-2-2v-2l-2-2v-6l-4-4v-2l-2-2v-2l2-2v-2l2-2v-10l2-2l-2-2v-12l2-2v-18l5-5h2z"/><path fill="#f7db2b" d="M43 0h58l8 8v8l2 2v4l2 2v14l2 2v12l-2 2v2l-2 2v2l2 2v10l-2 2v2l-2 2v2l-4 4v2l-5 5h-2l-2 2h-6l-2 2h-8l-2 2h-4l-2 2h-10l-4-4h-2l-2-2h-8l-2-2h-2l-5-5v-2l-4-4v-2l-2-2v-8l-6-6v-2l2-2v-2l2-2v-6l2-2v-8l-2-2v-8l2-2v-16l7-7h2z"/><path fill="#f5e227" d="M47 0h44l3 3h4l9 9v4l2 2v4l2 2v14l2 2v12l-2 2v2l-2 2v4l2 2v6l-2 2v4l-8 8v2l-3 3h-2l-2 2h-4l-2 2h-8l-2 2h-4l-2 2h-10l-6-6h-10l-2-2h-2l-3-3v-2l-6-6v-12l-6-6l2-2v-2l2-2v-4l2-2v-10l-2-2v-6l2-2v-16l5-5h2z"/><path fill="#f5e924" d="M51 0h6l1 1h10l1-1h14l1 1h2l2 2h4l2 2h2l9 9v4l2 2v6l2 2v2l-2 2v4l2 2v2l2 2v8l-2 2v4l-2 2v16l-8 8v2l-5 5h-6l-2 2h-8l-2 2h-2l-2 2h-8l-4-4h-2l-2-2h-2l-2-2l-2 2h-4l-11-11v-14l-4-4v-4l2-2v-2l2-2v-14l-2-2v-2l2-2v-12l2-2v-4l1-1h2l2-2h2l3-3v-2z"/><path fill="#f6f01f" d="M72 1h6l2 2h2l4 4h8l9 9v2l2 2v18l2 2v2l2 2v6l-2 2v4l-2 2v12l-2 2v2l-1 1h-2l-3 3v4l-5 5h-2l-2-2h-2l-2 2h-2l-2 2h-4l-2 2h-10l-2-2h-2l-2-2h-2l-2-2h-4l-2 2h-2l-9-9v-6l2-2v-2l-2-2v-4l-2-2v-8l2-2v-22l2-2l-2-2v-2l2-2v-2l2-2v-2l1-1h2l2-2h2l1-1v-4l3-3h6l2 2h8z"/><path fill="#f8f719" d="M74 5h4l2 2h2l2 2h8l2 2h2l3 3v2l2 2v6l2 2v16l2 2v8l-2 2v12l-2 2v2l-3 3h-2l-3 3v4l-1 1h-8l-6 6h-4l-2 2h-2l-2-2h-8l-4-4h-12l-1-1v-2l-4-4l2-2v-8l-2-2v-2l-2-2v-4l2-2v-18l2-2v-14l5-5h4l2-2h2l2-2h10l4-4h2z"/></g>
<g transform="translate(2148.0 633.2) scale(1.5038 1.4920)" stroke-width="1.50"><rect width="130" height="100" fill="#d9be28" stroke="none"/><path fill="#d9be28" d="M15 0h104l1 1h2l8 8v80l-3 3v2l-2 2v2l-1 1h-2l-1 1h-108l-6-6v-2l-6-6v-12l-1-1v-52l1-1v-4l2-2v-4l7-7h2z"/><path fill="#e4bb2c" d="M15 0h104l3 3h2l6 6v28l-1 1v2l1 1v48l-3 3v2l-5 5h-2l-1 1h-106l-4-4v-2l-8-8v-14l-1-1v-10l1-1v-2l-1-1v-18l1-1l-1-1v-14l1-1v-4l2-2v-4l2-2v-2l3-3h2z"/><path fill="#efba35" d="M15 0h102l1 1h2l4 4h2l4 4v24l-1 1v8l1 1v44l-1 1v2l-4 4v2l-3 3h-4l-1 1h-102l-1-1h-2l-1-1v-2l-8-8v-4l-2-2v-12l-1-1v-4l1-1v-10l-1-1v-10l1-1v-10l-1-1v-4l1-1v-6l2-2v-4l2-2v-2z"/><path fill="#f9ba3d" d="M14 1h2l1-1h100l1 1h2l6 6h2l1 1v2l1 1v20l-1 1v10l1 1v44l-3 3v2l-7 7h-2l-1 1h-102l-6-6v-2l-6-6v-10l-2-2v-22l-1-1v-6l1-1v-24l2-2v-2l2-2v-4z"/><path fill="#febf3b" d="M17 0h98l1 1h2l2 2h2l8 8v12l-1 1v20l1 1v26l-1 1l1 1v12l-1 1v2l-2 2v2l-5 5h-2l-2 2h-2l-1 1h-98l-1-1h-2l-3-3v-2l-6-6v-2l-2-2v-10l-2-2v-50l2-2v-4l2-2v-2l2-2v-2l3-3h2z"/><path fill="#fec537" d="M16 1h2l1-1h18l1 1h6l1-1h68l1 1h4l4 4h2l5 5v2l1 1v6l-1 1v14l-2 2l2 2v6l1 1v22l-1 1v8l1 1v8l-1 1v2l-4 4v2l-1 1h-2l-4 4h-2l-1 1h-80l-1-1h-4l-1 1h-12l-1-1h-2l-1-1v-2l-4-4v-2l-4-4v-2l-2-2v-10l-2-2v-8l2-2v-4l-2-2v-30l2-2v-4l2-2v-2l2-2v-2z"/><path fill="#fdcc32" d="M19 0h16l1 1h10l1-1h64l1 1h4l2 2h2l4 4h2l3 3v16l-2 2v12l2 2v4l1 1v18l-1 1v20l-2 2v2l-7 7h-2l-2 2h-2l-1 1h-76l-1-1h-10l-1 1h-6l-1-1h-2l-5-5v-2l-4-4v-2l-2-2v-4l-2-2v-26l-2-2v-24l2-2v-4l2-2v-2l2-2v-4l7-7h2z"/><path fill="#fbd32e" d="M18 1h2l1-1h12l1 1h14l1-1h58l1 1h6l2 2h2l2 2h2l7 7v10l-2 2v18l2 2v4l1 1v12l-1 1v24l-4 4v2l-3 3h-2l-4 4h-2l-1 1h-74l-1-1h-22l-3-3v-2l-2-2v-2l-4-4v-2l-2-2v-8l-2-2v-24l-2-2l2-2v-12l-2-2l2-2v-6l2-2v-2l2-2v-4l2-2v-2l3-3h2z"/><path fill="#f7db2b" d="M20 1h2l1-1h8l1 1h16l1-1h56l1 1h8l2 2h2l2 2h2l7 7v8l-2 2v2l-2 2v8l2 2v6l2 2v8l1 1v6l-1 1v6l-2 2v8l2 2v6l-2 2v2l-9 9h-2l-2 2h-2l-1 1h-72l-1-1h-20l-7-7v-2l-2-2v-2l-2-2v-2l-2-2v-10l-2-2v-44l2-2v-4l2-2v-2l2-2v-2l7-7h2z"/><path fill="#f5e227" d="M20 1h4l1-1h2l1 1h22l1-1h10l1 1l1-1h40l1 1h8l2 2h2l2 2h2l4 4h2l1 1v4l2 2l-2 2v4l-2 2v14l2 2v4l2 2v18l-2 2v14l2 2l-2 2v4l-7 7h-2l-2 2h-2l-2 2h-2l-1 1h-68l-1-1h-20l-2-2h-2l-3-3v-2l-2-2v-2l-2-2v-2l-2-2v-2l-2-2v-26l-2-2v-26l2-2v-2l2-2v-2l2-2v-4l7-7h2z"/><path fill="#f5e924" d="M22 1h10l2 2h10l2-2h20l1-1h18l1 1h22l2 2h4l2 2h2l2 2h2l5 5v8l-2 2v2l-2 2v4l2 2v8l2 2v4l2 2v12l-2 2v24l-2 2v2l-3 3h-2l-4 4h-2l-2 2h-6l-1 1h-20l-1-1h-4l-1 1h-36l-1-1h-6l-2-2h-4l-2 2h-6l-2-2h-2l-5-5v-2l-2-2v-2l-2-2v-2l-2-2v-8l-2-2v-22l-2-2v-2l2-2v-4l-2-2v-10l2-2v-2l2-2v-2l2-2v-4l2-2v-2l3-3h2l2-2h2z"/><path fill="#f6f01f" d="M24 1h6l2 2h16l2-2h16l1-1h16l1 1h22l2 2h6l2 2h2l4 4h2l1 1v2l2 2v4l-2 2v2l-2 2v10l2 2v6l2 2v22l-2 2v8l2 2v8l-9 9h-2l-2 2h-2l-2 2h-8l-1 1h-12l-1-1h-16l-1 1h-26l-1-1h-6l-2-2h-18l-3-3v-2l-2-2v-2l-2-2v-2l-2-2v-2l-2-2v-10l-2-2v-8l2-2v-2l-2-2v-18l-2-2v-2l2-2v-4l2-2v-2l2-2v-4l2-2v-2l5-5h2l2-2h2z"/><path fill="#f8f719" d="M26 1l2 2h22l2-2h16l1-1h12l1 1h20l2 2h8l2 2h2l2 2h2l5 5v8l-2 2v14l2 2v6l2 2v16l-2 2v24l-3 3h-2l-4 4h-2l-2 2h-2l-2 2h-10l-1 1h-6l-1-1h-6l-2-2h-2l-2 2h-18l-1 1h-12l-1-1h-6l-2-2h-18l-5-5v-2l-2-2v-2l-2-2v-2l-2-2v-4l-2-2v-24l-2-2v-24l2-2v-2l2-2v-2l2-2v-2l2-2v-2l3-3h2l2-2h4z"/></g>
<g transform="translate(1343.0 782.4) scale(1.6900 1.6841)"><rect width="120" height="88" fill="#402ab3" stroke="none"/><path fill="#422fc0" d="M0 0h120v88h-120zM56 15l-1 1v6l-1 1h-2l-1-1v-2l-1-1h-18l-1 1v2l-1 1h-2l-1-1v-2l-1-1h-2l-1 1v10l-1 1h-6l-1 1v2l1 1h2l1 1v10l-1 1h-2l-1 1v10l1 1h2l1 1v6l1 1h2l1 1v2l1 1h2l1 1v2l1 1h6l1-1v-2l1-1h22l1 1v2l1 1h34l1-1v-2l1-1h2l1-1v-14l-1-1h-2l-1-1v-10l-1-1h-6l-1-1v-22l-1-1h-2l-1-1v-2l-1-1h-18l-1 1v2l-1 1h-2l-1-1v-2l-1-1zM27 28l1-1h2l1 1v2l-1 1h-2l-1-1zM51 32l1-1h2l1 1v2l-1 1h-2l-1-1zM55 36l1-1h2l1 1v2l-1 1h-2l-1-1z"/><path fill="#4433cd" d="M0 0h63v2l-1 1h-42l-1 1v2l-1 1h-6l-1 1v2l-1 1h-2l-1 1v2l-1 1h-2l-1 1v6l-1 1h-2zM67 0h8v2l-1 1h-6l-1-1zM87 0h33v88h-25l1-1h10l1-1v-2l1-1h2l1-1v-2l1-1h2l1-1v-34l1-1h2l1-1v-6l-1-1h-2l-1-1v-6l1-1h2l1-1v-10l-1-1h-2l-1-1v-6l-1-1h-6l-1-1v-2l-1-1h-18l-1-1zM0 67h2l1 1v6l1 1h2l1 1v2l1 1h2l1 1v2l1 1h6l1 1v2l1 1h30l1 1h-51zM55 88l1-1h30l1 1z"/></g>
<g transform="translate(1545.8 782.4) scale(1.7086 1.6841)"><rect width="116" height="88" fill="#4852f4" stroke="none"/><path fill="#4852f4" d="M0 0h116v88h-116zM4 43l-1 1v6l1 1h2l1-1v-6l-1-1z"/><path fill="#4758f8" d="M39 0h24v2l1 1h2l1-1v-2h8v2l1 1h6l1 1v2l1 1h6l1-1v-2l1-1h2l1 1v2l1 1h20v81h-101l-1-1h-2l-1-1v-2l-1-1h-2l-1-1v-30l1-1h2l1-1v-6l-1-1h-2l-1-1v-10l1-1h2l1-1v-2l-1-1h-2l-1-1v-2l1-1h2l1-1v-6l1-1h2l1-1v-2l1-1h2l1-1v-2l1-1h10l1-1v-2l1-1h6l1-1z"/><path fill="#465efb" d="M31 8l1-1h50l1 1v2l1 1h6l1-1v-2l1-1h10l1 1v2l1 1h10l1 1v2l1 1v73h-97v-4l-1-1h-2l-1-1v-2l-1-1h-2l-1-1v-30l1-1h2l1-1v-26l1-1h2l1-1v-2l1-1h2l1-1v-2l1-1h6l1-1z"/><path fill="#4465fd" d="M39 12l1-1h42l1 1v2l1 1h6l1-1v-2l1-1h10l1 1v2l1 1h10l1 1v2l1 1v68l-1 1h-40l-1-1h-18l-1 1h-4l-1-1h-2l-1 1h-12l-1-1h-10l-1-1v-2l-1-1h-2l-1-1v-10l-1-1h-2l-1-1v-10l1-1h2l1-1v-30l1-1h2l1-1v-6l1-1h2l1-1v-2l1-1h10l1-1z"/><path fill="#416cfe" d="M43 20l1-1h22l1 1v2l1 1h2l1-1v-2l1-1h38l1 1v2l1 1h2l1 1v2l1 1v52h-4l-1 1v2l-1 1h-6l-1 1v2l-1 1h-14l-1-1v-2l-1-1h-22l-1-1v-2l-1-1h-2l-1 1v2l-1 1h-26l-1-1v-2l-1-1h-6l-1-1v-22l1-1h2l1-1v-10l1-1h2l1-1v-10l1-1h2l1-1v-2l1-1h2l1-1v-2l1-1h2l1-1z"/><path fill="#3b73fe" d="M95 28l1-1h10l1 1v6l1 1h2l1 1v2l-1 1h-2l-1 1v10l-1 1h-2l-1 1v2l-1 1h-2l-1 1v2l1 1h6l1 1v2l-1 1h-2l-1 1v2l-1 1h-2l-1 1v2l-1 1h-2l-1-1v-2l-1-1h-2l-1-1v-2l-1-1h-2l-1 1v2l-1 1h-18l-1 1v2l-1 1h-10l-1 1v2l-1 1h-6l-1 1v2l-1 1h-6l-1-1v-2l-1-1h-2l-1-1v-2l-1-1h-2l-1-1v-2l1-1h2l1-1v-2l-1-1h-2l-1-1v-2l1-1h2l1-1v-2l1-1h2l1-1v-6l1-1h6l1-1v-2l1-1h6l1-1v-2l1-1h2l1-1v-2l1-1h2l1-1v-2l1-1h30l1-1z"/></g>
<g transform="translate(1744.0 782.4) scale(1.6897 1.6841)"><rect width="116" height="88" fill="#2698ea" stroke="none"/><path fill="#249ee6" d="M7 0h92v2l1 1h6l1 1v2l1 1h6l1 1v2l1 1v68l-1 1v2l-1 1h-2l-1 1v2l-1 1h-6l-1 1h-103v-81h2l1-1v-2l1-1h2l1-1z"/><path fill="#21a3e3" d="M15 4l1-1h50l1 1v2l1 1h6l1-1v-2l1-1h10l1 1v2l1 1h14l1 1v2l1 1h2l1 1v2l1 1h6l1 1v6l-1 1h-2l-1 1v2l1 1h2l1 1v26l-1 1h-2l-1 1v14l-1 1h-2l-1 1v2l-1 1h-2l-1 1v2l-1 1h-2l-1 1v6l-1 1h-18l-1 1h-4l-1-1h-18l-1 1h-8l-1-1h-30l-1-1v-2l-1-1h-6l-1-1v-2l-1-1h-2l-1-1v-2l-1-1h-2v-36h2l1-1v-2l-1-1h-2v-8h2l1-1v-10l1-1h2l1-1v-2l1-1h2l1-1v-2l1-1h2l1-1z"/><path fill="#1da8e0" d="M23 12l1-1h66l1 1v2l1 1h6l1 1v2l1 1h2l1 1v2l1 1h2l1 1v26l-1 1h-2l-1 1v6l-1 1h-2l-1 1v6l-1 1h-2l-1 1v6l-1 1h-10l-1 1v6l-1 1h-2l-1-1v-2l-1-1h-10l-1 1v2l-1 1h-2l-1-1v-2l-1-1h-10l-1 1v2l-1 1h-6l-1-1v-2l-1-1h-14l-1-1v-2l-1-1h-10l-1-1v-18l-1-1h-2l-1-1v-6l1-1h2l1-1v-6l-1-1h-2l-1-1v-10l1-1h2l1-1v-6l1-1h6l1-1z"/><path fill="#19addc" d="M43 20l1-1h2l1 1v2l1 1h2l1-1v-2l1-1h2l1 1v2l1 1h6l1-1v-2l1-1h22l1 1v6l1 1h6l1 1v2l-1 1h-2l-1 1v2l1 1h2l1 1v6l-1 1h-2l-1 1v6l-1 1h-2l-1-1v-2l-1-1h-2l-1 1v6l-1 1h-6l-1 1v10l-1 1h-14l-1 1v2l-1 1h-2l-1-1v-2l-1-1h-14l-1-1v-2l-1-1h-2l-1-1v-2l-1-1h-2l-1-1v-2l1-1h2l1-1v-2l-1-1h-2l-1-1v-18l-1-1h-2l-1-1v-2l1-1h2l1-1v-2l1-1h10l1-1z"/></g>
<g transform="translate(1940.0 782.4) scale(1.7049 1.6841)"><rect width="122" height="88" fill="#06bcc0" stroke="none"/><path fill="#06bcc0" d="M3 0h119v88h-122v-85h2l1-1z"/><path fill="#13beb8" d="M19 0h103v88h-39l-1-1h-22l-1 1h-12l-1-1h-2l-1 1h-43v-73h2l1-1v-2l1-1h2l1-1v-2l1-1h2l1-1v-2l1-1h6l1-1z"/><path fill="#21c1b0" d="M23 0h72v2l1 1h6l1 1v2l1 1h2l1 1v2l1 1h6l1 1v6l1 1h2l1 1v2l-1 1h-2l-1 1v6l1 1h2l1 1v2l-1 1h-2l-1 1v10l1 1h2l1 1v14l-1 1h-2l-1 1v2l-1 1h-2l-1 1v6l-1 1h-2l-1 1v2l-1 1h-2l-1 1v2l-1 1h-42l-1 1v2l-1 1h-10l-1-1v-2l-1-1h-10l-1 1v2l-1 1h-2l-1-1v-2l-1-1h-18l-1-1v-2l-1-1h-2l-1-1v-2l-1-1h-2l-1-1v-2l-1-1h-2v-52h6l1-1v-6l1-1h6l1-1v-2l1-1h6l1-1z"/><path fill="#2bc3a8" d="M43 0h4v2l1 1h6l1-1v-2h8v2l1 1h6l1-1v-2h4v2l1 1h2l1-1v-2h12v6l1 1h2l1 1v6l1 1h2l1 1v6l1 1h6l1 1v6l-1 1h-2l-1 1v10l1 1h2l1 1v10l-1 1h-2l-1 1v14l-1 1h-2l-1 1v2l-1 1h-6l-1 1v2l-1 1h-2l-1-1v-2l-1-1h-2l-1 1v2l-1 1h-50l-1-1v-2l-1-1h-10l-1-1v-2l-1-1h-6l-1-1v-6l-1-1h-10v-32h2l1-1v-6l1-1h2l1-1v-2l1-1h6l1-1v-6l1-1h6l1-1v-2l1-1h6l1-1v-2l1-1h10l1-1z"/><path fill="#32c69f" d="M55 8l1-1h2l1 1v2l1 1h18l1 1v2l1 1h6l1 1v6l1 1h2l1 1v6l1 1h2l1 1v6l1 1h2l1 1v2l-1 1h-2l-1 1v18l-1 1h-2l-1 1v2l-1 1h-2l-1 1v2l-1 1h-18l-1 1v2l-1 1h-26l-1-1v-2l-1-1h-10l-1-1v-6l-1-1h-6l-1-1v-2l-1-1h-2l-1-1v-2l-1-1h-2l-1 1v2l-1 1h-2l-1-1v-10l-1-1h-2l-1-1v-6l1-1h2l1-1v-2l1-1h2l1-1v-2l1-1h2l1-1v-6l1-1h6l1-1v-2l1-1h2l1-1v-2l1-1h10l1-1v-2l1-1h14l1-1zM91 20l1-1h2l1 1v2l-1 1h-2l-1-1z"/><path fill="#38c896" d="M39 20l1-1h2l1 1v2l1 1h2l1-1v-2l1-1h2l1 1v2l1 1h2l1-1v-2l1-1h2l1 1v2l1 1h10l1 1v2l1 1h6l1 1v2l1 1h2l1 1v2l1 1h2l1 1v2l1 1h2l1 1v14l-1 1h-2l-1 1v2l-1 1h-2l-1 1v2l-1 1h-10l-1 1v2l-1 1h-10l-1 1v2l-1 1h-10l-1-1v-6l-1-1h-6l-1-1v-2l-1-1h-6l-1-1v-6l-1-1h-2l-1 1v2l-1 1h-2l-1-1v-10l-1-1h-2l-1-1v-6l1-1h2l1-1v-2l1-1h2l1-1v-6l1-1h2l1 1v6l1 1h2l1-1v-2l1-1h2l1-1zM83 28l1-1h2l1 1v2l-1 1h-2l-1-1z"/><path fill="#42ca8b" d="M55 28l1-1h6l1 1v2l1 1h6l1 1v2l1 1h2l1 1v2l1 1h6l1 1v6l-1 1h-2l-1 1v2l-1 1h-2l-1 1v6l-1 1h-6l-1 1v2l-1 1h-6l-1-1v-2l-1-1h-2l-1-1v-2l-1-1h-6l-1-1v-2l-1-1h-6l-1-1v-10l1-1h6l1-1v-6l1-1h2l1 1v2l1 1h2l1-1z"/></g><g fill="#000" stroke="none"><circle cx="2111" cy="890" r="3.6"/><circle cx="2110" cy="890" r="3.0"/><circle cx="2110" cy="885" r="3.0"/><circle cx="2007" cy="927" r="2.3"/><circle cx="2014" cy="931" r="1.5"/><circle cx="2012" cy="933" r="1.2"/><circle cx="1986" cy="894" r="1.6"/><circle cx="1986" cy="898" r="1.3"/><circle cx="1979" cy="895" r="1.4"/><circle cx="1987" cy="892" r="1.1"/><circle cx="2026" cy="886" r="3.7"/><circle cx="2024" cy="837" r="2.9"/><circle cx="2029" cy="837" r="1.5"/><circle cx="1976" cy="850" r="2.1"/><circle cx="1981" cy="799" r="3.2"/><circle cx="1953" cy="901" r="2.6"/><circle cx="1955" cy="903" r="1.7"/><circle cx="1959" cy="898" r="2.3"/></g>
<g transform="translate(2148.0 782.4) scale(1.6853 1.6841)"><rect width="116" height="88" fill="#50cc80" stroke="none"/><path fill="#5ecd74" d="M0 0h116v88h-89l-1-1h-6l-1 1h-4l-1-1h-2l-1 1h-11z"/><path fill="#6ecd67" d="M0 0h116v75l-1-1v-2l-1-1h-2l-1-1v-2l-1-1h-2l-1 1v2l1 1h2l1 1v2l1 1h2l1 1v2l1 1v9h-13l-1-1h-2l-1 1h-48l-1-1h-2l-1-1v-6l-1-1h-10l-1-1v-2l-1-1h-18l-1-1v-2l-1-1h-2l-1 1v6l-1 1h-2l-1-1v-6l-1-1h-6zM4 7l-1 1v2l1 1h2l1-1v-2l-1-1zM100 71l-1 1v10l1 1h2l1-1v-10l-1-1zM0 75h2l1 1v2l-1 1h-2z"/><path fill="#7ecc5a" d="M31 0h60v2l1 1h10l1 1v2l1 1h12v48l-1 1v2l-1 1h-2l-1 1v2l-1 1h-6l-1 1v2l-1 1h-6l-1 1v2l-1 1h-6l-1 1v2l-1 1h-6l-1 1v2l-1 1h-2l-1 1v2l1 1h10l1 1v2l-1 1h-10l-1 1h-8l-1-1h-6l-1-1v-2l1-1h2l1-1v-2l-1-1h-2l-1 1v2l-1 1h-2l-1-1v-6l-1-1h-10l-1-1v-2l-1-1h-6l-1-1v-2l-1-1h-2l-1 1v2l-1 1h-6l-1-1v-2l-1-1h-10l-1-1v-2l-1-1h-2l-1-1v-2l-1-1h-6v-8h2l1-1v-6l1-1h2l1-1v-22l1-1h6l1-1v-6l1-1h2l1-1v-2l1-1h2l1-1v-2l1-1h6l1-1z"/><path fill="#8fcb4e" d="M47 0h28v2l1 1h10l1 1v2l1 1h6l1 1v2l1 1h2l1 1v2l1 1h2l1-1v-2l1-1h2l1 1v2l1 1h2l1 1v2l1 1h4v8l-1 1v10l1 1v4h-4l-1 1v6l-1 1h-6l-1 1v6l-1 1h-10l-1 1v2l-1 1h-2l-1 1v2l-1 1h-2l-1 1v2l-1 1h-14l-1 1v2l-1 1h-2l-1-1v-2l-1-1h-10l-1-1v-2l-1-1h-14l-1-1v-2l-1-1h-10l-1-1v-2l-1-1h-2l-1-1v-2l-1-1h-6l-1-1v-2l1-1h2l1-1v-2l1-1h2l1-1v-2l-1-1h-2l-1-1v-10l1-1h2l1-1v-10l1-1h2l1-1v-2l1-1h2l1-1v-2l1-1h6l1-1v-2l1-1h10l1-1z"/><path fill="#9fc941" d="M59 4l1-1h6l1 1v2l1 1h2l1-1v-2l1-1h2l1 1v2l1 1h6l1 1v2l1 1h2l1 1v2l1 1h6l1 1v6l1 1h2l1 1v6l1 1h2l1 1v6l-1 1h-2l-1 1v10l-1 1h-2l-1 1v2l-1 1h-6l-1 1v2l-1 1h-6l-1 1v2l-1 1h-2l-1 1v2l-1 1h-2l-1-1v-2l-1-1h-2l-1 1v2l-1 1h-6l-1-1v-2l-1-1h-22l-1-1v-2l-1-1h-2l-1-1v-6l-1-1h-2l-1 1v2l-1 1h-2l-1-1v-6l1-1h2l1-1v-2l-1-1h-2l-1-1v-2l1-1h2l1-1v-2l1-1h2l1-1v-14l1-1h2l1-1v-2l1-1h2l1-1v-2l1-1h6l1-1v-2l1-1h10l1-1z"/><path fill="#afc637" d="M51 12l1-1h26l1 1v2l1 1h2l1 1v2l1 1h2l1 1v2l-1 1h-2l-1 1v6l1 1h2l1-1v-2l1-1h2l1 1v6l-1 1h-2l-1 1v6l-1 1h-2l-1 1v2l-1 1h-2l-1 1v2l-1 1h-6l-1 1v2l-1 1h-2l-1-1v-2l-1-1h-2l-1 1v2l-1 1h-22l-1-1v-2l-1-1h-2l-1-1v-18l1-1h2l1-1v-10l1-1h2l1-1v-2l1-1h6l1-1z"/><path fill="#bec32e" d="M55 16l1-1h10l1 1v2l1 1h6l1 1v2l1 1h2l1 1v10l-1 1h-2l-1 1v6l-1 1h-2l-1 1v2l-1 1h-10l-1 1v2l-1 1h-2l-1-1v-2l-1-1h-6l-1-1v-2l-1-1h-2l-1-1v-10l1-1h2l1-1v-10l1-1h6l1-1z"/><path fill="#ccc028" d="M59 24l1-1h2l1 1v2l1 1h2l1 1v10l-1 1h-2l-1-1v-2l-1-1h-2l-1 1v2l-1 1h-6l-1-1v-6l1-1h2l1-1v-2l1-1h2l1-1z"/></g><g fill="#000" stroke="none"><circle cx="2264" cy="842" r="1.7"/><circle cx="2197" cy="829" r="3.4"/><circle cx="2190" cy="823" r="2.3"/><circle cx="2326" cy="886" r="3.5"/><circle cx="2325" cy="886" r="1.8"/><circle cx="2329" cy="883" r="1.8"/><circle cx="2330" cy="885" r="3.1"/><circle cx="2231" cy="878" r="1.6"/><circle cx="2235" cy="879" r="1.0"/><circle cx="2316" cy="845" r="2.6"/><circle cx="2254" cy="793" r="1.6"/><circle cx="2252" cy="875" r="1.7"/><circle cx="2259" cy="849" r="1.7"/><circle cx="2300" cy="924" r="3.3"/><circle cx="2300" cy="921" r="2.6"/><circle cx="2192" cy="885" r="2.2"/><circle cx="2191" cy="879" r="1.5"/><circle cx="2197" cy="891" r="1.9"/><circle cx="2193" cy="880" r="1.4"/><circle cx="2228" cy="819" r="3.5"/><circle cx="2225" cy="816" r="1.8"/><circle cx="2234" cy="826" r="2.1"/><circle cx="2235" cy="825" r="3.0"/><circle cx="2258" cy="864" r="3.7"/><circle cx="2219" cy="813" r="1.5"/><circle cx="2213" cy="814" r="1.3"/><circle cx="2213" cy="808" r="1.6"/><circle cx="2218" cy="812" r="1.0"/><circle cx="2213" cy="810" r="1.2"/><circle cx="2211" cy="806" r="1.2"/></g>
<g transform="translate(1343.0 930.6) scale(1.6900 1.7022)"><rect width="120" height="92" fill="#3e26a8" stroke="none"/><path fill="#402ab3" d="M0 0h120v92h-120zM32 19l-1 1v2l-1 1h-2l-1 1v14l-1 1h-2l-1 1v34l1 1h10l1 1v2l1 1h46l1-1v-2l1-1h6l1-1v-2l1-1h2l1-1v-42l-1-1h-2l-1-1v-2l-1-1h-2l-1-1v-2l-1-1h-18l-1 1v2l-1 1h-2l-1-1v-2l-1-1z"/></g><g fill="#000" stroke="none"><circle cx="1427" cy="1081" r="2.9"/><circle cx="1474" cy="1069" r="3.0"/><circle cx="1427" cy="951" r="2.7"/><circle cx="1433" cy="953" r="1.6"/><circle cx="1524" cy="1078" r="3.7"/><circle cx="1524" cy="1084" r="2.7"/><circle cx="1520" cy="1075" r="2.4"/></g>
<g transform="translate(1545.8 930.6) scale(1.7086 1.7022)"><rect width="116" height="92" fill="#4538d8" stroke="none"/><path fill="#473ee1" d="M11 4l1-1h14l1 1v2l1 1h2l1-1v-2l1-1h2l1 1v2l1 1h14l1-1v-2l1-1h2l1 1v6l1 1h10l1 1v2l1 1h2l1-1v-2l-1-1h-2l-1-1v-2l1-1h6l1 1v2l1 1h2l1-1v-6l1-1h14l1 1v2l1 1h10l1 1v2l-1 1h-2l-1 1v2l1 1h2l1 1v10l-1 1h-2l-1 1v6l1 1h2l1 1v2l-1 1h-2l-1 1v6l1 1h10l1 1v2l1 1v32l-1 1v6l-1 1h-6l-1-1v-2l-1-1h-2l-1 1v2l-1 1h-30l-1-1v-2l-1-1h-2l-1 1v2l-1 1h-10l-1-1v-2l-1-1h-14l-1 1v2l-1 1h-2l-1-1v-2l-1-1h-14l-1-1v-2l-1-1h-10l-1 1v2l-1 1h-2l-1-1v-14l-1-1h-2v-32h2l1-1v-2l1-1h2l1-1v-2l-1-1h-2l-1-1v-14l1-1h2l1-1v-6l1-1h2l1-1zM107 40l1-1h6l1 1v2l-1 1h-6l-1-1z"/></g><g fill="#000" stroke="none"><circle cx="1728" cy="1055" r="1.9"/><circle cx="1726" cy="1059" r="1.2"/><circle cx="1713" cy="1073" r="3.2"/><circle cx="1636" cy="1033" r="3.6"/><circle cx="1630" cy="1026" r="2.7"/><circle cx="1643" cy="973" r="2.3"/><circle cx="1617" cy="999" r="3.3"/><circle cx="1612" cy="1002" r="3.0"/><circle cx="1616" cy="1000" r="1.9"/></g>
<g transform="translate(1744.0 930.6) scale(1.6897 1.7022)"><rect width="116" height="92" fill="#347afd" stroke="none"/><path fill="#2f80fa" d="M0 0h116v91h-8l-1-1v-2l-1-1h-14l-1 1v2l-1 1h-2l-1-1v-2l-1-1h-6l-1 1v4h-79z"/><path fill="#2e87f7" d="M7 0h8v2l1 1h6l1 1v2l1 1h14l1 1v2l1 1h6l1-1v-2l1-1h2l1-1v-2l1-1h2l1 1v2l1 1h2l1-1v-2l1-1h6l1-1v-2h4v2l1 1h18l1-1v-2h4v2l1 1h14l1 1v10l-1 1h-2l-1 1v6l1 1h2l1 1v26l-1 1h-2l-1-1v-2l-1-1h-2l-1 1v6l1 1h2l1 1v2l-1 1h-2l-1 1v10l-1 1h-6l-1-1v-2l-1-1h-2l-1-1v-2l-1-1h-2l-1-1v-2l-1-1h-2l-1 1v2l1 1h2l1 1v2l-1 1h-6l-1 1v2l-1 1h-2l-1-1v-14l-1-1h-2l-1 1v6l-1 1h-10l-1 1v2l-1 1h-2l-1 1v6l-1 1h-2l-1 1v2l-1 1h-2l-1 1v2l1 1h2l1-1v-2l1-1h6l1 1v2l1 1h2l1-1v-2l1-1h2l1 1v6l1 1h2l1 1v2l-1 1h-10l-1 1h-28l-1-1h-2l-1 1h-4v-4l-1-1h-6l-1-1v-2l1-1h2l1-1v-2l-1-1h-2l-1 1v2l-1 1h-2l-1-1v-6l1-1h6l1-1v-2l-1-1h-2l-1-1v-2l1-1h6l1 1v10l1 1h2l1-1v-10l1-1h2l1-1v-2l-1-1h-6l-1-1v-6l1-1h6l1 1v2l1 1h2l1-1v-2l-1-1h-2l-1-1v-2l-1-1h-10l-1-1v-6l-1-1h-6l-1 1v6l-1 1h-2l-1 1v2l1 1h2l1 1v2l1 1h2l1 1v2l-1 1h-6l-1 1v2l-1 1h-2l-1 1v2l1 1h6l1 1v2l-1 1h-2l-1 1v6l-1 1h-6v-4h2l1-1v-2l-1-1h-2v-36h2l1-1v-14l-1-1h-2v-12h6l1 1v2l1 1h6l1-1v-2l1-1h2l1-1v-2l-1-1h-6l-1-1v-2l-1-1h-2l-1-1zM20 15l-1 1v2l1 1h2l1-1v-2l-1-1zM32 11l-1 1v6l1 1h10l1 1v2l1 1h2l1-1v-2l-1-1h-2l-1-1v-2l-1-1h-6l-1-1v-2l-1-1zM48 63l-1 1v2l1 1h2l1-1v-2l-1-1zM56 11l-1 1v2l1 1h2l1-1v-2l-1-1zM16 23l-1 1v2l1 1h2l1-1v-2l-1-1zM71 80l1-1h2l1 1v6l-1 1h-2l-1-1z"/><path fill="#2d8df2" d="M67 36l1-1h2l1 1v2l-1 1h-2l-1-1zM75 36l1-1h2l1 1v6l-1 1h-6l-1-1v-2l1-1h2l1-1zM47 48l1-1h6l1 1v2l-1 1h-6l-1-1z"/></g><g fill="#000" stroke="none"><circle cx="1834" cy="1042" r="1.9"/><circle cx="1828" cy="1038" r="1.6"/><circle cx="1776" cy="1033" r="1.7"/><circle cx="1769" cy="1039" r="1.5"/><circle cx="1897" cy="1009" r="3.4"/><circle cx="1930" cy="1036" r="2.1"/><circle cx="1932" cy="1040" r="1.9"/><circle cx="1931" cy="1039" r="1.1"/><circle cx="1805" cy="943" r="3.6"/><circle cx="1800" cy="938" r="1.9"/><circle cx="1755" cy="939" r="2.9"/><circle cx="1750" cy="934" r="1.9"/><circle cx="1933" cy="953" r="3.5"/><circle cx="1932" cy="958" r="2.1"/><circle cx="1938" cy="957" r="2.3"/><circle cx="1828" cy="943" r="3.6"/><circle cx="1780" cy="972" r="3.4"/><circle cx="1782" cy="973" r="2.7"/><circle cx="1783" cy="967" r="2.6"/><circle cx="1848" cy="1050" r="3.2"/><circle cx="1846" cy="1051" r="2.2"/><circle cx="1853" cy="1043" r="2.8"/><circle cx="1872" cy="971" r="2.5"/><circle cx="1866" cy="974" r="2.2"/><circle cx="1788" cy="950" r="3.0"/><circle cx="1781" cy="956" r="2.2"/><circle cx="1785" cy="955" r="2.6"/><circle cx="1922" cy="1012" r="3.2"/><circle cx="1782" cy="938" r="1.5"/><circle cx="1776" cy="940" r="1.2"/><circle cx="1786" cy="937" r="1.0"/><circle cx="1785" cy="937" r="1.3"/><circle cx="1870" cy="1011" r="2.8"/><circle cx="1874" cy="1015" r="2.2"/><circle cx="1751" cy="1022" r="2.8"/></g>
<g transform="translate(1940.0 930.6) scale(1.7049 1.7022)"><rect width="122" height="92" fill="#19addc" stroke="none"/><path fill="#11b1d6" d="M3 0h8v2l1 1h2l1-1v-2h107v92h-119l-1-1h-2v-84h2l1-1z"/><path fill="#06b5cf" d="M71 0h48v6l-1 1h-2l-1 1v2l1 1h2l1 1v2l-1 1h-6l-1 1v14l-1 1h-10l-1 1v2l1 1h10l1 1v2l-1 1h-6l-1 1v2l-1 1h-2l-1 1v2l1 1h10l1-1v-2l1-1h2l1 1v2l1 1h2l1 1v2l-1 1h-2l-1 1v6l1 1h2l1 1v10l-1 1h-10l-1 1v2l-1 1h-2l-1 1v6l-1 1h-2l-1 1v2l-1 1h-2l-1 1v2l-1 1h-6l-1 1h-16l-1-1h-26l-1-1v-2l-1-1h-22l-1-1v-6l1-1h2l1-1v-2l-1-1h-2l-1 1v2l-1 1h-6l-1 1v2l-1 1h-10v-24h2l1-1v-2l-1-1h-2v-24h2l1-1v-6l1-1h6l1-1v-6l1-1h14l1-1v-2l1-1h10l1-1v-2l1-1h2l1 1v2l1 1h2l1 1v2l1 1h6l1-1v-10l1-1h14l1-1zM15 8l1-1h6l1 1v2l-1 1h-6l-1-1zM95 92l1-1h2l1 1z"/><path fill="#01b9c8" d="M91 4l1-1h2l1 1v2l1 1h2l1-1v-2l1-1h2l1 1v6l-1 1h-2l-1 1v2l-1 1h-10l-1 1v2l-1 1h-2l-1-1v-6l-1-1h-2l-1-1v-2l1-1h10l1-1zM63 16l1-1h2l1 1v10l1 1h2l1-1v-6l1-1h10l1 1v2l-1 1h-6l-1 1v2l1 1h2l1 1v6l1 1h2l1-1v-2l1-1h2l1 1v2l1 1h2l1 1v2l-1 1h-6l-1 1v6l1 1h6l1 1v2l-1 1h-2l-1 1v2l-1 1h-10l-1 1v2l-1 1h-2l-1-1v-14l-1-1h-10l-1 1v10l-1 1h-2l-1-1v-6l-1-1h-2l-1-1v-2l-1-1h-10l-1 1v2l1 1h6l1 1v2l-1 1h-22l-1 1v6l-1 1h-2l-1-1v-2l-1-1h-2l-1-1v-6l-1-1h-2l-1-1v-10l1-1h6l1-1v-2l1-1h2l1-1v-6l1-1h2l1 1v2l1 1h6l1-1v-2l1-1h10l1 1v6l-1 1h-6l-1 1v2l-1 1h-2l-1 1v2l1 1h6l1-1v-2l1-1h2l1-1v-2l1-1h2l1-1v-6l1-1h2l1 1v2l1 1h2l1 1v6l1 1h2l1-1v-10l-1-1h-2l-1-1v-2l1-1h2l1-1zM20 39l-1 1v6l1 1h2l1-1v-2l1-1h6l1-1v-2l-1-1zM83 24l1-1h6l1 1v2l-1 1h-6l-1-1zM47 52l1-1h2l1 1v6l-1 1h-2l-1-1zM63 52l1-1h2l1 1v2l-1 1h-2l-1-1zM55 60l1-1h2l1 1v6l-1 1h-2l-1-1zM67 60l1-1h2l1 1v2l-1 1h-2l-1-1zM75 64l1-1h2l1 1v2l-1 1h-2l-1-1zM71 72l1-1h6l1 1v2l-1 1h-6l-1-1zM91 72l1-1h2l1 1v2l-1 1h-2l-1-1z"/></g><g fill="#000" stroke="none"><circle cx="2031" cy="950" r="2.3"/><circle cx="2032" cy="949" r="2.0"/><circle cx="2033" cy="948" r="1.9"/><circle cx="2031" cy="952" r="1.2"/><circle cx="2003" cy="993" r="2.1"/><circle cx="2006" cy="1000" r="1.2"/><circle cx="2003" cy="987" r="1.2"/><circle cx="2001" cy="997" r="1.3"/><circle cx="2055" cy="1002" r="1.6"/><circle cx="2054" cy="1000" r="1.3"/><circle cx="2056" cy="996" r="1.0"/><circle cx="2073" cy="984" r="3.4"/><circle cx="2070" cy="990" r="2.4"/><circle cx="2071" cy="982" r="2.3"/><circle cx="2079" cy="986" r="3.0"/><circle cx="2023" cy="1028" r="3.4"/><circle cx="2140" cy="1013" r="2.0"/><circle cx="2141" cy="1007" r="1.7"/><circle cx="2006" cy="972" r="3.2"/><circle cx="2001" cy="977" r="1.6"/><circle cx="2007" cy="970" r="2.3"/><circle cx="2107" cy="967" r="3.6"/><circle cx="2097" cy="989" r="1.5"/><circle cx="2099" cy="986" r="1.1"/><circle cx="1969" cy="1050" r="2.3"/><circle cx="1962" cy="1047" r="1.4"/><circle cx="2143" cy="1059" r="2.1"/><circle cx="2139" cy="1065" r="1.8"/><circle cx="2144" cy="1058" r="1.2"/><circle cx="2130" cy="1003" r="2.4"/><circle cx="2137" cy="997" r="1.4"/><circle cx="2114" cy="967" r="1.7"/><circle cx="2117" cy="967" r="1.4"/><circle cx="2017" cy="961" r="3.4"/><circle cx="2021" cy="975" r="2.7"/><circle cx="2027" cy="980" r="2.2"/><circle cx="2020" cy="975" r="2.2"/><circle cx="2134" cy="960" r="2.3"/><circle cx="2138" cy="960" r="1.7"/><circle cx="2133" cy="956" r="1.8"/><circle cx="2021" cy="943" r="1.7"/><circle cx="2026" cy="946" r="1.4"/><circle cx="2022" cy="941" r="1.0"/><circle cx="2076" cy="991" r="2.5"/><circle cx="1991" cy="959" r="2.6"/><circle cx="1993" cy="959" r="1.6"/><circle cx="2136" cy="1003" r="3.6"/><circle cx="2135" cy="1010" r="2.7"/><circle cx="2136" cy="1002" r="2.0"/><circle cx="2131" cy="1000" r="2.2"/></g>
<g transform="translate(2148.0 930.6) scale(1.6853 1.7022)"><rect width="116" height="92" fill="#2bc3a8" stroke="none"/><path fill="#2bc3a8" d="M0 0h95v2l1 1h14l1 1v2l1 1h2l1-1v-2l1-1v89h-116z"/><path fill="#32c69f" d="M11 0h72v2l1 1h6l1 1v2l1 1h6l1 1v2l1 1h6l1 1v2l1 1h2l1 1v2l1 1h2l1 1v6l1 1v4l-1 1v2l1 1v36l-1 1v10l-1 1h-2l-1 1v2l-1 1h-2l-1 1v2l-1 1h-6l-1 1h-40l-1-1h-2l-1 1h-8l-1-1h-2l-1 1h-24l-1-1h-2l-1-1v-2l-1-1h-6l-1-1v-2l-1-1h-2l-1-1v-2l-1-1h-2v-72h6l1-1v-2l1-1h2l1-1z"/><path fill="#38c896" d="M23 0h4v2l1 1h2l1-1v-2h40v2l1 1h10l1 1v2l1 1h2l1 1v6l1 1h6l1 1v2l1 1h2l1 1v6l1 1h2l1 1v2l1 1h2l1 1v2l1 1h2l1 1v6l-1 1h-2l-1 1v2l1 1h2l1 1v10l-1 1h-2l-1 1v2l1 1h2l1 1v6l-1 1h-2l-1 1v10l-1 1h-6l-1 1v2l-1 1h-30l-1-1v-2l-1-1h-2l-1 1v2l-1 1h-2l-1-1v-6l-1-1h-2l-1 1v2l-1 1h-10l-1-1v-2l-1-1h-30l-1-1v-2l-1-1h-6l-1-1v-2l1-1h2l1-1v-6l-1-1h-2l-1-1v-10l-1-1h-2v-4h2l1-1v-6l-1-1h-2v-4h2l1-1v-10l1-1h2l1-1v-2l-1-1h-2l-1-1v-2l1-1h2l1-1v-2l1-1h2l1-1v-6l1-1h10l1-1zM100 35l-1 1v2l1 1h2l1-1v-2l-1-1zM103 24l1-1h2l1 1v2l-1 1h-2l-1-1z"/><path fill="#42ca8b" d="M31 4l1-1h18l1 1v2l1 1h2l1-1v-2l1-1h14l1 1v2l1 1h2l1 1v2l1 1h2l1 1v2l1 1h2l1 1v6l1 1h10l1 1v2l-1 1h-10l-1 1v2l1 1h2l1 1v2l-1 1h-2l-1 1v14l-1 1h-2l-1 1v2l1 1h6l1 1v6l-1 1h-6l-1-1v-2l-1-1h-6l-1 1v2l1 1h2l1 1v2l-1 1h-2l-1 1v6l-1 1h-10l-1-1v-2l1-1h2l1-1v-2l-1-1h-6l-1 1v2l-1 1h-2l-1-1v-2l-1-1h-2l-1-1v-6l-1-1h-10l-1 1v2l1 1h6l1 1v2l-1 1h-10l-1-1v-2l-1-1h-18l-1-1v-6l1-1h2l1-1v-10l-1-1h-6l-1-1v-2l1-1h2l1-1v-14l1-1h2l1-1v-6l1-1h2l1-1v-2l1-1h6l1-1v-2l1-1h2l1-1zM72 51l-1 1v2l1 1h2l1-1v-2l-1-1zM87 52l1-1h2l1 1v2l-1 1h-2l-1-1zM95 56l1-1h6l1 1v2l-1 1h-6l-1-1zM91 60l1-1h2l1 1v6l-1 1h-2l-1-1zM75 68l1-1h2l1 1v6l-1 1h-2l-1-1zM83 76l1-1h2l1 1v2l-1 1h-2l-1-1z"/><path fill="#50cc80" d="M43 12l1-1h2l1 1v2l1 1h18l1 1v10l1 1h6l1 1v2l-1 1h-2l-1 1v2l-1 1h-14l-1-1v-2l-1-1h-2l-1 1v6l-1 1h-6l-1 1v6l-1 1h-2l-1-1v-2l-1-1h-2l-1-1v-2l1-1h2l1-1v-6l-1-1h-2l-1 1v6l-1 1h-10l-1-1v-2l1-1h2l1-1v-2l-1-1h-2l-1-1v-6l1-1h6l1-1v-6l1-1h10l1-1zM60 27l-1 1v2l1 1h2l1-1v-2l-1-1zM47 44l1-1h2l1 1v2l-1 1h-2l-1-1z"/></g><g fill="#000" stroke="none"><circle cx="2175" cy="974" r="2.7"/><circle cx="2179" cy="968" r="1.4"/><circle cx="2169" cy="977" r="1.7"/><circle cx="2162" cy="980" r="3.2"/><circle cx="2163" cy="983" r="2.6"/><circle cx="2165" cy="976" r="2.4"/><circle cx="2161" cy="975" r="2.3"/><circle cx="2330" cy="1051" r="2.4"/><circle cx="2182" cy="1044" r="3.6"/><circle cx="2175" cy="1043" r="2.9"/><circle cx="2189" cy="1050" r="2.9"/><circle cx="2200" cy="1003" r="3.4"/><circle cx="2201" cy="1083" r="2.1"/><circle cx="2198" cy="1087" r="1.4"/><circle cx="2201" cy="1090" r="1.3"/><circle cx="2302" cy="1045" r="2.3"/><circle cx="2164" cy="942" r="3.5"/><circle cx="2163" cy="949" r="3.0"/><circle cx="2169" cy="939" r="3.2"/><circle cx="2163" cy="945" r="2.1"/><circle cx="2171" cy="1000" r="2.1"/><circle cx="2179" cy="1018" r="2.8"/><circle cx="2173" cy="1024" r="2.3"/><circle cx="2163" cy="969" r="2.6"/><circle cx="2158" cy="966" r="1.3"/><circle cx="2190" cy="1071" r="1.7"/><circle cx="2187" cy="1078" r="1.5"/><circle cx="2191" cy="973" r="2.4"/><circle cx="2193" cy="973" r="1.9"/><circle cx="2198" cy="970" r="1.7"/><circle cx="2185" cy="974" r="2.1"/><circle cx="2233" cy="966" r="1.5"/><circle cx="2229" cy="969" r="0.9"/><circle cx="2338" cy="1078" r="3.4"/><circle cx="2336" cy="1081" r="2.1"/><circle cx="2339" cy="1083" r="2.1"/><circle cx="2345" cy="1085" r="2.4"/><circle cx="2329" cy="948" r="2.6"/><circle cx="2325" cy="949" r="1.8"/><circle cx="2293" cy="1082" r="2.3"/><circle cx="2256" cy="1003" r="1.7"/><circle cx="2256" cy="1002" r="0.9"/><circle cx="2253" cy="1000" r="1.1"/><circle cx="2330" cy="957" r="2.3"/><circle cx="2334" cy="1058" r="2.7"/><circle cx="2340" cy="1061" r="1.5"/><circle cx="2333" cy="1065" r="2.0"/><circle cx="2337" cy="1052" r="1.5"/><circle cx="2211" cy="1084" r="3.6"/><circle cx="2205" cy="1079" r="2.9"/><circle cx="2212" cy="1079" r="3.2"/><circle cx="2213" cy="1088" r="2.8"/><circle cx="2310" cy="965" r="3.3"/><circle cx="2309" cy="963" r="2.7"/><circle cx="2316" cy="961" r="2.6"/><circle cx="2191" cy="991" r="1.8"/><circle cx="2194" cy="997" r="1.6"/><circle cx="2186" cy="996" r="1.1"/><circle cx="2185" cy="993" r="1.2"/><circle cx="2284" cy="997" r="3.6"/><circle cx="2284" cy="996" r="3.1"/><circle cx="2154" cy="1030" r="2.5"/><circle cx="2157" cy="1024" r="1.2"/><circle cx="2156" cy="1036" r="1.8"/><circle cx="2247" cy="1019" r="3.4"/><circle cx="2251" cy="1020" r="2.7"/><circle cx="2175" cy="1045" r="2.5"/><circle cx="2215" cy="1072" r="1.9"/><circle cx="2212" cy="1070" r="1.4"/><circle cx="2215" cy="1067" r="1.7"/><circle cx="2216" cy="1078" r="1.3"/><circle cx="2292" cy="943" r="3.6"/><circle cx="2295" cy="940" r="2.0"/><circle cx="2296" cy="943" r="2.9"/><circle cx="2236" cy="1040" r="3.2"/></g>
</g>
<rect x="1343.0" y="633.2" width="1000.5" height="454.0" fill="none" stroke="#222" stroke-width="1"/>
<line x1="1545.8" y1="633.2" x2="1545.8" y2="1087.2" stroke="#000" stroke-width="4.5" stroke-linecap="butt"/>
<line x1="1744.0" y1="633.2" x2="1744.0" y2="1087.2" stroke="#000" stroke-width="4.5" stroke-linecap="butt"/>
<line x1="1940.0" y1="633.2" x2="1940.0" y2="1087.2" stroke="#000" stroke-width="4.5" stroke-linecap="butt"/>
<line x1="2148.0" y1="633.2" x2="2148.0" y2="1087.2" stroke="#000" stroke-width="4.2" stroke-linecap="butt"/>
<line x1="1343.0" y1="782.4" x2="2343.5" y2="782.4" stroke="#000" stroke-width="3.8" stroke-linecap="butt"/>
<line x1="1545.8" y1="930.6" x2="2343.5" y2="930.6" stroke="#000" stroke-width="3.2" stroke-linecap="butt"/>
<line x1="1343.0" y1="930.6" x2="1545.8" y2="930.6" stroke="#000" stroke-width="1.6" stroke-linecap="butt"/>
<linearGradient id="cbD" x1="0" y1="0" x2="0" y2="1"><stop offset="0.0000" stop-color="#f9fb15"/><stop offset="0.0667" stop-color="#f5e128"/><stop offset="0.1333" stop-color="#fec735"/><stop offset="0.2000" stop-color="#eaba31"/><stop offset="0.2667" stop-color="#bbc42f"/><stop offset="0.3333" stop-color="#81cc59"/><stop offset="0.4000" stop-color="#48cb86"/><stop offset="0.4667" stop-color="#29c3aa"/><stop offset="0.5333" stop-color="#01b9c7"/><stop offset="0.6000" stop-color="#1caadf"/><stop offset="0.6667" stop-color="#2797eb"/><stop offset="0.7333" stop-color="#2f80fa"/><stop offset="0.8000" stop-color="#4367fd"/><stop offset="0.8667" stop-color="#484ff2"/><stop offset="0.9333" stop-color="#4538d7"/><stop offset="1.0000" stop-color="#3e26a8"/></linearGradient><rect x="2358.6" y="633.2" width="25.4" height="454.0" fill="url(#cbD)" stroke="#333" stroke-width="0.8"/>
<line x1="2380.0" y1="646.4" x2="2384.0" y2="646.4" stroke="#222" stroke-width="1"/><line x1="2380.0" y1="728.7" x2="2384.0" y2="728.7" stroke="#222" stroke-width="1"/><line x1="2380.0" y1="810.7" x2="2384.0" y2="810.7" stroke="#222" stroke-width="1"/><line x1="2380.0" y1="891.8" x2="2384.0" y2="891.8" stroke="#222" stroke-width="1"/><line x1="2380.0" y1="972.7" x2="2384.0" y2="972.7" stroke="#222" stroke-width="1"/><line x1="2380.0" y1="1055.1" x2="2384.0" y2="1055.1" stroke="#222" stroke-width="1"/><rect x="600.9" y="29.2" width="79.5" height="58.4" fill="#fff"/><text x="639.9" y="72.2" class="tg" text-anchor="middle">(A)</text><rect x="1807.6" y="35.3" width="75.8" height="57.5" fill="#fff"/><text x="1844.8" y="77.8" class="tg" text-anchor="middle">(B)</text><rect x="594.0" y="635.2" width="77.8" height="59.8" fill="#fff"/><text x="632.2" y="678.9" class="tg" text-anchor="middle">(C)</text><rect x="1807.6" y="636.9" width="78.0" height="58.9" fill="#fff"/><text x="1845.9" y="680.1" class="tg" text-anchor="middle">(D)</text><text x="91.5" y="136.5" class="se" text-anchor="end">3 m</text><text x="91.5" y="300.3" class="se" text-anchor="end">6m</text><text x="91.5" y="464.2" class="se" text-anchor="end">10m</text><text x="1323.5" y="135.7" class="se" text-anchor="end">3 m</text><text x="1323.5" y="300.4" class="se" text-anchor="end">6m</text><text x="1322.0" y="464.2" class="se" text-anchor="end">10</text><text x="1324.0" y="545.5" class="se" text-anchor="end">m</text><text x="92.5" y="719.0" class="se" text-anchor="end">3 m</text><text x="92.5" y="883.0" class="se" text-anchor="end">6m</text><text x="92.5" y="1046.5" class="se" text-anchor="end">10m</text><text x="1327.0" y="694.6" class="se" text-anchor="end">3 m</text><text x="1327.0" y="860.4" class="se" text-anchor="end">6m</text><text x="1327.0" y="1022.6" class="se" text-anchor="end">10m</text><text x="2409.0" y="85.4" class="se" text-anchor="start">250</text><text x="2409.0" y="167.4" class="se" text-anchor="start">200</text><text x="2409.0" y="250.3" class="se" text-anchor="start">150</text><text x="2409.0" y="331.5" class="se" text-anchor="start">100</text><text x="2409.0" y="413.5" class="se" text-anchor="start">50</text><text x="2409.0" y="495.0" class="se" text-anchor="start">0</text><text x="2412.5" y="661.4" class="se" text-anchor="start">250</text><text x="2412.5" y="743.7" class="se" text-anchor="start">200</text><text x="2412.5" y="825.7" class="se" text-anchor="start">150</text><text x="2412.5" y="906.8" class="se" text-anchor="start">100</text><text x="2412.5" y="987.7" class="se" text-anchor="start">50</text><text x="2412.5" y="1070.1" class="se" text-anchor="start">0</text><text x="1170.0" y="677.0" class="se" text-anchor="start">250</text><text x="1170.0" y="760.5" class="se" text-anchor="start">200</text><text x="1170.0" y="842.0" class="se" text-anchor="start">150</text><text x="1170.0" y="924.0" class="se" text-anchor="start">100</text><text x="1170.0" y="1004.0" class="se" text-anchor="start">50</text><text x="1170.0" y="1086.4" class="se" text-anchor="start">0</text><text x="196.0" y="556.6" class="sa" text-anchor="start">20%</text><text x="388.2" y="556.6" class="sa" text-anchor="start">40%</text><text x="581.4" y="556.6" class="sa" text-anchor="start">60%</text><text x="773.6" y="556.6" class="sa" text-anchor="start">80%</text><text x="968.9" y="556.6" class="sa" text-anchor="start">100%</text><text x="1426.8" y="556.6" class="sa" text-anchor="start">20%</text><text x="1618.0" y="556.6" class="sa" text-anchor="start">40%</text><text x="1812.0" y="556.6" class="sa" text-anchor="start">60%</text><text x="2004.8" y="556.6" class="sa" text-anchor="start">80%</text><text x="2201.0" y="556.6" class="sa" text-anchor="start">100%</text><text x="198.1" y="1148.0" class="sa" text-anchor="start">20%</text><text x="390.0" y="1148.0" class="sa" text-anchor="start">40%</text><text x="583.5" y="1148.0" class="sa" text-anchor="start">60%</text><text x="776.2" y="1148.0" class="sa" text-anchor="start">80%</text><text x="971.5" y="1148.0" class="sa" text-anchor="start">100%</text><text x="1428.6" y="1147.2" class="sa" text-anchor="start">20%</text><text x="1621.3" y="1147.2" class="sa" text-anchor="start">40%</text><text x="1814.8" y="1147.2" class="sa" text-anchor="start">60%</text><text x="2007.0" y="1147.2" class="sa" text-anchor="start">80%</text><text x="2203.6" y="1147.2" class="sa" text-anchor="start">100%</text><g stroke="#000" fill="none"><path d="M8.9 1168V1.5H2495V1166.2H7.2" stroke-width="3.5"/><line x1="1241.5" y1="0" x2="1241.5" y2="589" stroke-width="4.8"/><line x1="1242.1" y1="589" x2="1242.1" y2="1166" stroke-width="3.6"/><line x1="8" y1="589.6" x2="2495" y2="589.6" stroke-width="4.3"/></g></svg></body></html>
